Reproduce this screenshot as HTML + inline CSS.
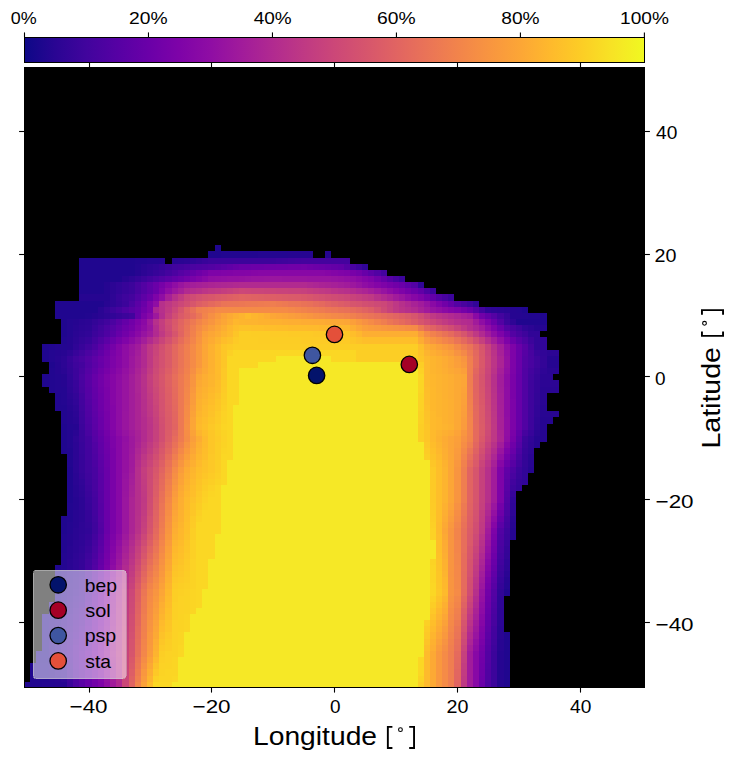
<!DOCTYPE html><html><head><meta charset="utf-8"><style>html,body{margin:0;padding:0;background:#fff;width:737px;height:761px;overflow:hidden}svg{display:block}text{fill:#000}circle,line,text{shape-rendering:geometricPrecision}</style></head><body><svg width="737" height="761" viewBox="0 0 737 761" font-family='"Liberation Sans", sans-serif' shape-rendering="crispEdges"><defs><linearGradient id="pl" x1="0" x2="1" y1="0" y2="0"><stop offset="0" stop-color="#0d0887"/><stop offset="0.05" stop-color="#2a0593"/><stop offset="0.1" stop-color="#41049d"/><stop offset="0.15" stop-color="#5601a4"/><stop offset="0.2" stop-color="#6a00a8"/><stop offset="0.25" stop-color="#7e03a8"/><stop offset="0.3" stop-color="#8f0da4"/><stop offset="0.35" stop-color="#a11b9b"/><stop offset="0.4" stop-color="#b12a90"/><stop offset="0.45" stop-color="#bf3984"/><stop offset="0.5" stop-color="#cc4778"/><stop offset="0.55" stop-color="#d6556d"/><stop offset="0.6" stop-color="#e16462"/><stop offset="0.65" stop-color="#ea7457"/><stop offset="0.7" stop-color="#f2844b"/><stop offset="0.75" stop-color="#f89540"/><stop offset="0.8" stop-color="#fca636"/><stop offset="0.85" stop-color="#feba2c"/><stop offset="0.9" stop-color="#fcce25"/><stop offset="0.95" stop-color="#f7e425"/><stop offset="1" stop-color="#f0f921"/></linearGradient></defs><rect x="24.50" y="37.40" width="619.90" height="24.90" fill="url(#pl)" stroke="#000" stroke-width="1.1"/><line x1="24.50" x2="24.50" y1="32.40" y2="37.40" stroke="#000" stroke-width="1.1"/><text transform="translate(10.86,23.55) scale(1.0388,1)" font-size="17.29">0%</text><line x1="148.48" x2="148.48" y1="32.40" y2="37.40" stroke="#000" stroke-width="1.1"/><text transform="translate(129.12,23.55) scale(1.1146,1)" font-size="17.29">20%</text><line x1="272.46" x2="272.46" y1="32.40" y2="37.40" stroke="#000" stroke-width="1.1"/><text transform="translate(253.68,23.55) scale(1.0974,1)" font-size="17.29">40%</text><line x1="396.44" x2="396.44" y1="32.40" y2="37.40" stroke="#000" stroke-width="1.1"/><text transform="translate(377.08,23.55) scale(1.1146,1)" font-size="17.29">60%</text><line x1="520.42" x2="520.42" y1="32.40" y2="37.40" stroke="#000" stroke-width="1.1"/><text transform="translate(501.25,23.55) scale(1.1088,1)" font-size="17.29">80%</text><line x1="644.40" x2="644.40" y1="32.40" y2="37.40" stroke="#000" stroke-width="1.1"/><text transform="translate(620.01,23.55) scale(1.1051,1)" font-size="17.29">100%</text><rect x="24.00" y="67.00" width="621.00" height="620.80" fill="#000"/><rect x="214.60" y="245.25" width="6.15" height="6.15" fill="#20068f"/><rect x="208.46" y="251.39" width="12.30" height="6.15" fill="#20068f"/><rect x="220.75" y="251.39" width="36.89" height="6.15" fill="#220690"/><rect x="257.64" y="251.39" width="30.74" height="6.15" fill="#240691"/><rect x="288.39" y="251.39" width="24.59" height="6.15" fill="#260591"/><rect x="325.28" y="251.39" width="6.15" height="6.15" fill="#260591"/><rect x="79.34" y="257.54" width="55.34" height="6.15" fill="#20068f"/><rect x="134.67" y="257.54" width="12.30" height="6.15" fill="#220690"/><rect x="146.97" y="257.54" width="12.30" height="6.15" fill="#240691"/><rect x="159.27" y="257.54" width="6.15" height="6.15" fill="#260591"/><rect x="171.56" y="257.54" width="6.15" height="6.15" fill="#280592"/><rect x="177.71" y="257.54" width="6.15" height="6.15" fill="#2a0593"/><rect x="183.86" y="257.54" width="6.15" height="6.15" fill="#2c0594"/><rect x="190.01" y="257.54" width="6.15" height="6.15" fill="#2f0596"/><rect x="196.16" y="257.54" width="6.15" height="6.15" fill="#330597"/><rect x="202.31" y="257.54" width="6.15" height="6.15" fill="#38049a"/><rect x="208.46" y="257.54" width="67.63" height="6.15" fill="#3c049b"/><rect x="276.09" y="257.54" width="6.15" height="6.15" fill="#3e049c"/><rect x="282.24" y="257.54" width="6.15" height="6.15" fill="#3f049c"/><rect x="288.39" y="257.54" width="6.15" height="6.15" fill="#41049d"/><rect x="294.53" y="257.54" width="6.15" height="6.15" fill="#43039e"/><rect x="300.68" y="257.54" width="49.19" height="6.15" fill="#44039e"/><rect x="79.34" y="263.69" width="55.34" height="6.15" fill="#20068f"/><rect x="134.67" y="263.69" width="6.15" height="6.15" fill="#240691"/><rect x="140.82" y="263.69" width="6.15" height="6.15" fill="#2a0593"/><rect x="146.97" y="263.69" width="6.15" height="6.15" fill="#2e0595"/><rect x="153.12" y="263.69" width="6.15" height="6.15" fill="#310597"/><rect x="159.27" y="263.69" width="6.15" height="6.15" fill="#370499"/><rect x="165.42" y="263.69" width="6.15" height="6.15" fill="#3c049b"/><rect x="171.56" y="263.69" width="6.15" height="6.15" fill="#41049d"/><rect x="177.71" y="263.69" width="6.15" height="6.15" fill="#44039e"/><rect x="183.86" y="263.69" width="6.15" height="6.15" fill="#48039f"/><rect x="190.01" y="263.69" width="6.15" height="6.15" fill="#4b03a1"/><rect x="196.16" y="263.69" width="6.15" height="6.15" fill="#4e02a2"/><rect x="202.31" y="263.69" width="6.15" height="6.15" fill="#5002a2"/><rect x="208.46" y="263.69" width="6.15" height="6.15" fill="#5302a3"/><rect x="214.60" y="263.69" width="6.15" height="6.15" fill="#5801a4"/><rect x="220.75" y="263.69" width="6.15" height="6.15" fill="#5c01a6"/><rect x="226.90" y="263.69" width="6.15" height="6.15" fill="#6100a7"/><rect x="233.05" y="263.69" width="6.15" height="6.15" fill="#6600a7"/><rect x="239.20" y="263.69" width="12.30" height="6.15" fill="#6a00a8"/><rect x="251.49" y="263.69" width="12.30" height="6.15" fill="#6c00a8"/><rect x="263.79" y="263.69" width="12.30" height="6.15" fill="#6e00a8"/><rect x="276.09" y="263.69" width="12.30" height="6.15" fill="#6f00a8"/><rect x="288.39" y="263.69" width="12.30" height="6.15" fill="#7100a8"/><rect x="300.68" y="263.69" width="6.15" height="6.15" fill="#7201a8"/><rect x="306.83" y="263.69" width="6.15" height="6.15" fill="#6f00a8"/><rect x="312.98" y="263.69" width="6.15" height="6.15" fill="#6c00a8"/><rect x="319.13" y="263.69" width="6.15" height="6.15" fill="#6a00a8"/><rect x="325.28" y="263.69" width="6.15" height="6.15" fill="#6700a8"/><rect x="331.43" y="263.69" width="6.15" height="6.15" fill="#6400a7"/><rect x="337.57" y="263.69" width="6.15" height="6.15" fill="#6100a7"/><rect x="343.72" y="263.69" width="6.15" height="6.15" fill="#5601a4"/><rect x="349.87" y="263.69" width="6.15" height="6.15" fill="#4903a0"/><rect x="356.02" y="263.69" width="6.15" height="6.15" fill="#3e049c"/><rect x="362.17" y="263.69" width="6.15" height="6.15" fill="#310597"/><rect x="79.34" y="269.83" width="55.34" height="6.15" fill="#20068f"/><rect x="134.67" y="269.83" width="6.15" height="6.15" fill="#260591"/><rect x="140.82" y="269.83" width="6.15" height="6.15" fill="#2c0594"/><rect x="146.97" y="269.83" width="6.15" height="6.15" fill="#310597"/><rect x="153.12" y="269.83" width="6.15" height="6.15" fill="#370499"/><rect x="159.27" y="269.83" width="6.15" height="6.15" fill="#3c049b"/><rect x="165.42" y="269.83" width="6.15" height="6.15" fill="#44039e"/><rect x="171.56" y="269.83" width="6.15" height="6.15" fill="#4c02a1"/><rect x="177.71" y="269.83" width="6.15" height="6.15" fill="#5502a4"/><rect x="183.86" y="269.83" width="6.15" height="6.15" fill="#5c01a6"/><rect x="190.01" y="269.83" width="6.15" height="6.15" fill="#6600a7"/><rect x="196.16" y="269.83" width="6.15" height="6.15" fill="#6e00a8"/><rect x="202.31" y="269.83" width="6.15" height="6.15" fill="#7501a8"/><rect x="208.46" y="269.83" width="12.30" height="6.15" fill="#7e03a8"/><rect x="220.75" y="269.83" width="6.15" height="6.15" fill="#8004a8"/><rect x="226.90" y="269.83" width="6.15" height="6.15" fill="#8104a7"/><rect x="233.05" y="269.83" width="12.30" height="6.15" fill="#8305a7"/><rect x="245.35" y="269.83" width="6.15" height="6.15" fill="#8405a7"/><rect x="251.49" y="269.83" width="6.15" height="6.15" fill="#8606a6"/><rect x="257.64" y="269.83" width="12.30" height="6.15" fill="#8707a6"/><rect x="269.94" y="269.83" width="55.34" height="6.15" fill="#8808a6"/><rect x="325.28" y="269.83" width="6.15" height="6.15" fill="#8606a6"/><rect x="331.43" y="269.83" width="6.15" height="6.15" fill="#8305a7"/><rect x="337.57" y="269.83" width="6.15" height="6.15" fill="#8004a8"/><rect x="343.72" y="269.83" width="6.15" height="6.15" fill="#7e03a8"/><rect x="349.87" y="269.83" width="6.15" height="6.15" fill="#7801a8"/><rect x="356.02" y="269.83" width="6.15" height="6.15" fill="#7201a8"/><rect x="362.17" y="269.83" width="6.15" height="6.15" fill="#6700a8"/><rect x="368.32" y="269.83" width="6.15" height="6.15" fill="#5c01a6"/><rect x="374.46" y="269.83" width="6.15" height="6.15" fill="#5102a3"/><rect x="380.61" y="269.83" width="6.15" height="6.15" fill="#44039e"/><rect x="79.34" y="275.98" width="43.04" height="6.15" fill="#20068f"/><rect x="122.38" y="275.98" width="6.15" height="6.15" fill="#280592"/><rect x="128.52" y="275.98" width="6.15" height="6.15" fill="#2e0595"/><rect x="134.67" y="275.98" width="6.15" height="6.15" fill="#350498"/><rect x="140.82" y="275.98" width="6.15" height="6.15" fill="#3c049b"/><rect x="146.97" y="275.98" width="6.15" height="6.15" fill="#44039e"/><rect x="153.12" y="275.98" width="6.15" height="6.15" fill="#4b03a1"/><rect x="159.27" y="275.98" width="6.15" height="6.15" fill="#5302a3"/><rect x="165.42" y="275.98" width="6.15" height="6.15" fill="#5b01a5"/><rect x="171.56" y="275.98" width="6.15" height="6.15" fill="#6300a7"/><rect x="177.71" y="275.98" width="6.15" height="6.15" fill="#6a00a8"/><rect x="183.86" y="275.98" width="6.15" height="6.15" fill="#7201a8"/><rect x="190.01" y="275.98" width="6.15" height="6.15" fill="#7a02a8"/><rect x="196.16" y="275.98" width="6.15" height="6.15" fill="#8104a7"/><rect x="202.31" y="275.98" width="6.15" height="6.15" fill="#8808a6"/><rect x="208.46" y="275.98" width="6.15" height="6.15" fill="#8f0da4"/><rect x="214.60" y="275.98" width="6.15" height="6.15" fill="#910ea3"/><rect x="220.75" y="275.98" width="6.15" height="6.15" fill="#920fa3"/><rect x="226.90" y="275.98" width="12.30" height="6.15" fill="#9410a2"/><rect x="239.20" y="275.98" width="6.15" height="6.15" fill="#9511a1"/><rect x="245.35" y="275.98" width="6.15" height="6.15" fill="#9613a1"/><rect x="251.49" y="275.98" width="12.30" height="6.15" fill="#9814a0"/><rect x="263.79" y="275.98" width="6.15" height="6.15" fill="#99159f"/><rect x="269.94" y="275.98" width="12.30" height="6.15" fill="#9a169f"/><rect x="282.24" y="275.98" width="24.59" height="6.15" fill="#99159f"/><rect x="306.83" y="275.98" width="24.59" height="6.15" fill="#9814a0"/><rect x="331.43" y="275.98" width="6.15" height="6.15" fill="#9613a1"/><rect x="337.57" y="275.98" width="6.15" height="6.15" fill="#9511a1"/><rect x="343.72" y="275.98" width="6.15" height="6.15" fill="#920fa3"/><rect x="349.87" y="275.98" width="6.15" height="6.15" fill="#8f0da4"/><rect x="356.02" y="275.98" width="6.15" height="6.15" fill="#8a09a5"/><rect x="362.17" y="275.98" width="6.15" height="6.15" fill="#8405a7"/><rect x="368.32" y="275.98" width="6.15" height="6.15" fill="#7e03a8"/><rect x="374.46" y="275.98" width="6.15" height="6.15" fill="#7201a8"/><rect x="380.61" y="275.98" width="6.15" height="6.15" fill="#6600a7"/><rect x="386.76" y="275.98" width="6.15" height="6.15" fill="#5801a4"/><rect x="392.91" y="275.98" width="6.15" height="6.15" fill="#4903a0"/><rect x="399.06" y="275.98" width="6.15" height="6.15" fill="#3c049b"/><rect x="79.34" y="282.13" width="24.59" height="6.15" fill="#20068f"/><rect x="103.93" y="282.13" width="6.15" height="6.15" fill="#260591"/><rect x="110.08" y="282.13" width="6.15" height="6.15" fill="#2c0594"/><rect x="116.23" y="282.13" width="6.15" height="6.15" fill="#310597"/><rect x="122.38" y="282.13" width="6.15" height="6.15" fill="#370499"/><rect x="128.52" y="282.13" width="6.15" height="6.15" fill="#3c049b"/><rect x="134.67" y="282.13" width="6.15" height="6.15" fill="#48039f"/><rect x="140.82" y="282.13" width="6.15" height="6.15" fill="#5302a3"/><rect x="146.97" y="282.13" width="6.15" height="6.15" fill="#5e01a6"/><rect x="153.12" y="282.13" width="6.15" height="6.15" fill="#6a00a8"/><rect x="159.27" y="282.13" width="6.15" height="6.15" fill="#7701a8"/><rect x="165.42" y="282.13" width="6.15" height="6.15" fill="#8405a7"/><rect x="171.56" y="282.13" width="6.15" height="6.15" fill="#8f0da4"/><rect x="177.71" y="282.13" width="6.15" height="6.15" fill="#99159f"/><rect x="183.86" y="282.13" width="6.15" height="6.15" fill="#a11b9b"/><rect x="190.01" y="282.13" width="6.15" height="6.15" fill="#a31e9a"/><rect x="196.16" y="282.13" width="6.15" height="6.15" fill="#a62098"/><rect x="202.31" y="282.13" width="6.15" height="6.15" fill="#a82296"/><rect x="208.46" y="282.13" width="6.15" height="6.15" fill="#ab2494"/><rect x="214.60" y="282.13" width="6.15" height="6.15" fill="#ac2694"/><rect x="220.75" y="282.13" width="6.15" height="6.15" fill="#ad2793"/><rect x="226.90" y="282.13" width="6.15" height="6.15" fill="#ae2892"/><rect x="233.05" y="282.13" width="6.15" height="6.15" fill="#b02991"/><rect x="239.20" y="282.13" width="67.63" height="6.15" fill="#b12a90"/><rect x="306.83" y="282.13" width="6.15" height="6.15" fill="#ae2892"/><rect x="312.98" y="282.13" width="6.15" height="6.15" fill="#ac2694"/><rect x="319.13" y="282.13" width="6.15" height="6.15" fill="#aa2395"/><rect x="325.28" y="282.13" width="6.15" height="6.15" fill="#a82296"/><rect x="331.43" y="282.13" width="6.15" height="6.15" fill="#a62098"/><rect x="337.57" y="282.13" width="6.15" height="6.15" fill="#a31e9a"/><rect x="343.72" y="282.13" width="6.15" height="6.15" fill="#a11b9b"/><rect x="349.87" y="282.13" width="6.15" height="6.15" fill="#9c179e"/><rect x="356.02" y="282.13" width="6.15" height="6.15" fill="#9613a1"/><rect x="362.17" y="282.13" width="6.15" height="6.15" fill="#8f0da4"/><rect x="368.32" y="282.13" width="6.15" height="6.15" fill="#8a09a5"/><rect x="374.46" y="282.13" width="6.15" height="6.15" fill="#8405a7"/><rect x="380.61" y="282.13" width="6.15" height="6.15" fill="#7e03a8"/><rect x="386.76" y="282.13" width="6.15" height="6.15" fill="#7701a8"/><rect x="392.91" y="282.13" width="6.15" height="6.15" fill="#7100a8"/><rect x="399.06" y="282.13" width="6.15" height="6.15" fill="#6a00a8"/><rect x="405.21" y="282.13" width="6.15" height="6.15" fill="#5e01a6"/><rect x="411.36" y="282.13" width="6.15" height="6.15" fill="#5302a3"/><rect x="417.50" y="282.13" width="6.15" height="6.15" fill="#310597"/><rect x="79.34" y="288.27" width="24.59" height="6.15" fill="#20068f"/><rect x="103.93" y="288.27" width="6.15" height="6.15" fill="#260591"/><rect x="110.08" y="288.27" width="6.15" height="6.15" fill="#2c0594"/><rect x="116.23" y="288.27" width="6.15" height="6.15" fill="#310597"/><rect x="122.38" y="288.27" width="6.15" height="6.15" fill="#370499"/><rect x="128.52" y="288.27" width="6.15" height="6.15" fill="#3c049b"/><rect x="134.67" y="288.27" width="6.15" height="6.15" fill="#48039f"/><rect x="140.82" y="288.27" width="6.15" height="6.15" fill="#5302a3"/><rect x="146.97" y="288.27" width="6.15" height="6.15" fill="#5e01a6"/><rect x="153.12" y="288.27" width="6.15" height="6.15" fill="#6a00a8"/><rect x="159.27" y="288.27" width="6.15" height="6.15" fill="#7e03a8"/><rect x="165.42" y="288.27" width="6.15" height="6.15" fill="#8f0da4"/><rect x="171.56" y="288.27" width="6.15" height="6.15" fill="#9c179e"/><rect x="177.71" y="288.27" width="6.15" height="6.15" fill="#a62098"/><rect x="183.86" y="288.27" width="6.15" height="6.15" fill="#b12a90"/><rect x="190.01" y="288.27" width="6.15" height="6.15" fill="#b42e8d"/><rect x="196.16" y="288.27" width="6.15" height="6.15" fill="#b7318a"/><rect x="202.31" y="288.27" width="6.15" height="6.15" fill="#bc3587"/><rect x="208.46" y="288.27" width="6.15" height="6.15" fill="#bf3984"/><rect x="214.60" y="288.27" width="6.15" height="6.15" fill="#c13b82"/><rect x="220.75" y="288.27" width="6.15" height="6.15" fill="#c43e7f"/><rect x="226.90" y="288.27" width="6.15" height="6.15" fill="#c6417d"/><rect x="233.05" y="288.27" width="6.15" height="6.15" fill="#c9447a"/><rect x="239.20" y="288.27" width="6.15" height="6.15" fill="#cc4778"/><rect x="245.35" y="288.27" width="6.15" height="6.15" fill="#cb4679"/><rect x="251.49" y="288.27" width="12.30" height="6.15" fill="#ca457a"/><rect x="263.79" y="288.27" width="12.30" height="6.15" fill="#c9447a"/><rect x="276.09" y="288.27" width="12.30" height="6.15" fill="#c8437b"/><rect x="288.39" y="288.27" width="12.30" height="6.15" fill="#c7427c"/><rect x="300.68" y="288.27" width="6.15" height="6.15" fill="#c6417d"/><rect x="306.83" y="288.27" width="6.15" height="6.15" fill="#c43e7f"/><rect x="312.98" y="288.27" width="6.15" height="6.15" fill="#c23c81"/><rect x="319.13" y="288.27" width="6.15" height="6.15" fill="#c03a83"/><rect x="325.28" y="288.27" width="6.15" height="6.15" fill="#be3885"/><rect x="331.43" y="288.27" width="6.15" height="6.15" fill="#bb3488"/><rect x="337.57" y="288.27" width="6.15" height="6.15" fill="#b83289"/><rect x="343.72" y="288.27" width="6.15" height="6.15" fill="#b6308b"/><rect x="349.87" y="288.27" width="6.15" height="6.15" fill="#b32c8e"/><rect x="356.02" y="288.27" width="6.15" height="6.15" fill="#ae2892"/><rect x="362.17" y="288.27" width="6.15" height="6.15" fill="#ab2494"/><rect x="368.32" y="288.27" width="6.15" height="6.15" fill="#a51f99"/><rect x="374.46" y="288.27" width="6.15" height="6.15" fill="#9e199d"/><rect x="380.61" y="288.27" width="6.15" height="6.15" fill="#9613a1"/><rect x="386.76" y="288.27" width="6.15" height="6.15" fill="#8e0ca4"/><rect x="392.91" y="288.27" width="6.15" height="6.15" fill="#8606a6"/><rect x="399.06" y="288.27" width="6.15" height="6.15" fill="#7e03a8"/><rect x="405.21" y="288.27" width="6.15" height="6.15" fill="#7501a8"/><rect x="411.36" y="288.27" width="6.15" height="6.15" fill="#6c00a8"/><rect x="417.50" y="288.27" width="6.15" height="6.15" fill="#6100a7"/><rect x="423.65" y="288.27" width="6.15" height="6.15" fill="#4e02a2"/><rect x="429.80" y="288.27" width="6.15" height="6.15" fill="#3c049b"/><rect x="79.34" y="294.42" width="30.74" height="6.15" fill="#260591"/><rect x="110.08" y="294.42" width="6.15" height="6.15" fill="#2e0595"/><rect x="116.23" y="294.42" width="6.15" height="6.15" fill="#370499"/><rect x="122.38" y="294.42" width="6.15" height="6.15" fill="#3e049c"/><rect x="128.52" y="294.42" width="6.15" height="6.15" fill="#44039e"/><rect x="134.67" y="294.42" width="6.15" height="6.15" fill="#5102a3"/><rect x="140.82" y="294.42" width="6.15" height="6.15" fill="#5e01a6"/><rect x="146.97" y="294.42" width="6.15" height="6.15" fill="#6a00a8"/><rect x="153.12" y="294.42" width="6.15" height="6.15" fill="#7e03a8"/><rect x="159.27" y="294.42" width="6.15" height="6.15" fill="#8f0da4"/><rect x="165.42" y="294.42" width="6.15" height="6.15" fill="#a62098"/><rect x="171.56" y="294.42" width="6.15" height="6.15" fill="#b6308b"/><rect x="177.71" y="294.42" width="6.15" height="6.15" fill="#c13b82"/><rect x="183.86" y="294.42" width="6.15" height="6.15" fill="#cc4778"/><rect x="190.01" y="294.42" width="6.15" height="6.15" fill="#cf4c74"/><rect x="196.16" y="294.42" width="6.15" height="6.15" fill="#d35171"/><rect x="202.31" y="294.42" width="6.15" height="6.15" fill="#d6556d"/><rect x="208.46" y="294.42" width="6.15" height="6.15" fill="#d8576b"/><rect x="214.60" y="294.42" width="6.15" height="6.15" fill="#da5b69"/><rect x="220.75" y="294.42" width="6.15" height="6.15" fill="#dc5d67"/><rect x="226.90" y="294.42" width="6.15" height="6.15" fill="#de5f65"/><rect x="233.05" y="294.42" width="6.15" height="6.15" fill="#df6263"/><rect x="239.20" y="294.42" width="6.15" height="6.15" fill="#e16462"/><rect x="245.35" y="294.42" width="6.15" height="6.15" fill="#e06363"/><rect x="251.49" y="294.42" width="6.15" height="6.15" fill="#df6263"/><rect x="257.64" y="294.42" width="6.15" height="6.15" fill="#de6164"/><rect x="263.79" y="294.42" width="6.15" height="6.15" fill="#de5f65"/><rect x="269.94" y="294.42" width="6.15" height="6.15" fill="#dd5e66"/><rect x="276.09" y="294.42" width="6.15" height="6.15" fill="#dc5d67"/><rect x="282.24" y="294.42" width="6.15" height="6.15" fill="#db5c68"/><rect x="288.39" y="294.42" width="6.15" height="6.15" fill="#da5b69"/><rect x="294.53" y="294.42" width="6.15" height="6.15" fill="#da5a6a"/><rect x="300.68" y="294.42" width="6.15" height="6.15" fill="#d9586a"/><rect x="306.83" y="294.42" width="6.15" height="6.15" fill="#d7566c"/><rect x="312.98" y="294.42" width="6.15" height="6.15" fill="#d5536f"/><rect x="319.13" y="294.42" width="6.15" height="6.15" fill="#d35171"/><rect x="325.28" y="294.42" width="6.15" height="6.15" fill="#d14e72"/><rect x="331.43" y="294.42" width="6.15" height="6.15" fill="#cf4c74"/><rect x="337.57" y="294.42" width="6.15" height="6.15" fill="#cd4a76"/><rect x="343.72" y="294.42" width="6.15" height="6.15" fill="#cc4778"/><rect x="349.87" y="294.42" width="6.15" height="6.15" fill="#c8437b"/><rect x="356.02" y="294.42" width="6.15" height="6.15" fill="#c5407e"/><rect x="362.17" y="294.42" width="6.15" height="6.15" fill="#c23c81"/><rect x="368.32" y="294.42" width="6.15" height="6.15" fill="#bf3984"/><rect x="374.46" y="294.42" width="6.15" height="6.15" fill="#b7318a"/><rect x="380.61" y="294.42" width="6.15" height="6.15" fill="#b12a90"/><rect x="386.76" y="294.42" width="6.15" height="6.15" fill="#aa2395"/><rect x="392.91" y="294.42" width="6.15" height="6.15" fill="#a11b9b"/><rect x="399.06" y="294.42" width="6.15" height="6.15" fill="#99159f"/><rect x="405.21" y="294.42" width="6.15" height="6.15" fill="#8f0da4"/><rect x="411.36" y="294.42" width="6.15" height="6.15" fill="#8707a6"/><rect x="417.50" y="294.42" width="6.15" height="6.15" fill="#7e03a8"/><rect x="423.65" y="294.42" width="6.15" height="6.15" fill="#7100a8"/><rect x="429.80" y="294.42" width="6.15" height="6.15" fill="#6300a7"/><rect x="435.95" y="294.42" width="6.15" height="6.15" fill="#5302a3"/><rect x="442.10" y="294.42" width="6.15" height="6.15" fill="#48039f"/><rect x="448.25" y="294.42" width="6.15" height="6.15" fill="#3c049b"/><rect x="54.74" y="300.57" width="49.19" height="6.15" fill="#20068f"/><rect x="103.93" y="300.57" width="6.15" height="6.15" fill="#280592"/><rect x="110.08" y="300.57" width="6.15" height="6.15" fill="#2e0595"/><rect x="116.23" y="300.57" width="6.15" height="6.15" fill="#350498"/><rect x="122.38" y="300.57" width="6.15" height="6.15" fill="#3c049b"/><rect x="128.52" y="300.57" width="6.15" height="6.15" fill="#4b03a1"/><rect x="134.67" y="300.57" width="6.15" height="6.15" fill="#5b01a5"/><rect x="140.82" y="300.57" width="6.15" height="6.15" fill="#6a00a8"/><rect x="146.97" y="300.57" width="6.15" height="6.15" fill="#7e03a8"/><rect x="153.12" y="300.57" width="6.15" height="6.15" fill="#8f0da4"/><rect x="159.27" y="300.57" width="6.15" height="6.15" fill="#b6308b"/><rect x="165.42" y="300.57" width="6.15" height="6.15" fill="#be3885"/><rect x="171.56" y="300.57" width="6.15" height="6.15" fill="#c5407e"/><rect x="177.71" y="300.57" width="6.15" height="6.15" fill="#cc4778"/><rect x="183.86" y="300.57" width="6.15" height="6.15" fill="#d14e72"/><rect x="190.01" y="300.57" width="6.15" height="6.15" fill="#d7566c"/><rect x="196.16" y="300.57" width="6.15" height="6.15" fill="#dd5e66"/><rect x="202.31" y="300.57" width="6.15" height="6.15" fill="#e06363"/><rect x="208.46" y="300.57" width="6.15" height="6.15" fill="#e4695e"/><rect x="214.60" y="300.57" width="6.15" height="6.15" fill="#e76e5b"/><rect x="220.75" y="300.57" width="6.15" height="6.15" fill="#ea7457"/><rect x="226.90" y="300.57" width="6.15" height="6.15" fill="#eb7556"/><rect x="233.05" y="300.57" width="6.15" height="6.15" fill="#eb7655"/><rect x="239.20" y="300.57" width="6.15" height="6.15" fill="#ec7754"/><rect x="245.35" y="300.57" width="6.15" height="6.15" fill="#ed7953"/><rect x="251.49" y="300.57" width="6.15" height="6.15" fill="#ed7a52"/><rect x="257.64" y="300.57" width="6.15" height="6.15" fill="#ee7b51"/><rect x="263.79" y="300.57" width="6.15" height="6.15" fill="#ef7c51"/><rect x="269.94" y="300.57" width="6.15" height="6.15" fill="#ef7e50"/><rect x="276.09" y="300.57" width="6.15" height="6.15" fill="#ee7b51"/><rect x="282.24" y="300.57" width="6.15" height="6.15" fill="#ed7953"/><rect x="288.39" y="300.57" width="6.15" height="6.15" fill="#eb7655"/><rect x="294.53" y="300.57" width="6.15" height="6.15" fill="#eb7556"/><rect x="300.68" y="300.57" width="6.15" height="6.15" fill="#e97257"/><rect x="306.83" y="300.57" width="6.15" height="6.15" fill="#e87059"/><rect x="312.98" y="300.57" width="6.15" height="6.15" fill="#e66c5c"/><rect x="319.13" y="300.57" width="6.15" height="6.15" fill="#e4695e"/><rect x="325.28" y="300.57" width="6.15" height="6.15" fill="#e16462"/><rect x="331.43" y="300.57" width="6.15" height="6.15" fill="#de6164"/><rect x="337.57" y="300.57" width="6.15" height="6.15" fill="#dc5d67"/><rect x="343.72" y="300.57" width="6.15" height="6.15" fill="#da5a6a"/><rect x="349.87" y="300.57" width="6.15" height="6.15" fill="#d6556d"/><rect x="356.02" y="300.57" width="6.15" height="6.15" fill="#d5536f"/><rect x="362.17" y="300.57" width="6.15" height="6.15" fill="#d24f71"/><rect x="368.32" y="300.57" width="6.15" height="6.15" fill="#d04d73"/><rect x="374.46" y="300.57" width="6.15" height="6.15" fill="#cd4a76"/><rect x="380.61" y="300.57" width="6.15" height="6.15" fill="#cc4778"/><rect x="386.76" y="300.57" width="6.15" height="6.15" fill="#c5407e"/><rect x="392.91" y="300.57" width="6.15" height="6.15" fill="#be3885"/><rect x="399.06" y="300.57" width="6.15" height="6.15" fill="#b6308b"/><rect x="405.21" y="300.57" width="6.15" height="6.15" fill="#b02991"/><rect x="411.36" y="300.57" width="6.15" height="6.15" fill="#a82296"/><rect x="417.50" y="300.57" width="6.15" height="6.15" fill="#a11b9b"/><rect x="423.65" y="300.57" width="6.15" height="6.15" fill="#9613a1"/><rect x="429.80" y="300.57" width="6.15" height="6.15" fill="#8a09a5"/><rect x="435.95" y="300.57" width="6.15" height="6.15" fill="#7e03a8"/><rect x="442.10" y="300.57" width="6.15" height="6.15" fill="#7100a8"/><rect x="448.25" y="300.57" width="6.15" height="6.15" fill="#6300a7"/><rect x="454.40" y="300.57" width="6.15" height="6.15" fill="#5302a3"/><rect x="460.54" y="300.57" width="6.15" height="6.15" fill="#48039f"/><rect x="466.69" y="300.57" width="6.15" height="6.15" fill="#3e049c"/><rect x="472.84" y="300.57" width="6.15" height="6.15" fill="#310597"/><rect x="54.74" y="306.71" width="43.04" height="6.15" fill="#20068f"/><rect x="97.78" y="306.71" width="6.15" height="6.15" fill="#2a0593"/><rect x="103.93" y="306.71" width="6.15" height="6.15" fill="#330597"/><rect x="110.08" y="306.71" width="6.15" height="6.15" fill="#3c049b"/><rect x="116.23" y="306.71" width="6.15" height="6.15" fill="#44039e"/><rect x="122.38" y="306.71" width="6.15" height="6.15" fill="#4e02a2"/><rect x="128.52" y="306.71" width="6.15" height="6.15" fill="#5801a4"/><rect x="134.67" y="306.71" width="6.15" height="6.15" fill="#6100a7"/><rect x="140.82" y="306.71" width="6.15" height="6.15" fill="#7100a8"/><rect x="146.97" y="306.71" width="6.15" height="6.15" fill="#7e03a8"/><rect x="153.12" y="306.71" width="6.15" height="6.15" fill="#ab2494"/><rect x="159.27" y="306.71" width="6.15" height="6.15" fill="#b6308b"/><rect x="165.42" y="306.71" width="6.15" height="6.15" fill="#c13b82"/><rect x="171.56" y="306.71" width="6.15" height="6.15" fill="#cc4778"/><rect x="177.71" y="306.71" width="6.15" height="6.15" fill="#d6556d"/><rect x="183.86" y="306.71" width="6.15" height="6.15" fill="#e16462"/><rect x="190.01" y="306.71" width="6.15" height="6.15" fill="#e87059"/><rect x="196.16" y="306.71" width="6.15" height="6.15" fill="#ef7e50"/><rect x="202.31" y="306.71" width="6.15" height="6.15" fill="#f1814d"/><rect x="208.46" y="306.71" width="6.15" height="6.15" fill="#f3854b"/><rect x="214.60" y="306.71" width="73.78" height="6.15" fill="#f58b47"/><rect x="288.39" y="306.71" width="6.15" height="6.15" fill="#f48849"/><rect x="294.53" y="306.71" width="6.15" height="6.15" fill="#f3854b"/><rect x="300.68" y="306.71" width="6.15" height="6.15" fill="#f1834c"/><rect x="306.83" y="306.71" width="6.15" height="6.15" fill="#f0804e"/><rect x="312.98" y="306.71" width="6.15" height="6.15" fill="#ef7e50"/><rect x="319.13" y="306.71" width="6.15" height="6.15" fill="#ee7b51"/><rect x="325.28" y="306.71" width="6.15" height="6.15" fill="#ec7754"/><rect x="331.43" y="306.71" width="6.15" height="6.15" fill="#eb7556"/><rect x="337.57" y="306.71" width="6.15" height="6.15" fill="#e97257"/><rect x="343.72" y="306.71" width="6.15" height="6.15" fill="#e87059"/><rect x="349.87" y="306.71" width="6.15" height="6.15" fill="#e66c5c"/><rect x="356.02" y="306.71" width="6.15" height="6.15" fill="#e3685f"/><rect x="362.17" y="306.71" width="6.15" height="6.15" fill="#e06363"/><rect x="368.32" y="306.71" width="6.15" height="6.15" fill="#dd5e66"/><rect x="374.46" y="306.71" width="6.15" height="6.15" fill="#d6556d"/><rect x="380.61" y="306.71" width="6.15" height="6.15" fill="#ce4b75"/><rect x="386.76" y="306.71" width="6.15" height="6.15" fill="#c7427c"/><rect x="392.91" y="306.71" width="6.15" height="6.15" fill="#bf3984"/><rect x="399.06" y="306.71" width="6.15" height="6.15" fill="#ba3388"/><rect x="405.21" y="306.71" width="6.15" height="6.15" fill="#b52f8c"/><rect x="411.36" y="306.71" width="6.15" height="6.15" fill="#b12a90"/><rect x="417.50" y="306.71" width="6.15" height="6.15" fill="#a82296"/><rect x="423.65" y="306.71" width="6.15" height="6.15" fill="#a01a9c"/><rect x="429.80" y="306.71" width="6.15" height="6.15" fill="#9613a1"/><rect x="435.95" y="306.71" width="6.15" height="6.15" fill="#910ea3"/><rect x="442.10" y="306.71" width="6.15" height="6.15" fill="#8a09a5"/><rect x="448.25" y="306.71" width="6.15" height="6.15" fill="#8405a7"/><rect x="454.40" y="306.71" width="6.15" height="6.15" fill="#7e03a8"/><rect x="460.54" y="306.71" width="6.15" height="6.15" fill="#7401a8"/><rect x="466.69" y="306.71" width="6.15" height="6.15" fill="#6a00a8"/><rect x="472.84" y="306.71" width="6.15" height="6.15" fill="#5801a4"/><rect x="478.99" y="306.71" width="6.15" height="6.15" fill="#44039e"/><rect x="485.14" y="306.71" width="6.15" height="6.15" fill="#310597"/><rect x="491.29" y="306.71" width="6.15" height="6.15" fill="#2e0595"/><rect x="497.43" y="306.71" width="6.15" height="6.15" fill="#2c0594"/><rect x="503.58" y="306.71" width="6.15" height="6.15" fill="#2a0593"/><rect x="509.73" y="306.71" width="6.15" height="6.15" fill="#260591"/><rect x="515.88" y="306.71" width="6.15" height="6.15" fill="#240691"/><rect x="522.03" y="306.71" width="6.15" height="6.15" fill="#20068f"/><rect x="54.74" y="312.86" width="30.74" height="6.15" fill="#20068f"/><rect x="85.48" y="312.86" width="6.15" height="6.15" fill="#220690"/><rect x="91.63" y="312.86" width="6.15" height="6.15" fill="#260591"/><rect x="97.78" y="312.86" width="6.15" height="6.15" fill="#2a0593"/><rect x="103.93" y="312.86" width="6.15" height="6.15" fill="#2e0595"/><rect x="110.08" y="312.86" width="6.15" height="6.15" fill="#310597"/><rect x="116.23" y="312.86" width="6.15" height="6.15" fill="#370499"/><rect x="122.38" y="312.86" width="6.15" height="6.15" fill="#3c049b"/><rect x="128.52" y="312.86" width="6.15" height="6.15" fill="#41049d"/><rect x="134.67" y="312.86" width="6.15" height="6.15" fill="#6300a7"/><rect x="140.82" y="312.86" width="6.15" height="6.15" fill="#7a02a8"/><rect x="146.97" y="312.86" width="6.15" height="6.15" fill="#8808a6"/><rect x="153.12" y="312.86" width="6.15" height="6.15" fill="#9d189d"/><rect x="159.27" y="312.86" width="6.15" height="6.15" fill="#b42e8d"/><rect x="165.42" y="312.86" width="6.15" height="6.15" fill="#c5407e"/><rect x="171.56" y="312.86" width="6.15" height="6.15" fill="#d14e72"/><rect x="177.71" y="312.86" width="6.15" height="6.15" fill="#da5a6a"/><rect x="183.86" y="312.86" width="6.15" height="6.15" fill="#df6263"/><rect x="190.01" y="312.86" width="6.15" height="6.15" fill="#e56a5d"/><rect x="196.16" y="312.86" width="6.15" height="6.15" fill="#eb7655"/><rect x="202.31" y="312.86" width="6.15" height="6.15" fill="#f2844b"/><rect x="208.46" y="312.86" width="6.15" height="6.15" fill="#f68f44"/><rect x="214.60" y="312.86" width="6.15" height="6.15" fill="#f9983e"/><rect x="220.75" y="312.86" width="6.15" height="6.15" fill="#fba238"/><rect x="226.90" y="312.86" width="6.15" height="6.15" fill="#fca934"/><rect x="233.05" y="312.86" width="6.15" height="6.15" fill="#fdaf31"/><rect x="239.20" y="312.86" width="6.15" height="6.15" fill="#fdb42f"/><rect x="245.35" y="312.86" width="6.15" height="6.15" fill="#feba2c"/><rect x="251.49" y="312.86" width="6.15" height="6.15" fill="#fdb52e"/><rect x="257.64" y="312.86" width="6.15" height="6.15" fill="#fdb130"/><rect x="263.79" y="312.86" width="6.15" height="6.15" fill="#fdac33"/><rect x="269.94" y="312.86" width="6.15" height="6.15" fill="#fca636"/><rect x="276.09" y="312.86" width="6.15" height="6.15" fill="#fca338"/><rect x="282.24" y="312.86" width="6.15" height="6.15" fill="#fba139"/><rect x="288.39" y="312.86" width="6.15" height="6.15" fill="#fa9e3b"/><rect x="294.53" y="312.86" width="6.15" height="6.15" fill="#fa9b3d"/><rect x="300.68" y="312.86" width="6.15" height="6.15" fill="#f9983e"/><rect x="306.83" y="312.86" width="6.15" height="6.15" fill="#f89540"/><rect x="312.98" y="312.86" width="6.15" height="6.15" fill="#f79143"/><rect x="319.13" y="312.86" width="6.15" height="6.15" fill="#f68f44"/><rect x="325.28" y="312.86" width="6.15" height="6.15" fill="#f58c46"/><rect x="331.43" y="312.86" width="6.15" height="6.15" fill="#f48948"/><rect x="337.57" y="312.86" width="6.15" height="6.15" fill="#f3874a"/><rect x="343.72" y="312.86" width="6.15" height="6.15" fill="#f2844b"/><rect x="349.87" y="312.86" width="6.15" height="6.15" fill="#f0804e"/><rect x="356.02" y="312.86" width="6.15" height="6.15" fill="#ee7b51"/><rect x="362.17" y="312.86" width="6.15" height="6.15" fill="#ec7754"/><rect x="368.32" y="312.86" width="6.15" height="6.15" fill="#ea7457"/><rect x="374.46" y="312.86" width="6.15" height="6.15" fill="#e87059"/><rect x="380.61" y="312.86" width="6.15" height="6.15" fill="#e66c5c"/><rect x="386.76" y="312.86" width="6.15" height="6.15" fill="#e3685f"/><rect x="392.91" y="312.86" width="6.15" height="6.15" fill="#e16462"/><rect x="399.06" y="312.86" width="6.15" height="6.15" fill="#de5f65"/><rect x="405.21" y="312.86" width="6.15" height="6.15" fill="#da5b69"/><rect x="411.36" y="312.86" width="6.15" height="6.15" fill="#d6556d"/><rect x="417.50" y="312.86" width="6.15" height="6.15" fill="#cf4c74"/><rect x="423.65" y="312.86" width="6.15" height="6.15" fill="#c7427c"/><rect x="429.80" y="312.86" width="6.15" height="6.15" fill="#bf3984"/><rect x="435.95" y="312.86" width="6.15" height="6.15" fill="#ba3388"/><rect x="442.10" y="312.86" width="6.15" height="6.15" fill="#b52f8c"/><rect x="448.25" y="312.86" width="6.15" height="6.15" fill="#b12a90"/><rect x="454.40" y="312.86" width="6.15" height="6.15" fill="#ac2694"/><rect x="460.54" y="312.86" width="6.15" height="6.15" fill="#a62098"/><rect x="466.69" y="312.86" width="6.15" height="6.15" fill="#a11b9b"/><rect x="472.84" y="312.86" width="6.15" height="6.15" fill="#8a09a5"/><rect x="478.99" y="312.86" width="6.15" height="6.15" fill="#7201a8"/><rect x="485.14" y="312.86" width="6.15" height="6.15" fill="#6400a7"/><rect x="491.29" y="312.86" width="6.15" height="6.15" fill="#5502a4"/><rect x="497.43" y="312.86" width="6.15" height="6.15" fill="#44039e"/><rect x="503.58" y="312.86" width="6.15" height="6.15" fill="#370499"/><rect x="509.73" y="312.86" width="12.30" height="6.15" fill="#260591"/><rect x="522.03" y="312.86" width="6.15" height="6.15" fill="#240691"/><rect x="528.18" y="312.86" width="12.30" height="6.15" fill="#220690"/><rect x="540.47" y="312.86" width="6.15" height="6.15" fill="#20068f"/><rect x="60.89" y="319.01" width="6.15" height="6.15" fill="#20068f"/><rect x="67.04" y="319.01" width="6.15" height="6.15" fill="#240691"/><rect x="73.19" y="319.01" width="6.15" height="6.15" fill="#260591"/><rect x="79.34" y="319.01" width="6.15" height="6.15" fill="#2a0593"/><rect x="85.48" y="319.01" width="6.15" height="6.15" fill="#2c0594"/><rect x="91.63" y="319.01" width="6.15" height="6.15" fill="#330597"/><rect x="97.78" y="319.01" width="6.15" height="6.15" fill="#3a049a"/><rect x="103.93" y="319.01" width="6.15" height="6.15" fill="#41049d"/><rect x="110.08" y="319.01" width="6.15" height="6.15" fill="#4b03a1"/><rect x="116.23" y="319.01" width="6.15" height="6.15" fill="#5801a4"/><rect x="122.38" y="319.01" width="6.15" height="6.15" fill="#6400a7"/><rect x="128.52" y="319.01" width="6.15" height="6.15" fill="#7100a8"/><rect x="134.67" y="319.01" width="6.15" height="6.15" fill="#7e03a8"/><rect x="140.82" y="319.01" width="6.15" height="6.15" fill="#8a09a5"/><rect x="146.97" y="319.01" width="6.15" height="6.15" fill="#9e199d"/><rect x="153.12" y="319.01" width="6.15" height="6.15" fill="#b6308b"/><rect x="159.27" y="319.01" width="6.15" height="6.15" fill="#c43e7f"/><rect x="165.42" y="319.01" width="6.15" height="6.15" fill="#d04d73"/><rect x="171.56" y="319.01" width="6.15" height="6.15" fill="#d9586a"/><rect x="177.71" y="319.01" width="6.15" height="6.15" fill="#e16462"/><rect x="183.86" y="319.01" width="6.15" height="6.15" fill="#e76f5a"/><rect x="190.01" y="319.01" width="6.15" height="6.15" fill="#ed7953"/><rect x="196.16" y="319.01" width="6.15" height="6.15" fill="#f2844b"/><rect x="202.31" y="319.01" width="6.15" height="6.15" fill="#f68d45"/><rect x="208.46" y="319.01" width="6.15" height="6.15" fill="#f89540"/><rect x="214.60" y="319.01" width="6.15" height="6.15" fill="#fb9f3a"/><rect x="220.75" y="319.01" width="6.15" height="6.15" fill="#fca636"/><rect x="226.90" y="319.01" width="6.15" height="6.15" fill="#fdae32"/><rect x="233.05" y="319.01" width="6.15" height="6.15" fill="#feb72d"/><rect x="239.20" y="319.01" width="6.15" height="6.15" fill="#fdb52e"/><rect x="245.35" y="319.01" width="12.30" height="6.15" fill="#fdb42f"/><rect x="257.64" y="319.01" width="12.30" height="6.15" fill="#fdb22f"/><rect x="269.94" y="319.01" width="12.30" height="6.15" fill="#fdb130"/><rect x="282.24" y="319.01" width="6.15" height="6.15" fill="#fdaf31"/><rect x="288.39" y="319.01" width="12.30" height="6.15" fill="#fdae32"/><rect x="300.68" y="319.01" width="12.30" height="6.15" fill="#fdac33"/><rect x="312.98" y="319.01" width="12.30" height="6.15" fill="#fdab33"/><rect x="325.28" y="319.01" width="6.15" height="6.15" fill="#fca934"/><rect x="331.43" y="319.01" width="12.30" height="6.15" fill="#fca835"/><rect x="343.72" y="319.01" width="6.15" height="6.15" fill="#fca636"/><rect x="349.87" y="319.01" width="6.15" height="6.15" fill="#fb9f3a"/><rect x="356.02" y="319.01" width="6.15" height="6.15" fill="#f9983e"/><rect x="362.17" y="319.01" width="6.15" height="6.15" fill="#f79143"/><rect x="368.32" y="319.01" width="6.15" height="6.15" fill="#f58b47"/><rect x="374.46" y="319.01" width="6.15" height="6.15" fill="#f2844b"/><rect x="380.61" y="319.01" width="6.15" height="6.15" fill="#ef7e50"/><rect x="386.76" y="319.01" width="6.15" height="6.15" fill="#eb7655"/><rect x="392.91" y="319.01" width="6.15" height="6.15" fill="#e87059"/><rect x="399.06" y="319.01" width="6.15" height="6.15" fill="#e56a5d"/><rect x="405.21" y="319.01" width="6.15" height="6.15" fill="#e16462"/><rect x="411.36" y="319.01" width="6.15" height="6.15" fill="#dc5d67"/><rect x="417.50" y="319.01" width="6.15" height="6.15" fill="#d6556d"/><rect x="423.65" y="319.01" width="6.15" height="6.15" fill="#d14e72"/><rect x="429.80" y="319.01" width="6.15" height="6.15" fill="#cc4778"/><rect x="435.95" y="319.01" width="6.15" height="6.15" fill="#c6417d"/><rect x="442.10" y="319.01" width="6.15" height="6.15" fill="#c13b82"/><rect x="448.25" y="319.01" width="6.15" height="6.15" fill="#bc3587"/><rect x="454.40" y="319.01" width="6.15" height="6.15" fill="#b6308b"/><rect x="460.54" y="319.01" width="6.15" height="6.15" fill="#b32c8e"/><rect x="466.69" y="319.01" width="6.15" height="6.15" fill="#b12a90"/><rect x="472.84" y="319.01" width="6.15" height="6.15" fill="#a11b9b"/><rect x="478.99" y="319.01" width="6.15" height="6.15" fill="#8f0da4"/><rect x="485.14" y="319.01" width="6.15" height="6.15" fill="#7e03a8"/><rect x="491.29" y="319.01" width="6.15" height="6.15" fill="#6a00a8"/><rect x="497.43" y="319.01" width="6.15" height="6.15" fill="#5302a3"/><rect x="503.58" y="319.01" width="6.15" height="6.15" fill="#3c049b"/><rect x="509.73" y="319.01" width="6.15" height="6.15" fill="#2e0595"/><rect x="515.88" y="319.01" width="30.74" height="6.15" fill="#20068f"/><rect x="60.89" y="325.15" width="6.15" height="6.15" fill="#20068f"/><rect x="67.04" y="325.15" width="6.15" height="6.15" fill="#240691"/><rect x="73.19" y="325.15" width="6.15" height="6.15" fill="#280592"/><rect x="79.34" y="325.15" width="6.15" height="6.15" fill="#2c0594"/><rect x="85.48" y="325.15" width="6.15" height="6.15" fill="#2e0595"/><rect x="91.63" y="325.15" width="6.15" height="6.15" fill="#38049a"/><rect x="97.78" y="325.15" width="6.15" height="6.15" fill="#41049d"/><rect x="103.93" y="325.15" width="6.15" height="6.15" fill="#4b03a1"/><rect x="110.08" y="325.15" width="6.15" height="6.15" fill="#5502a4"/><rect x="116.23" y="325.15" width="6.15" height="6.15" fill="#6001a6"/><rect x="122.38" y="325.15" width="6.15" height="6.15" fill="#6c00a8"/><rect x="128.52" y="325.15" width="6.15" height="6.15" fill="#7501a8"/><rect x="134.67" y="325.15" width="6.15" height="6.15" fill="#8305a7"/><rect x="140.82" y="325.15" width="6.15" height="6.15" fill="#8e0ca4"/><rect x="146.97" y="325.15" width="6.15" height="6.15" fill="#9a169f"/><rect x="153.12" y="325.15" width="6.15" height="6.15" fill="#b22b8f"/><rect x="159.27" y="325.15" width="6.15" height="6.15" fill="#c33d80"/><rect x="165.42" y="325.15" width="6.15" height="6.15" fill="#ce4b75"/><rect x="171.56" y="325.15" width="6.15" height="6.15" fill="#da5a6a"/><rect x="177.71" y="325.15" width="6.15" height="6.15" fill="#e26660"/><rect x="183.86" y="325.15" width="6.15" height="6.15" fill="#e97257"/><rect x="190.01" y="325.15" width="6.15" height="6.15" fill="#f07f4f"/><rect x="196.16" y="325.15" width="6.15" height="6.15" fill="#f58b47"/><rect x="202.31" y="325.15" width="6.15" height="6.15" fill="#f89540"/><rect x="208.46" y="325.15" width="6.15" height="6.15" fill="#fa9e3b"/><rect x="214.60" y="325.15" width="6.15" height="6.15" fill="#fca636"/><rect x="220.75" y="325.15" width="6.15" height="6.15" fill="#fdae32"/><rect x="226.90" y="325.15" width="6.15" height="6.15" fill="#feb72d"/><rect x="233.05" y="325.15" width="6.15" height="6.15" fill="#febe2a"/><rect x="239.20" y="325.15" width="12.30" height="6.15" fill="#fdc229"/><rect x="251.49" y="325.15" width="12.30" height="6.15" fill="#fec029"/><rect x="263.79" y="325.15" width="12.30" height="6.15" fill="#febe2a"/><rect x="276.09" y="325.15" width="12.30" height="6.15" fill="#febd2a"/><rect x="288.39" y="325.15" width="18.45" height="6.15" fill="#febb2b"/><rect x="306.83" y="325.15" width="12.30" height="6.15" fill="#feba2c"/><rect x="319.13" y="325.15" width="12.30" height="6.15" fill="#feb82c"/><rect x="331.43" y="325.15" width="18.45" height="6.15" fill="#feb72d"/><rect x="349.87" y="325.15" width="6.15" height="6.15" fill="#fdae32"/><rect x="356.02" y="325.15" width="6.15" height="6.15" fill="#fca636"/><rect x="362.17" y="325.15" width="6.15" height="6.15" fill="#fb9f3a"/><rect x="368.32" y="325.15" width="6.15" height="6.15" fill="#fa9c3c"/><rect x="374.46" y="325.15" width="6.15" height="6.15" fill="#f99a3e"/><rect x="380.61" y="325.15" width="6.15" height="6.15" fill="#f9973f"/><rect x="386.76" y="325.15" width="6.15" height="6.15" fill="#f89540"/><rect x="392.91" y="325.15" width="6.15" height="6.15" fill="#f79342"/><rect x="399.06" y="325.15" width="6.15" height="6.15" fill="#f79044"/><rect x="405.21" y="325.15" width="6.15" height="6.15" fill="#f68d45"/><rect x="411.36" y="325.15" width="6.15" height="6.15" fill="#f58b47"/><rect x="417.50" y="325.15" width="6.15" height="6.15" fill="#ed7a52"/><rect x="423.65" y="325.15" width="6.15" height="6.15" fill="#e56a5d"/><rect x="429.80" y="325.15" width="6.15" height="6.15" fill="#e06363"/><rect x="435.95" y="325.15" width="6.15" height="6.15" fill="#da5b69"/><rect x="442.10" y="325.15" width="6.15" height="6.15" fill="#d5546e"/><rect x="448.25" y="325.15" width="6.15" height="6.15" fill="#d04d73"/><rect x="454.40" y="325.15" width="6.15" height="6.15" fill="#c8437b"/><rect x="460.54" y="325.15" width="6.15" height="6.15" fill="#bf3984"/><rect x="466.69" y="325.15" width="6.15" height="6.15" fill="#b52f8c"/><rect x="472.84" y="325.15" width="6.15" height="6.15" fill="#ac2694"/><rect x="478.99" y="325.15" width="6.15" height="6.15" fill="#a11b9b"/><rect x="485.14" y="325.15" width="6.15" height="6.15" fill="#8f0da4"/><rect x="491.29" y="325.15" width="6.15" height="6.15" fill="#7e03a8"/><rect x="497.43" y="325.15" width="6.15" height="6.15" fill="#6a00a8"/><rect x="503.58" y="325.15" width="6.15" height="6.15" fill="#5302a3"/><rect x="509.73" y="325.15" width="6.15" height="6.15" fill="#48039f"/><rect x="515.88" y="325.15" width="6.15" height="6.15" fill="#3e049c"/><rect x="522.03" y="325.15" width="6.15" height="6.15" fill="#310597"/><rect x="528.18" y="325.15" width="6.15" height="6.15" fill="#2c0594"/><rect x="534.33" y="325.15" width="12.30" height="6.15" fill="#260591"/><rect x="60.89" y="331.30" width="6.15" height="6.15" fill="#20068f"/><rect x="67.04" y="331.30" width="6.15" height="6.15" fill="#240691"/><rect x="73.19" y="331.30" width="6.15" height="6.15" fill="#2a0593"/><rect x="79.34" y="331.30" width="6.15" height="6.15" fill="#2e0595"/><rect x="85.48" y="331.30" width="6.15" height="6.15" fill="#310597"/><rect x="91.63" y="331.30" width="6.15" height="6.15" fill="#3c049b"/><rect x="97.78" y="331.30" width="6.15" height="6.15" fill="#44039e"/><rect x="103.93" y="331.30" width="6.15" height="6.15" fill="#4e02a2"/><rect x="110.08" y="331.30" width="6.15" height="6.15" fill="#5901a5"/><rect x="116.23" y="331.30" width="6.15" height="6.15" fill="#6700a8"/><rect x="122.38" y="331.30" width="6.15" height="6.15" fill="#7201a8"/><rect x="128.52" y="331.30" width="6.15" height="6.15" fill="#7e03a8"/><rect x="134.67" y="331.30" width="6.15" height="6.15" fill="#8a09a5"/><rect x="140.82" y="331.30" width="6.15" height="6.15" fill="#9613a1"/><rect x="146.97" y="331.30" width="6.15" height="6.15" fill="#a11b9b"/><rect x="153.12" y="331.30" width="6.15" height="6.15" fill="#b12a90"/><rect x="159.27" y="331.30" width="6.15" height="6.15" fill="#bf3984"/><rect x="165.42" y="331.30" width="6.15" height="6.15" fill="#cc4778"/><rect x="171.56" y="331.30" width="6.15" height="6.15" fill="#d6556d"/><rect x="177.71" y="331.30" width="6.15" height="6.15" fill="#e16462"/><rect x="183.86" y="331.30" width="6.15" height="6.15" fill="#ea7457"/><rect x="190.01" y="331.30" width="6.15" height="6.15" fill="#f1814d"/><rect x="196.16" y="331.30" width="6.15" height="6.15" fill="#f79044"/><rect x="202.31" y="331.30" width="6.15" height="6.15" fill="#fb9f3a"/><rect x="208.46" y="331.30" width="6.15" height="6.15" fill="#fca636"/><rect x="214.60" y="331.30" width="6.15" height="6.15" fill="#fdac33"/><rect x="220.75" y="331.30" width="6.15" height="6.15" fill="#fdb42f"/><rect x="226.90" y="331.30" width="6.15" height="6.15" fill="#feba2c"/><rect x="233.05" y="331.30" width="6.15" height="6.15" fill="#fdc527"/><rect x="239.20" y="331.30" width="12.30" height="6.15" fill="#fcce25"/><rect x="251.49" y="331.30" width="18.45" height="6.15" fill="#fccd25"/><rect x="269.94" y="331.30" width="18.45" height="6.15" fill="#fdcb26"/><rect x="288.39" y="331.30" width="24.59" height="6.15" fill="#fdca26"/><rect x="312.98" y="331.30" width="18.45" height="6.15" fill="#fdc827"/><rect x="331.43" y="331.30" width="18.45" height="6.15" fill="#fdc627"/><rect x="349.87" y="331.30" width="6.15" height="6.15" fill="#febe2a"/><rect x="356.02" y="331.30" width="6.15" height="6.15" fill="#feb72d"/><rect x="362.17" y="331.30" width="55.34" height="6.15" fill="#fdae32"/><rect x="417.50" y="331.30" width="6.15" height="6.15" fill="#fa9c3c"/><rect x="423.65" y="331.30" width="6.15" height="6.15" fill="#f58b47"/><rect x="429.80" y="331.30" width="6.15" height="6.15" fill="#f1814d"/><rect x="435.95" y="331.30" width="6.15" height="6.15" fill="#ed7a52"/><rect x="442.10" y="331.30" width="6.15" height="6.15" fill="#e97257"/><rect x="448.25" y="331.30" width="6.15" height="6.15" fill="#e56a5d"/><rect x="454.40" y="331.30" width="6.15" height="6.15" fill="#de5f65"/><rect x="460.54" y="331.30" width="6.15" height="6.15" fill="#d6556d"/><rect x="466.69" y="331.30" width="6.15" height="6.15" fill="#cc4778"/><rect x="472.84" y="331.30" width="6.15" height="6.15" fill="#bf3984"/><rect x="478.99" y="331.30" width="6.15" height="6.15" fill="#b12a90"/><rect x="485.14" y="331.30" width="6.15" height="6.15" fill="#a11b9b"/><rect x="491.29" y="331.30" width="6.15" height="6.15" fill="#8f0da4"/><rect x="497.43" y="331.30" width="6.15" height="6.15" fill="#7e03a8"/><rect x="503.58" y="331.30" width="6.15" height="6.15" fill="#6a00a8"/><rect x="509.73" y="331.30" width="6.15" height="6.15" fill="#5302a3"/><rect x="515.88" y="331.30" width="6.15" height="6.15" fill="#48039f"/><rect x="522.03" y="331.30" width="6.15" height="6.15" fill="#3e049c"/><rect x="528.18" y="331.30" width="12.30" height="6.15" fill="#310597"/><rect x="60.89" y="337.45" width="6.15" height="6.15" fill="#220690"/><rect x="67.04" y="337.45" width="6.15" height="6.15" fill="#260591"/><rect x="73.19" y="337.45" width="6.15" height="6.15" fill="#2c0594"/><rect x="79.34" y="337.45" width="6.15" height="6.15" fill="#330597"/><rect x="85.48" y="337.45" width="6.15" height="6.15" fill="#38049a"/><rect x="91.63" y="337.45" width="6.15" height="6.15" fill="#44039e"/><rect x="97.78" y="337.45" width="6.15" height="6.15" fill="#5002a2"/><rect x="103.93" y="337.45" width="6.15" height="6.15" fill="#5c01a6"/><rect x="110.08" y="337.45" width="6.15" height="6.15" fill="#6900a8"/><rect x="116.23" y="337.45" width="6.15" height="6.15" fill="#7501a8"/><rect x="122.38" y="337.45" width="6.15" height="6.15" fill="#8004a8"/><rect x="128.52" y="337.45" width="6.15" height="6.15" fill="#8b0aa5"/><rect x="134.67" y="337.45" width="6.15" height="6.15" fill="#9613a1"/><rect x="140.82" y="337.45" width="6.15" height="6.15" fill="#a31e9a"/><rect x="146.97" y="337.45" width="6.15" height="6.15" fill="#b12a90"/><rect x="153.12" y="337.45" width="6.15" height="6.15" fill="#bd3786"/><rect x="159.27" y="337.45" width="6.15" height="6.15" fill="#c9447a"/><rect x="165.42" y="337.45" width="6.15" height="6.15" fill="#d35171"/><rect x="171.56" y="337.45" width="6.15" height="6.15" fill="#dd5e66"/><rect x="177.71" y="337.45" width="6.15" height="6.15" fill="#e66c5c"/><rect x="183.86" y="337.45" width="6.15" height="6.15" fill="#ed7953"/><rect x="190.01" y="337.45" width="6.15" height="6.15" fill="#f3854b"/><rect x="196.16" y="337.45" width="6.15" height="6.15" fill="#f89441"/><rect x="202.31" y="337.45" width="6.15" height="6.15" fill="#fca338"/><rect x="208.46" y="337.45" width="6.15" height="6.15" fill="#fdab33"/><rect x="214.60" y="337.45" width="6.15" height="6.15" fill="#fdb42f"/><rect x="220.75" y="337.45" width="6.15" height="6.15" fill="#febd2a"/><rect x="226.90" y="337.45" width="6.15" height="6.15" fill="#fdc229"/><rect x="233.05" y="337.45" width="6.15" height="6.15" fill="#fdca26"/><rect x="239.20" y="337.45" width="18.45" height="6.15" fill="#fcce25"/><rect x="257.64" y="337.45" width="43.04" height="6.15" fill="#fccd25"/><rect x="300.68" y="337.45" width="36.89" height="6.15" fill="#fdcb26"/><rect x="337.57" y="337.45" width="12.30" height="6.15" fill="#fdca26"/><rect x="349.87" y="337.45" width="6.15" height="6.15" fill="#fdc627"/><rect x="356.02" y="337.45" width="6.15" height="6.15" fill="#fdc229"/><rect x="362.17" y="337.45" width="55.34" height="6.15" fill="#febe2a"/><rect x="417.50" y="337.45" width="6.15" height="6.15" fill="#fdac33"/><rect x="423.65" y="337.45" width="6.15" height="6.15" fill="#fa9c3c"/><rect x="429.80" y="337.45" width="6.15" height="6.15" fill="#f89441"/><rect x="435.95" y="337.45" width="6.15" height="6.15" fill="#f68d45"/><rect x="442.10" y="337.45" width="6.15" height="6.15" fill="#f3854b"/><rect x="448.25" y="337.45" width="6.15" height="6.15" fill="#f07f4f"/><rect x="454.40" y="337.45" width="6.15" height="6.15" fill="#ea7457"/><rect x="460.54" y="337.45" width="6.15" height="6.15" fill="#e4695e"/><rect x="466.69" y="337.45" width="6.15" height="6.15" fill="#dc5d67"/><rect x="472.84" y="337.45" width="6.15" height="6.15" fill="#d14e72"/><rect x="478.99" y="337.45" width="6.15" height="6.15" fill="#c5407e"/><rect x="485.14" y="337.45" width="6.15" height="6.15" fill="#b52f8c"/><rect x="491.29" y="337.45" width="6.15" height="6.15" fill="#a51f99"/><rect x="497.43" y="337.45" width="6.15" height="6.15" fill="#920fa3"/><rect x="503.58" y="337.45" width="6.15" height="6.15" fill="#7e03a8"/><rect x="509.73" y="337.45" width="6.15" height="6.15" fill="#6a00a8"/><rect x="515.88" y="337.45" width="6.15" height="6.15" fill="#5901a5"/><rect x="522.03" y="337.45" width="6.15" height="6.15" fill="#4b03a1"/><rect x="528.18" y="337.45" width="6.15" height="6.15" fill="#3c049b"/><rect x="534.33" y="337.45" width="12.30" height="6.15" fill="#310597"/><rect x="42.45" y="343.59" width="6.15" height="6.15" fill="#20068f"/><rect x="48.59" y="343.59" width="6.15" height="6.15" fill="#220690"/><rect x="54.74" y="343.59" width="12.30" height="6.15" fill="#240691"/><rect x="67.04" y="343.59" width="6.15" height="6.15" fill="#260591"/><rect x="73.19" y="343.59" width="6.15" height="6.15" fill="#2f0596"/><rect x="79.34" y="343.59" width="6.15" height="6.15" fill="#38049a"/><rect x="85.48" y="343.59" width="6.15" height="6.15" fill="#41049d"/><rect x="91.63" y="343.59" width="6.15" height="6.15" fill="#4c02a1"/><rect x="97.78" y="343.59" width="6.15" height="6.15" fill="#5b01a5"/><rect x="103.93" y="343.59" width="6.15" height="6.15" fill="#6900a8"/><rect x="110.08" y="343.59" width="6.15" height="6.15" fill="#7501a8"/><rect x="116.23" y="343.59" width="6.15" height="6.15" fill="#8305a7"/><rect x="122.38" y="343.59" width="6.15" height="6.15" fill="#8e0ca4"/><rect x="128.52" y="343.59" width="6.15" height="6.15" fill="#9814a0"/><rect x="134.67" y="343.59" width="6.15" height="6.15" fill="#a11b9b"/><rect x="140.82" y="343.59" width="6.15" height="6.15" fill="#b12a90"/><rect x="146.97" y="343.59" width="6.15" height="6.15" fill="#bf3984"/><rect x="153.12" y="343.59" width="6.15" height="6.15" fill="#c9447a"/><rect x="159.27" y="343.59" width="6.15" height="6.15" fill="#d24f71"/><rect x="165.42" y="343.59" width="6.15" height="6.15" fill="#da5b69"/><rect x="171.56" y="343.59" width="6.15" height="6.15" fill="#e3685f"/><rect x="177.71" y="343.59" width="6.15" height="6.15" fill="#ea7457"/><rect x="183.86" y="343.59" width="6.15" height="6.15" fill="#f07f4f"/><rect x="190.01" y="343.59" width="6.15" height="6.15" fill="#f58b47"/><rect x="196.16" y="343.59" width="6.15" height="6.15" fill="#f9983e"/><rect x="202.31" y="343.59" width="6.15" height="6.15" fill="#fca636"/><rect x="208.46" y="343.59" width="6.15" height="6.15" fill="#fdb130"/><rect x="214.60" y="343.59" width="6.15" height="6.15" fill="#febb2b"/><rect x="220.75" y="343.59" width="6.15" height="6.15" fill="#fdc627"/><rect x="226.90" y="343.59" width="6.15" height="6.15" fill="#fdca26"/><rect x="233.05" y="343.59" width="184.46" height="6.15" fill="#fcce25"/><rect x="417.50" y="343.59" width="6.15" height="6.15" fill="#febe2a"/><rect x="423.65" y="343.59" width="6.15" height="6.15" fill="#fdae32"/><rect x="429.80" y="343.59" width="6.15" height="6.15" fill="#fca835"/><rect x="435.95" y="343.59" width="6.15" height="6.15" fill="#fba139"/><rect x="442.10" y="343.59" width="6.15" height="6.15" fill="#fa9b3d"/><rect x="448.25" y="343.59" width="6.15" height="6.15" fill="#f89540"/><rect x="454.40" y="343.59" width="6.15" height="6.15" fill="#f48948"/><rect x="460.54" y="343.59" width="6.15" height="6.15" fill="#ef7e50"/><rect x="466.69" y="343.59" width="6.15" height="6.15" fill="#ea7457"/><rect x="472.84" y="343.59" width="6.15" height="6.15" fill="#e16462"/><rect x="478.99" y="343.59" width="6.15" height="6.15" fill="#d6556d"/><rect x="485.14" y="343.59" width="6.15" height="6.15" fill="#c8437b"/><rect x="491.29" y="343.59" width="6.15" height="6.15" fill="#b6308b"/><rect x="497.43" y="343.59" width="6.15" height="6.15" fill="#a51f99"/><rect x="503.58" y="343.59" width="6.15" height="6.15" fill="#8f0da4"/><rect x="509.73" y="343.59" width="6.15" height="6.15" fill="#7e03a8"/><rect x="515.88" y="343.59" width="6.15" height="6.15" fill="#6a00a8"/><rect x="522.03" y="343.59" width="6.15" height="6.15" fill="#5801a4"/><rect x="528.18" y="343.59" width="6.15" height="6.15" fill="#44039e"/><rect x="534.33" y="343.59" width="12.30" height="6.15" fill="#310597"/><rect x="42.45" y="349.74" width="6.15" height="6.15" fill="#20068f"/><rect x="48.59" y="349.74" width="6.15" height="6.15" fill="#240691"/><rect x="54.74" y="349.74" width="6.15" height="6.15" fill="#260591"/><rect x="60.89" y="349.74" width="6.15" height="6.15" fill="#280592"/><rect x="67.04" y="349.74" width="6.15" height="6.15" fill="#2e0595"/><rect x="73.19" y="349.74" width="6.15" height="6.15" fill="#38049a"/><rect x="79.34" y="349.74" width="6.15" height="6.15" fill="#41049d"/><rect x="85.48" y="349.74" width="6.15" height="6.15" fill="#4b03a1"/><rect x="91.63" y="349.74" width="6.15" height="6.15" fill="#5502a4"/><rect x="97.78" y="349.74" width="6.15" height="6.15" fill="#6100a7"/><rect x="103.93" y="349.74" width="6.15" height="6.15" fill="#6e00a8"/><rect x="110.08" y="349.74" width="6.15" height="6.15" fill="#7a02a8"/><rect x="116.23" y="349.74" width="6.15" height="6.15" fill="#8405a7"/><rect x="122.38" y="349.74" width="6.15" height="6.15" fill="#8f0da4"/><rect x="128.52" y="349.74" width="6.15" height="6.15" fill="#99159f"/><rect x="134.67" y="349.74" width="6.15" height="6.15" fill="#a31e9a"/><rect x="140.82" y="349.74" width="6.15" height="6.15" fill="#b12a90"/><rect x="146.97" y="349.74" width="6.15" height="6.15" fill="#bf3984"/><rect x="153.12" y="349.74" width="6.15" height="6.15" fill="#ca457a"/><rect x="159.27" y="349.74" width="6.15" height="6.15" fill="#d35171"/><rect x="165.42" y="349.74" width="6.15" height="6.15" fill="#da5b69"/><rect x="171.56" y="349.74" width="6.15" height="6.15" fill="#e3685f"/><rect x="177.71" y="349.74" width="6.15" height="6.15" fill="#ea7457"/><rect x="183.86" y="349.74" width="6.15" height="6.15" fill="#f07f4f"/><rect x="190.01" y="349.74" width="6.15" height="6.15" fill="#f58b47"/><rect x="196.16" y="349.74" width="6.15" height="6.15" fill="#f9983e"/><rect x="202.31" y="349.74" width="6.15" height="6.15" fill="#fca636"/><rect x="208.46" y="349.74" width="6.15" height="6.15" fill="#fdb130"/><rect x="214.60" y="349.74" width="6.15" height="6.15" fill="#febb2b"/><rect x="220.75" y="349.74" width="6.15" height="6.15" fill="#fdc627"/><rect x="226.90" y="349.74" width="6.15" height="6.15" fill="#fcd025"/><rect x="233.05" y="349.74" width="122.97" height="6.15" fill="#fbd724"/><rect x="356.02" y="349.74" width="61.49" height="6.15" fill="#fcce25"/><rect x="417.50" y="349.74" width="6.15" height="6.15" fill="#fdc229"/><rect x="423.65" y="349.74" width="6.15" height="6.15" fill="#fdb42f"/><rect x="429.80" y="349.74" width="6.15" height="6.15" fill="#fdae32"/><rect x="435.95" y="349.74" width="6.15" height="6.15" fill="#fca934"/><rect x="442.10" y="349.74" width="6.15" height="6.15" fill="#fca338"/><rect x="448.25" y="349.74" width="6.15" height="6.15" fill="#fa9e3b"/><rect x="454.40" y="349.74" width="6.15" height="6.15" fill="#f79342"/><rect x="460.54" y="349.74" width="6.15" height="6.15" fill="#f48948"/><rect x="466.69" y="349.74" width="6.15" height="6.15" fill="#ed7953"/><rect x="472.84" y="349.74" width="6.15" height="6.15" fill="#e3685f"/><rect x="478.99" y="349.74" width="6.15" height="6.15" fill="#d8576b"/><rect x="485.14" y="349.74" width="6.15" height="6.15" fill="#ca457a"/><rect x="491.29" y="349.74" width="6.15" height="6.15" fill="#ba3388"/><rect x="497.43" y="349.74" width="6.15" height="6.15" fill="#a72197"/><rect x="503.58" y="349.74" width="6.15" height="6.15" fill="#920fa3"/><rect x="509.73" y="349.74" width="6.15" height="6.15" fill="#7e03a8"/><rect x="515.88" y="349.74" width="6.15" height="6.15" fill="#6a00a8"/><rect x="522.03" y="349.74" width="6.15" height="6.15" fill="#5601a4"/><rect x="528.18" y="349.74" width="6.15" height="6.15" fill="#48039f"/><rect x="534.33" y="349.74" width="6.15" height="6.15" fill="#38049a"/><rect x="540.47" y="349.74" width="6.15" height="6.15" fill="#310597"/><rect x="546.62" y="349.74" width="12.30" height="6.15" fill="#2c0594"/><rect x="42.45" y="355.89" width="6.15" height="6.15" fill="#20068f"/><rect x="48.59" y="355.89" width="6.15" height="6.15" fill="#240691"/><rect x="54.74" y="355.89" width="6.15" height="6.15" fill="#280592"/><rect x="60.89" y="355.89" width="6.15" height="6.15" fill="#2c0594"/><rect x="67.04" y="355.89" width="6.15" height="6.15" fill="#370499"/><rect x="73.19" y="355.89" width="6.15" height="6.15" fill="#41049d"/><rect x="79.34" y="355.89" width="6.15" height="6.15" fill="#4903a0"/><rect x="85.48" y="355.89" width="6.15" height="6.15" fill="#5302a3"/><rect x="91.63" y="355.89" width="6.15" height="6.15" fill="#5e01a6"/><rect x="97.78" y="355.89" width="6.15" height="6.15" fill="#6900a8"/><rect x="103.93" y="355.89" width="6.15" height="6.15" fill="#7201a8"/><rect x="110.08" y="355.89" width="6.15" height="6.15" fill="#7d03a8"/><rect x="116.23" y="355.89" width="6.15" height="6.15" fill="#8606a6"/><rect x="122.38" y="355.89" width="6.15" height="6.15" fill="#8f0da4"/><rect x="128.52" y="355.89" width="6.15" height="6.15" fill="#9c179e"/><rect x="134.67" y="355.89" width="6.15" height="6.15" fill="#a62098"/><rect x="140.82" y="355.89" width="6.15" height="6.15" fill="#b12a90"/><rect x="146.97" y="355.89" width="6.15" height="6.15" fill="#bf3984"/><rect x="153.12" y="355.89" width="6.15" height="6.15" fill="#cc4778"/><rect x="159.27" y="355.89" width="6.15" height="6.15" fill="#d35171"/><rect x="165.42" y="355.89" width="6.15" height="6.15" fill="#da5b69"/><rect x="171.56" y="355.89" width="6.15" height="6.15" fill="#e3685f"/><rect x="177.71" y="355.89" width="6.15" height="6.15" fill="#ea7457"/><rect x="183.86" y="355.89" width="6.15" height="6.15" fill="#f07f4f"/><rect x="190.01" y="355.89" width="6.15" height="6.15" fill="#f58b47"/><rect x="196.16" y="355.89" width="6.15" height="6.15" fill="#f9983e"/><rect x="202.31" y="355.89" width="6.15" height="6.15" fill="#fca636"/><rect x="208.46" y="355.89" width="6.15" height="6.15" fill="#fdb130"/><rect x="214.60" y="355.89" width="6.15" height="6.15" fill="#febb2b"/><rect x="220.75" y="355.89" width="6.15" height="6.15" fill="#fdc627"/><rect x="226.90" y="355.89" width="49.19" height="6.15" fill="#fbd724"/><rect x="276.09" y="355.89" width="55.34" height="6.15" fill="#f6e826"/><rect x="331.43" y="355.89" width="24.59" height="6.15" fill="#fbd724"/><rect x="356.02" y="355.89" width="61.49" height="6.15" fill="#fcce25"/><rect x="417.50" y="355.89" width="6.15" height="6.15" fill="#fdc527"/><rect x="423.65" y="355.89" width="6.15" height="6.15" fill="#feba2c"/><rect x="429.80" y="355.89" width="6.15" height="6.15" fill="#fdb52e"/><rect x="435.95" y="355.89" width="6.15" height="6.15" fill="#fdb130"/><rect x="442.10" y="355.89" width="6.15" height="6.15" fill="#fdac33"/><rect x="448.25" y="355.89" width="6.15" height="6.15" fill="#fca636"/><rect x="454.40" y="355.89" width="6.15" height="6.15" fill="#fa9e3b"/><rect x="460.54" y="355.89" width="6.15" height="6.15" fill="#f89540"/><rect x="466.69" y="355.89" width="6.15" height="6.15" fill="#f07f4f"/><rect x="472.84" y="355.89" width="6.15" height="6.15" fill="#e56a5d"/><rect x="478.99" y="355.89" width="6.15" height="6.15" fill="#d9586a"/><rect x="485.14" y="355.89" width="6.15" height="6.15" fill="#cc4778"/><rect x="491.29" y="355.89" width="6.15" height="6.15" fill="#bc3587"/><rect x="497.43" y="355.89" width="6.15" height="6.15" fill="#ab2494"/><rect x="503.58" y="355.89" width="6.15" height="6.15" fill="#9511a1"/><rect x="509.73" y="355.89" width="6.15" height="6.15" fill="#7e03a8"/><rect x="515.88" y="355.89" width="6.15" height="6.15" fill="#6a00a8"/><rect x="522.03" y="355.89" width="6.15" height="6.15" fill="#5302a3"/><rect x="528.18" y="355.89" width="6.15" height="6.15" fill="#4903a0"/><rect x="534.33" y="355.89" width="6.15" height="6.15" fill="#3e049c"/><rect x="540.47" y="355.89" width="6.15" height="6.15" fill="#330597"/><rect x="546.62" y="355.89" width="12.30" height="6.15" fill="#260591"/><rect x="48.59" y="362.03" width="6.15" height="6.15" fill="#20068f"/><rect x="54.74" y="362.03" width="6.15" height="6.15" fill="#260591"/><rect x="60.89" y="362.03" width="6.15" height="6.15" fill="#2c0594"/><rect x="67.04" y="362.03" width="6.15" height="6.15" fill="#350498"/><rect x="73.19" y="362.03" width="6.15" height="6.15" fill="#3e049c"/><rect x="79.34" y="362.03" width="6.15" height="6.15" fill="#44039e"/><rect x="85.48" y="362.03" width="6.15" height="6.15" fill="#5102a3"/><rect x="91.63" y="362.03" width="6.15" height="6.15" fill="#5c01a6"/><rect x="97.78" y="362.03" width="6.15" height="6.15" fill="#6700a8"/><rect x="103.93" y="362.03" width="6.15" height="6.15" fill="#7201a8"/><rect x="110.08" y="362.03" width="6.15" height="6.15" fill="#7d03a8"/><rect x="116.23" y="362.03" width="6.15" height="6.15" fill="#8606a6"/><rect x="122.38" y="362.03" width="6.15" height="6.15" fill="#8f0da4"/><rect x="128.52" y="362.03" width="6.15" height="6.15" fill="#9c179e"/><rect x="134.67" y="362.03" width="6.15" height="6.15" fill="#a62098"/><rect x="140.82" y="362.03" width="6.15" height="6.15" fill="#b12a90"/><rect x="146.97" y="362.03" width="6.15" height="6.15" fill="#bf3984"/><rect x="153.12" y="362.03" width="6.15" height="6.15" fill="#cc4778"/><rect x="159.27" y="362.03" width="6.15" height="6.15" fill="#d35171"/><rect x="165.42" y="362.03" width="6.15" height="6.15" fill="#da5b69"/><rect x="171.56" y="362.03" width="6.15" height="6.15" fill="#e3685f"/><rect x="177.71" y="362.03" width="6.15" height="6.15" fill="#ea7457"/><rect x="183.86" y="362.03" width="6.15" height="6.15" fill="#f07f4f"/><rect x="190.01" y="362.03" width="6.15" height="6.15" fill="#f58b47"/><rect x="196.16" y="362.03" width="6.15" height="6.15" fill="#f9983e"/><rect x="202.31" y="362.03" width="6.15" height="6.15" fill="#fca636"/><rect x="208.46" y="362.03" width="6.15" height="6.15" fill="#fdb130"/><rect x="214.60" y="362.03" width="6.15" height="6.15" fill="#febb2b"/><rect x="220.75" y="362.03" width="6.15" height="6.15" fill="#fdc627"/><rect x="226.90" y="362.03" width="30.74" height="6.15" fill="#fbd724"/><rect x="257.64" y="362.03" width="159.86" height="6.15" fill="#f6e826"/><rect x="417.50" y="362.03" width="6.15" height="6.15" fill="#fcce25"/><rect x="423.65" y="362.03" width="6.15" height="6.15" fill="#feba2c"/><rect x="429.80" y="362.03" width="6.15" height="6.15" fill="#fdb52e"/><rect x="435.95" y="362.03" width="6.15" height="6.15" fill="#fdb130"/><rect x="442.10" y="362.03" width="6.15" height="6.15" fill="#fdac33"/><rect x="448.25" y="362.03" width="6.15" height="6.15" fill="#fca636"/><rect x="454.40" y="362.03" width="6.15" height="6.15" fill="#fb9f3a"/><rect x="460.54" y="362.03" width="6.15" height="6.15" fill="#f9983e"/><rect x="466.69" y="362.03" width="6.15" height="6.15" fill="#f0804e"/><rect x="472.84" y="362.03" width="6.15" height="6.15" fill="#e56a5d"/><rect x="478.99" y="362.03" width="6.15" height="6.15" fill="#d9586a"/><rect x="485.14" y="362.03" width="6.15" height="6.15" fill="#cc4778"/><rect x="491.29" y="362.03" width="6.15" height="6.15" fill="#bc3587"/><rect x="497.43" y="362.03" width="6.15" height="6.15" fill="#ab2494"/><rect x="503.58" y="362.03" width="6.15" height="6.15" fill="#9511a1"/><rect x="509.73" y="362.03" width="6.15" height="6.15" fill="#7e03a8"/><rect x="515.88" y="362.03" width="6.15" height="6.15" fill="#6a00a8"/><rect x="522.03" y="362.03" width="6.15" height="6.15" fill="#5302a3"/><rect x="528.18" y="362.03" width="6.15" height="6.15" fill="#4903a0"/><rect x="534.33" y="362.03" width="6.15" height="6.15" fill="#3e049c"/><rect x="540.47" y="362.03" width="6.15" height="6.15" fill="#330597"/><rect x="546.62" y="362.03" width="12.30" height="6.15" fill="#260591"/><rect x="48.59" y="368.18" width="6.15" height="6.15" fill="#220690"/><rect x="54.74" y="368.18" width="6.15" height="6.15" fill="#260591"/><rect x="60.89" y="368.18" width="6.15" height="6.15" fill="#2a0593"/><rect x="67.04" y="368.18" width="6.15" height="6.15" fill="#330597"/><rect x="73.19" y="368.18" width="6.15" height="6.15" fill="#3c049b"/><rect x="79.34" y="368.18" width="6.15" height="6.15" fill="#48039f"/><rect x="85.48" y="368.18" width="6.15" height="6.15" fill="#5502a4"/><rect x="91.63" y="368.18" width="6.15" height="6.15" fill="#6100a7"/><rect x="97.78" y="368.18" width="6.15" height="6.15" fill="#6e00a8"/><rect x="103.93" y="368.18" width="6.15" height="6.15" fill="#7801a8"/><rect x="110.08" y="368.18" width="6.15" height="6.15" fill="#8104a7"/><rect x="116.23" y="368.18" width="6.15" height="6.15" fill="#8a09a5"/><rect x="122.38" y="368.18" width="6.15" height="6.15" fill="#9410a2"/><rect x="128.52" y="368.18" width="6.15" height="6.15" fill="#9e199d"/><rect x="134.67" y="368.18" width="6.15" height="6.15" fill="#aa2395"/><rect x="140.82" y="368.18" width="6.15" height="6.15" fill="#b42e8d"/><rect x="146.97" y="368.18" width="6.15" height="6.15" fill="#c23c81"/><rect x="153.12" y="368.18" width="6.15" height="6.15" fill="#cd4a76"/><rect x="159.27" y="368.18" width="6.15" height="6.15" fill="#d5546e"/><rect x="165.42" y="368.18" width="6.15" height="6.15" fill="#dd5e66"/><rect x="171.56" y="368.18" width="6.15" height="6.15" fill="#e56a5d"/><rect x="177.71" y="368.18" width="6.15" height="6.15" fill="#eb7655"/><rect x="183.86" y="368.18" width="6.15" height="6.15" fill="#f1814d"/><rect x="190.01" y="368.18" width="6.15" height="6.15" fill="#f68f44"/><rect x="196.16" y="368.18" width="6.15" height="6.15" fill="#fb9f3a"/><rect x="202.31" y="368.18" width="6.15" height="6.15" fill="#fca934"/><rect x="208.46" y="368.18" width="6.15" height="6.15" fill="#fdb22f"/><rect x="214.60" y="368.18" width="6.15" height="6.15" fill="#febb2b"/><rect x="220.75" y="368.18" width="6.15" height="6.15" fill="#fdc827"/><rect x="226.90" y="368.18" width="12.30" height="6.15" fill="#fbd724"/><rect x="239.20" y="368.18" width="178.31" height="6.15" fill="#f6e826"/><rect x="417.50" y="368.18" width="6.15" height="6.15" fill="#fcd225"/><rect x="423.65" y="368.18" width="6.15" height="6.15" fill="#feba2c"/><rect x="429.80" y="368.18" width="6.15" height="6.15" fill="#fdb52e"/><rect x="435.95" y="368.18" width="6.15" height="6.15" fill="#fdb22f"/><rect x="442.10" y="368.18" width="6.15" height="6.15" fill="#fdae32"/><rect x="448.25" y="368.18" width="6.15" height="6.15" fill="#fca934"/><rect x="454.40" y="368.18" width="6.15" height="6.15" fill="#fca537"/><rect x="460.54" y="368.18" width="6.15" height="6.15" fill="#fb9f3a"/><rect x="466.69" y="368.18" width="6.15" height="6.15" fill="#f07f4f"/><rect x="472.84" y="368.18" width="6.15" height="6.15" fill="#e26660"/><rect x="478.99" y="368.18" width="6.15" height="6.15" fill="#d7566c"/><rect x="485.14" y="368.18" width="6.15" height="6.15" fill="#ca457a"/><rect x="491.29" y="368.18" width="6.15" height="6.15" fill="#ba3388"/><rect x="497.43" y="368.18" width="6.15" height="6.15" fill="#a62098"/><rect x="503.58" y="368.18" width="6.15" height="6.15" fill="#920fa3"/><rect x="509.73" y="368.18" width="6.15" height="6.15" fill="#7d03a8"/><rect x="515.88" y="368.18" width="6.15" height="6.15" fill="#6900a8"/><rect x="522.03" y="368.18" width="6.15" height="6.15" fill="#5102a3"/><rect x="528.18" y="368.18" width="6.15" height="6.15" fill="#44039e"/><rect x="534.33" y="368.18" width="6.15" height="6.15" fill="#3a049a"/><rect x="540.47" y="368.18" width="6.15" height="6.15" fill="#2f0596"/><rect x="546.62" y="368.18" width="12.30" height="6.15" fill="#2a0593"/><rect x="42.45" y="374.32" width="6.15" height="6.15" fill="#20068f"/><rect x="48.59" y="374.32" width="6.15" height="6.15" fill="#220690"/><rect x="54.74" y="374.32" width="6.15" height="6.15" fill="#240691"/><rect x="60.89" y="374.32" width="6.15" height="6.15" fill="#260591"/><rect x="67.04" y="374.32" width="6.15" height="6.15" fill="#310597"/><rect x="73.19" y="374.32" width="6.15" height="6.15" fill="#3c049b"/><rect x="79.34" y="374.32" width="6.15" height="6.15" fill="#4b03a1"/><rect x="85.48" y="374.32" width="6.15" height="6.15" fill="#5901a5"/><rect x="91.63" y="374.32" width="6.15" height="6.15" fill="#6700a8"/><rect x="97.78" y="374.32" width="6.15" height="6.15" fill="#7201a8"/><rect x="103.93" y="374.32" width="6.15" height="6.15" fill="#7e03a8"/><rect x="110.08" y="374.32" width="6.15" height="6.15" fill="#8606a6"/><rect x="116.23" y="374.32" width="6.15" height="6.15" fill="#8e0ca4"/><rect x="122.38" y="374.32" width="6.15" height="6.15" fill="#9613a1"/><rect x="128.52" y="374.32" width="6.15" height="6.15" fill="#a21d9a"/><rect x="134.67" y="374.32" width="6.15" height="6.15" fill="#ac2694"/><rect x="140.82" y="374.32" width="6.15" height="6.15" fill="#b7318a"/><rect x="146.97" y="374.32" width="6.15" height="6.15" fill="#c5407e"/><rect x="153.12" y="374.32" width="6.15" height="6.15" fill="#cf4c74"/><rect x="159.27" y="374.32" width="6.15" height="6.15" fill="#d7566c"/><rect x="165.42" y="374.32" width="6.15" height="6.15" fill="#df6263"/><rect x="171.56" y="374.32" width="6.15" height="6.15" fill="#e76e5b"/><rect x="177.71" y="374.32" width="6.15" height="6.15" fill="#ed7953"/><rect x="183.86" y="374.32" width="6.15" height="6.15" fill="#f2844b"/><rect x="190.01" y="374.32" width="6.15" height="6.15" fill="#f89441"/><rect x="196.16" y="374.32" width="6.15" height="6.15" fill="#fca636"/><rect x="202.31" y="374.32" width="6.15" height="6.15" fill="#fdae32"/><rect x="208.46" y="374.32" width="6.15" height="6.15" fill="#fdb42f"/><rect x="214.60" y="374.32" width="6.15" height="6.15" fill="#feba2c"/><rect x="220.75" y="374.32" width="6.15" height="6.15" fill="#fdc827"/><rect x="226.90" y="374.32" width="12.30" height="6.15" fill="#fbd724"/><rect x="239.20" y="374.32" width="178.31" height="6.15" fill="#f6e826"/><rect x="417.50" y="374.32" width="6.15" height="6.15" fill="#fbd724"/><rect x="423.65" y="374.32" width="6.15" height="6.15" fill="#feba2c"/><rect x="429.80" y="374.32" width="6.15" height="6.15" fill="#feb72d"/><rect x="435.95" y="374.32" width="6.15" height="6.15" fill="#fdb42f"/><rect x="442.10" y="374.32" width="6.15" height="6.15" fill="#fdb130"/><rect x="448.25" y="374.32" width="6.15" height="6.15" fill="#fdae32"/><rect x="454.40" y="374.32" width="6.15" height="6.15" fill="#fca934"/><rect x="460.54" y="374.32" width="6.15" height="6.15" fill="#fca636"/><rect x="466.69" y="374.32" width="6.15" height="6.15" fill="#ef7e50"/><rect x="472.84" y="374.32" width="6.15" height="6.15" fill="#e06363"/><rect x="478.99" y="374.32" width="6.15" height="6.15" fill="#d5546e"/><rect x="485.14" y="374.32" width="6.15" height="6.15" fill="#c8437b"/><rect x="491.29" y="374.32" width="6.15" height="6.15" fill="#b6308b"/><rect x="497.43" y="374.32" width="6.15" height="6.15" fill="#a21d9a"/><rect x="503.58" y="374.32" width="6.15" height="6.15" fill="#8e0ca4"/><rect x="509.73" y="374.32" width="6.15" height="6.15" fill="#7b02a8"/><rect x="515.88" y="374.32" width="6.15" height="6.15" fill="#6700a8"/><rect x="522.03" y="374.32" width="6.15" height="6.15" fill="#5102a3"/><rect x="528.18" y="374.32" width="6.15" height="6.15" fill="#41049d"/><rect x="534.33" y="374.32" width="6.15" height="6.15" fill="#370499"/><rect x="540.47" y="374.32" width="12.30" height="6.15" fill="#2c0594"/><rect x="42.45" y="380.47" width="6.15" height="6.15" fill="#20068f"/><rect x="48.59" y="380.47" width="6.15" height="6.15" fill="#220690"/><rect x="54.74" y="380.47" width="6.15" height="6.15" fill="#240691"/><rect x="60.89" y="380.47" width="6.15" height="6.15" fill="#260591"/><rect x="67.04" y="380.47" width="6.15" height="6.15" fill="#2f0596"/><rect x="73.19" y="380.47" width="6.15" height="6.15" fill="#38049a"/><rect x="79.34" y="380.47" width="6.15" height="6.15" fill="#4903a0"/><rect x="85.48" y="380.47" width="6.15" height="6.15" fill="#5801a4"/><rect x="91.63" y="380.47" width="6.15" height="6.15" fill="#6600a7"/><rect x="97.78" y="380.47" width="6.15" height="6.15" fill="#7201a8"/><rect x="103.93" y="380.47" width="6.15" height="6.15" fill="#7d03a8"/><rect x="110.08" y="380.47" width="6.15" height="6.15" fill="#8606a6"/><rect x="116.23" y="380.47" width="6.15" height="6.15" fill="#8f0da4"/><rect x="122.38" y="380.47" width="6.15" height="6.15" fill="#9814a0"/><rect x="128.52" y="380.47" width="6.15" height="6.15" fill="#a21d9a"/><rect x="134.67" y="380.47" width="6.15" height="6.15" fill="#ac2694"/><rect x="140.82" y="380.47" width="6.15" height="6.15" fill="#b7318a"/><rect x="146.97" y="380.47" width="6.15" height="6.15" fill="#c43e7f"/><rect x="153.12" y="380.47" width="6.15" height="6.15" fill="#ce4b75"/><rect x="159.27" y="380.47" width="6.15" height="6.15" fill="#d6556d"/><rect x="165.42" y="380.47" width="6.15" height="6.15" fill="#de6164"/><rect x="171.56" y="380.47" width="6.15" height="6.15" fill="#e66c5c"/><rect x="177.71" y="380.47" width="6.15" height="6.15" fill="#ed7953"/><rect x="183.86" y="380.47" width="6.15" height="6.15" fill="#f3854b"/><rect x="190.01" y="380.47" width="6.15" height="6.15" fill="#f89540"/><rect x="196.16" y="380.47" width="6.15" height="6.15" fill="#fca934"/><rect x="202.31" y="380.47" width="6.15" height="6.15" fill="#fdaf31"/><rect x="208.46" y="380.47" width="6.15" height="6.15" fill="#fdb52e"/><rect x="214.60" y="380.47" width="6.15" height="6.15" fill="#febd2a"/><rect x="220.75" y="380.47" width="6.15" height="6.15" fill="#fdca26"/><rect x="226.90" y="380.47" width="12.30" height="6.15" fill="#fbd724"/><rect x="239.20" y="380.47" width="178.31" height="6.15" fill="#f6e826"/><rect x="417.50" y="380.47" width="6.15" height="6.15" fill="#fbd524"/><rect x="423.65" y="380.47" width="6.15" height="6.15" fill="#febb2b"/><rect x="429.80" y="380.47" width="6.15" height="6.15" fill="#feb72d"/><rect x="435.95" y="380.47" width="6.15" height="6.15" fill="#fdb42f"/><rect x="442.10" y="380.47" width="6.15" height="6.15" fill="#fdb130"/><rect x="448.25" y="380.47" width="6.15" height="6.15" fill="#fdae32"/><rect x="454.40" y="380.47" width="6.15" height="6.15" fill="#fca934"/><rect x="460.54" y="380.47" width="6.15" height="6.15" fill="#fca537"/><rect x="466.69" y="380.47" width="6.15" height="6.15" fill="#ef7e50"/><rect x="472.84" y="380.47" width="6.15" height="6.15" fill="#e16462"/><rect x="478.99" y="380.47" width="6.15" height="6.15" fill="#d6556d"/><rect x="485.14" y="380.47" width="6.15" height="6.15" fill="#c9447a"/><rect x="491.29" y="380.47" width="6.15" height="6.15" fill="#b7318a"/><rect x="497.43" y="380.47" width="6.15" height="6.15" fill="#a21d9a"/><rect x="503.58" y="380.47" width="6.15" height="6.15" fill="#8e0ca4"/><rect x="509.73" y="380.47" width="6.15" height="6.15" fill="#7b02a8"/><rect x="515.88" y="380.47" width="6.15" height="6.15" fill="#6700a8"/><rect x="522.03" y="380.47" width="6.15" height="6.15" fill="#5102a3"/><rect x="528.18" y="380.47" width="6.15" height="6.15" fill="#3f049c"/><rect x="534.33" y="380.47" width="6.15" height="6.15" fill="#350498"/><rect x="540.47" y="380.47" width="18.45" height="6.15" fill="#2c0594"/><rect x="48.59" y="386.62" width="6.15" height="6.15" fill="#220690"/><rect x="54.74" y="386.62" width="12.30" height="6.15" fill="#240691"/><rect x="67.04" y="386.62" width="6.15" height="6.15" fill="#2e0595"/><rect x="73.19" y="386.62" width="6.15" height="6.15" fill="#370499"/><rect x="79.34" y="386.62" width="6.15" height="6.15" fill="#48039f"/><rect x="85.48" y="386.62" width="6.15" height="6.15" fill="#5601a4"/><rect x="91.63" y="386.62" width="6.15" height="6.15" fill="#6400a7"/><rect x="97.78" y="386.62" width="6.15" height="6.15" fill="#7100a8"/><rect x="103.93" y="386.62" width="6.15" height="6.15" fill="#7b02a8"/><rect x="110.08" y="386.62" width="6.15" height="6.15" fill="#8606a6"/><rect x="116.23" y="386.62" width="6.15" height="6.15" fill="#8f0da4"/><rect x="122.38" y="386.62" width="6.15" height="6.15" fill="#9814a0"/><rect x="128.52" y="386.62" width="6.15" height="6.15" fill="#a21d9a"/><rect x="134.67" y="386.62" width="6.15" height="6.15" fill="#ac2694"/><rect x="140.82" y="386.62" width="6.15" height="6.15" fill="#b6308b"/><rect x="146.97" y="386.62" width="6.15" height="6.15" fill="#c33d80"/><rect x="153.12" y="386.62" width="6.15" height="6.15" fill="#cc4977"/><rect x="159.27" y="386.62" width="6.15" height="6.15" fill="#d5546e"/><rect x="165.42" y="386.62" width="6.15" height="6.15" fill="#de5f65"/><rect x="171.56" y="386.62" width="6.15" height="6.15" fill="#e56b5d"/><rect x="177.71" y="386.62" width="6.15" height="6.15" fill="#ed7953"/><rect x="183.86" y="386.62" width="6.15" height="6.15" fill="#f3874a"/><rect x="190.01" y="386.62" width="6.15" height="6.15" fill="#f9983e"/><rect x="196.16" y="386.62" width="6.15" height="6.15" fill="#fdac33"/><rect x="202.31" y="386.62" width="6.15" height="6.15" fill="#fdb22f"/><rect x="208.46" y="386.62" width="6.15" height="6.15" fill="#feb82c"/><rect x="214.60" y="386.62" width="6.15" height="6.15" fill="#febe2a"/><rect x="220.75" y="386.62" width="6.15" height="6.15" fill="#fdcb26"/><rect x="226.90" y="386.62" width="12.30" height="6.15" fill="#fbd724"/><rect x="239.20" y="386.62" width="178.31" height="6.15" fill="#f6e826"/><rect x="417.50" y="386.62" width="6.15" height="6.15" fill="#fbd524"/><rect x="423.65" y="386.62" width="6.15" height="6.15" fill="#febd2a"/><rect x="429.80" y="386.62" width="6.15" height="6.15" fill="#feb82c"/><rect x="435.95" y="386.62" width="6.15" height="6.15" fill="#fdb42f"/><rect x="442.10" y="386.62" width="6.15" height="6.15" fill="#fdb130"/><rect x="448.25" y="386.62" width="6.15" height="6.15" fill="#fdae32"/><rect x="454.40" y="386.62" width="6.15" height="6.15" fill="#fca934"/><rect x="460.54" y="386.62" width="6.15" height="6.15" fill="#fca338"/><rect x="466.69" y="386.62" width="6.15" height="6.15" fill="#f07f4f"/><rect x="472.84" y="386.62" width="6.15" height="6.15" fill="#e16462"/><rect x="478.99" y="386.62" width="6.15" height="6.15" fill="#d7566c"/><rect x="485.14" y="386.62" width="6.15" height="6.15" fill="#ca457a"/><rect x="491.29" y="386.62" width="6.15" height="6.15" fill="#b83289"/><rect x="497.43" y="386.62" width="6.15" height="6.15" fill="#a31e9a"/><rect x="503.58" y="386.62" width="6.15" height="6.15" fill="#8f0da4"/><rect x="509.73" y="386.62" width="6.15" height="6.15" fill="#7b02a8"/><rect x="515.88" y="386.62" width="6.15" height="6.15" fill="#6700a8"/><rect x="522.03" y="386.62" width="6.15" height="6.15" fill="#5102a3"/><rect x="528.18" y="386.62" width="6.15" height="6.15" fill="#3f049c"/><rect x="534.33" y="386.62" width="6.15" height="6.15" fill="#350498"/><rect x="540.47" y="386.62" width="18.45" height="6.15" fill="#2a0593"/><rect x="54.74" y="392.76" width="6.15" height="6.15" fill="#220690"/><rect x="60.89" y="392.76" width="6.15" height="6.15" fill="#240691"/><rect x="67.04" y="392.76" width="6.15" height="6.15" fill="#2c0594"/><rect x="73.19" y="392.76" width="6.15" height="6.15" fill="#330597"/><rect x="79.34" y="392.76" width="6.15" height="6.15" fill="#44039e"/><rect x="85.48" y="392.76" width="6.15" height="6.15" fill="#5502a4"/><rect x="91.63" y="392.76" width="6.15" height="6.15" fill="#6300a7"/><rect x="97.78" y="392.76" width="6.15" height="6.15" fill="#6f00a8"/><rect x="103.93" y="392.76" width="6.15" height="6.15" fill="#7b02a8"/><rect x="110.08" y="392.76" width="6.15" height="6.15" fill="#8606a6"/><rect x="116.23" y="392.76" width="6.15" height="6.15" fill="#8f0da4"/><rect x="122.38" y="392.76" width="6.15" height="6.15" fill="#9814a0"/><rect x="128.52" y="392.76" width="6.15" height="6.15" fill="#a21d9a"/><rect x="134.67" y="392.76" width="6.15" height="6.15" fill="#ab2494"/><rect x="140.82" y="392.76" width="6.15" height="6.15" fill="#b6308b"/><rect x="146.97" y="392.76" width="6.15" height="6.15" fill="#c13b82"/><rect x="153.12" y="392.76" width="6.15" height="6.15" fill="#cc4778"/><rect x="159.27" y="392.76" width="6.15" height="6.15" fill="#d5536f"/><rect x="165.42" y="392.76" width="6.15" height="6.15" fill="#dd5e66"/><rect x="171.56" y="392.76" width="6.15" height="6.15" fill="#e56a5d"/><rect x="177.71" y="392.76" width="6.15" height="6.15" fill="#ed7953"/><rect x="183.86" y="392.76" width="6.15" height="6.15" fill="#f48849"/><rect x="190.01" y="392.76" width="6.15" height="6.15" fill="#fa9b3d"/><rect x="196.16" y="392.76" width="6.15" height="6.15" fill="#fdae32"/><rect x="202.31" y="392.76" width="6.15" height="6.15" fill="#fdb42f"/><rect x="208.46" y="392.76" width="6.15" height="6.15" fill="#febb2b"/><rect x="214.60" y="392.76" width="6.15" height="6.15" fill="#fdc229"/><rect x="220.75" y="392.76" width="6.15" height="6.15" fill="#fccd25"/><rect x="226.90" y="392.76" width="12.30" height="6.15" fill="#fbd724"/><rect x="239.20" y="392.76" width="178.31" height="6.15" fill="#f6e826"/><rect x="417.50" y="392.76" width="6.15" height="6.15" fill="#fbd324"/><rect x="423.65" y="392.76" width="6.15" height="6.15" fill="#febe2a"/><rect x="429.80" y="392.76" width="6.15" height="6.15" fill="#feb82c"/><rect x="435.95" y="392.76" width="6.15" height="6.15" fill="#fdb52e"/><rect x="442.10" y="392.76" width="6.15" height="6.15" fill="#fdb130"/><rect x="448.25" y="392.76" width="6.15" height="6.15" fill="#fdae32"/><rect x="454.40" y="392.76" width="6.15" height="6.15" fill="#fca934"/><rect x="460.54" y="392.76" width="6.15" height="6.15" fill="#fba238"/><rect x="466.69" y="392.76" width="6.15" height="6.15" fill="#f0804e"/><rect x="472.84" y="392.76" width="6.15" height="6.15" fill="#e26561"/><rect x="478.99" y="392.76" width="6.15" height="6.15" fill="#d8576b"/><rect x="485.14" y="392.76" width="6.15" height="6.15" fill="#cb4679"/><rect x="491.29" y="392.76" width="6.15" height="6.15" fill="#ba3388"/><rect x="497.43" y="392.76" width="6.15" height="6.15" fill="#a51f99"/><rect x="503.58" y="392.76" width="6.15" height="6.15" fill="#8f0da4"/><rect x="509.73" y="392.76" width="6.15" height="6.15" fill="#7b02a8"/><rect x="515.88" y="392.76" width="6.15" height="6.15" fill="#6700a8"/><rect x="522.03" y="392.76" width="6.15" height="6.15" fill="#5102a3"/><rect x="528.18" y="392.76" width="6.15" height="6.15" fill="#3f049c"/><rect x="534.33" y="392.76" width="6.15" height="6.15" fill="#330597"/><rect x="540.47" y="392.76" width="6.15" height="6.15" fill="#2a0593"/><rect x="54.74" y="398.91" width="6.15" height="6.15" fill="#220690"/><rect x="60.89" y="398.91" width="6.15" height="6.15" fill="#240691"/><rect x="67.04" y="398.91" width="6.15" height="6.15" fill="#2a0593"/><rect x="73.19" y="398.91" width="6.15" height="6.15" fill="#310597"/><rect x="79.34" y="398.91" width="6.15" height="6.15" fill="#43039e"/><rect x="85.48" y="398.91" width="6.15" height="6.15" fill="#5302a3"/><rect x="91.63" y="398.91" width="6.15" height="6.15" fill="#6100a7"/><rect x="97.78" y="398.91" width="6.15" height="6.15" fill="#6f00a8"/><rect x="103.93" y="398.91" width="6.15" height="6.15" fill="#7a02a8"/><rect x="110.08" y="398.91" width="6.15" height="6.15" fill="#8606a6"/><rect x="116.23" y="398.91" width="6.15" height="6.15" fill="#8f0da4"/><rect x="122.38" y="398.91" width="6.15" height="6.15" fill="#9814a0"/><rect x="128.52" y="398.91" width="6.15" height="6.15" fill="#a21d9a"/><rect x="134.67" y="398.91" width="6.15" height="6.15" fill="#ab2494"/><rect x="140.82" y="398.91" width="6.15" height="6.15" fill="#b52f8c"/><rect x="146.97" y="398.91" width="6.15" height="6.15" fill="#c03a83"/><rect x="153.12" y="398.91" width="6.15" height="6.15" fill="#cb4679"/><rect x="159.27" y="398.91" width="6.15" height="6.15" fill="#d45270"/><rect x="165.42" y="398.91" width="6.15" height="6.15" fill="#dd5e66"/><rect x="171.56" y="398.91" width="6.15" height="6.15" fill="#e4695e"/><rect x="177.71" y="398.91" width="6.15" height="6.15" fill="#ed7953"/><rect x="183.86" y="398.91" width="6.15" height="6.15" fill="#f48948"/><rect x="190.01" y="398.91" width="6.15" height="6.15" fill="#fa9c3c"/><rect x="196.16" y="398.91" width="6.15" height="6.15" fill="#fdb130"/><rect x="202.31" y="398.91" width="6.15" height="6.15" fill="#feb72d"/><rect x="208.46" y="398.91" width="6.15" height="6.15" fill="#febd2a"/><rect x="214.60" y="398.91" width="6.15" height="6.15" fill="#fdc527"/><rect x="220.75" y="398.91" width="6.15" height="6.15" fill="#fcce25"/><rect x="226.90" y="398.91" width="12.30" height="6.15" fill="#fbd724"/><rect x="239.20" y="398.91" width="178.31" height="6.15" fill="#f6e826"/><rect x="417.50" y="398.91" width="6.15" height="6.15" fill="#fcd225"/><rect x="423.65" y="398.91" width="6.15" height="6.15" fill="#febe2a"/><rect x="429.80" y="398.91" width="6.15" height="6.15" fill="#feb82c"/><rect x="435.95" y="398.91" width="6.15" height="6.15" fill="#fdb52e"/><rect x="442.10" y="398.91" width="6.15" height="6.15" fill="#fdb22f"/><rect x="448.25" y="398.91" width="6.15" height="6.15" fill="#fdaf31"/><rect x="454.40" y="398.91" width="6.15" height="6.15" fill="#fca934"/><rect x="460.54" y="398.91" width="6.15" height="6.15" fill="#fba139"/><rect x="466.69" y="398.91" width="6.15" height="6.15" fill="#f1814d"/><rect x="472.84" y="398.91" width="6.15" height="6.15" fill="#e26660"/><rect x="478.99" y="398.91" width="6.15" height="6.15" fill="#d9586a"/><rect x="485.14" y="398.91" width="6.15" height="6.15" fill="#cc4778"/><rect x="491.29" y="398.91" width="6.15" height="6.15" fill="#bb3488"/><rect x="497.43" y="398.91" width="6.15" height="6.15" fill="#a51f99"/><rect x="503.58" y="398.91" width="6.15" height="6.15" fill="#8f0da4"/><rect x="509.73" y="398.91" width="6.15" height="6.15" fill="#7d03a8"/><rect x="515.88" y="398.91" width="6.15" height="6.15" fill="#6700a8"/><rect x="522.03" y="398.91" width="6.15" height="6.15" fill="#5102a3"/><rect x="528.18" y="398.91" width="6.15" height="6.15" fill="#3f049c"/><rect x="534.33" y="398.91" width="6.15" height="6.15" fill="#330597"/><rect x="540.47" y="398.91" width="6.15" height="6.15" fill="#2a0593"/><rect x="54.74" y="405.06" width="12.30" height="6.15" fill="#220690"/><rect x="67.04" y="405.06" width="6.15" height="6.15" fill="#280592"/><rect x="73.19" y="405.06" width="6.15" height="6.15" fill="#2e0595"/><rect x="79.34" y="405.06" width="6.15" height="6.15" fill="#41049d"/><rect x="85.48" y="405.06" width="6.15" height="6.15" fill="#5102a3"/><rect x="91.63" y="405.06" width="6.15" height="6.15" fill="#6001a6"/><rect x="97.78" y="405.06" width="6.15" height="6.15" fill="#6e00a8"/><rect x="103.93" y="405.06" width="6.15" height="6.15" fill="#7a02a8"/><rect x="110.08" y="405.06" width="6.15" height="6.15" fill="#8405a7"/><rect x="116.23" y="405.06" width="6.15" height="6.15" fill="#8f0da4"/><rect x="122.38" y="405.06" width="6.15" height="6.15" fill="#9814a0"/><rect x="128.52" y="405.06" width="6.15" height="6.15" fill="#a21d9a"/><rect x="134.67" y="405.06" width="6.15" height="6.15" fill="#ab2494"/><rect x="140.82" y="405.06" width="6.15" height="6.15" fill="#b52f8c"/><rect x="146.97" y="405.06" width="6.15" height="6.15" fill="#bf3984"/><rect x="153.12" y="405.06" width="6.15" height="6.15" fill="#c9447a"/><rect x="159.27" y="405.06" width="6.15" height="6.15" fill="#d45270"/><rect x="165.42" y="405.06" width="6.15" height="6.15" fill="#dc5d67"/><rect x="171.56" y="405.06" width="6.15" height="6.15" fill="#e3685f"/><rect x="177.71" y="405.06" width="6.15" height="6.15" fill="#ed7953"/><rect x="183.86" y="405.06" width="6.15" height="6.15" fill="#f58b47"/><rect x="190.01" y="405.06" width="6.15" height="6.15" fill="#fb9f3a"/><rect x="196.16" y="405.06" width="6.15" height="6.15" fill="#fdb22f"/><rect x="202.31" y="405.06" width="6.15" height="6.15" fill="#feba2c"/><rect x="208.46" y="405.06" width="6.15" height="6.15" fill="#fec029"/><rect x="214.60" y="405.06" width="6.15" height="6.15" fill="#fdc627"/><rect x="220.75" y="405.06" width="6.15" height="6.15" fill="#fcd025"/><rect x="226.90" y="405.06" width="6.15" height="6.15" fill="#fbd724"/><rect x="233.05" y="405.06" width="184.46" height="6.15" fill="#f6e826"/><rect x="417.50" y="405.06" width="6.15" height="6.15" fill="#fcd225"/><rect x="423.65" y="405.06" width="6.15" height="6.15" fill="#fec029"/><rect x="429.80" y="405.06" width="6.15" height="6.15" fill="#feb82c"/><rect x="435.95" y="405.06" width="6.15" height="6.15" fill="#fdb52e"/><rect x="442.10" y="405.06" width="6.15" height="6.15" fill="#fdb22f"/><rect x="448.25" y="405.06" width="6.15" height="6.15" fill="#fdaf31"/><rect x="454.40" y="405.06" width="6.15" height="6.15" fill="#fca934"/><rect x="460.54" y="405.06" width="6.15" height="6.15" fill="#fb9f3a"/><rect x="466.69" y="405.06" width="6.15" height="6.15" fill="#f1834c"/><rect x="472.84" y="405.06" width="6.15" height="6.15" fill="#e3685f"/><rect x="478.99" y="405.06" width="6.15" height="6.15" fill="#da5a6a"/><rect x="485.14" y="405.06" width="6.15" height="6.15" fill="#cc4977"/><rect x="491.29" y="405.06" width="6.15" height="6.15" fill="#bc3587"/><rect x="497.43" y="405.06" width="6.15" height="6.15" fill="#a62098"/><rect x="503.58" y="405.06" width="6.15" height="6.15" fill="#8f0da4"/><rect x="509.73" y="405.06" width="6.15" height="6.15" fill="#7d03a8"/><rect x="515.88" y="405.06" width="6.15" height="6.15" fill="#6700a8"/><rect x="522.03" y="405.06" width="6.15" height="6.15" fill="#5102a3"/><rect x="528.18" y="405.06" width="6.15" height="6.15" fill="#3f049c"/><rect x="534.33" y="405.06" width="6.15" height="6.15" fill="#310597"/><rect x="540.47" y="405.06" width="6.15" height="6.15" fill="#280592"/><rect x="60.89" y="411.20" width="6.15" height="6.15" fill="#220690"/><rect x="67.04" y="411.20" width="6.15" height="6.15" fill="#260591"/><rect x="73.19" y="411.20" width="6.15" height="6.15" fill="#2c0594"/><rect x="79.34" y="411.20" width="6.15" height="6.15" fill="#3f049c"/><rect x="85.48" y="411.20" width="6.15" height="6.15" fill="#5002a2"/><rect x="91.63" y="411.20" width="6.15" height="6.15" fill="#5e01a6"/><rect x="97.78" y="411.20" width="6.15" height="6.15" fill="#6c00a8"/><rect x="103.93" y="411.20" width="6.15" height="6.15" fill="#7801a8"/><rect x="110.08" y="411.20" width="6.15" height="6.15" fill="#8405a7"/><rect x="116.23" y="411.20" width="6.15" height="6.15" fill="#8f0da4"/><rect x="122.38" y="411.20" width="6.15" height="6.15" fill="#99159f"/><rect x="128.52" y="411.20" width="6.15" height="6.15" fill="#a21d9a"/><rect x="134.67" y="411.20" width="6.15" height="6.15" fill="#ab2494"/><rect x="140.82" y="411.20" width="6.15" height="6.15" fill="#b42e8d"/><rect x="146.97" y="411.20" width="6.15" height="6.15" fill="#be3885"/><rect x="153.12" y="411.20" width="6.15" height="6.15" fill="#c8437b"/><rect x="159.27" y="411.20" width="6.15" height="6.15" fill="#d35171"/><rect x="165.42" y="411.20" width="6.15" height="6.15" fill="#db5c68"/><rect x="171.56" y="411.20" width="6.15" height="6.15" fill="#e26660"/><rect x="177.71" y="411.20" width="6.15" height="6.15" fill="#ed7953"/><rect x="183.86" y="411.20" width="6.15" height="6.15" fill="#f58c46"/><rect x="190.01" y="411.20" width="6.15" height="6.15" fill="#fba238"/><rect x="196.16" y="411.20" width="6.15" height="6.15" fill="#fdb52e"/><rect x="202.31" y="411.20" width="6.15" height="6.15" fill="#febb2b"/><rect x="208.46" y="411.20" width="6.15" height="6.15" fill="#fdc229"/><rect x="214.60" y="411.20" width="6.15" height="6.15" fill="#fdca26"/><rect x="220.75" y="411.20" width="6.15" height="6.15" fill="#fcd225"/><rect x="226.90" y="411.20" width="6.15" height="6.15" fill="#fbd724"/><rect x="233.05" y="411.20" width="184.46" height="6.15" fill="#f6e826"/><rect x="417.50" y="411.20" width="6.15" height="6.15" fill="#fcd025"/><rect x="423.65" y="411.20" width="6.15" height="6.15" fill="#fdc229"/><rect x="429.80" y="411.20" width="6.15" height="6.15" fill="#feba2c"/><rect x="435.95" y="411.20" width="6.15" height="6.15" fill="#fdb52e"/><rect x="442.10" y="411.20" width="6.15" height="6.15" fill="#fdb22f"/><rect x="448.25" y="411.20" width="6.15" height="6.15" fill="#fdaf31"/><rect x="454.40" y="411.20" width="6.15" height="6.15" fill="#fca835"/><rect x="460.54" y="411.20" width="6.15" height="6.15" fill="#fa9e3b"/><rect x="466.69" y="411.20" width="6.15" height="6.15" fill="#f2844b"/><rect x="472.84" y="411.20" width="6.15" height="6.15" fill="#e4695e"/><rect x="478.99" y="411.20" width="6.15" height="6.15" fill="#da5a6a"/><rect x="485.14" y="411.20" width="6.15" height="6.15" fill="#cd4a76"/><rect x="491.29" y="411.20" width="6.15" height="6.15" fill="#bd3786"/><rect x="497.43" y="411.20" width="6.15" height="6.15" fill="#a62098"/><rect x="503.58" y="411.20" width="6.15" height="6.15" fill="#8f0da4"/><rect x="509.73" y="411.20" width="6.15" height="6.15" fill="#7d03a8"/><rect x="515.88" y="411.20" width="6.15" height="6.15" fill="#6700a8"/><rect x="522.03" y="411.20" width="6.15" height="6.15" fill="#5102a3"/><rect x="528.18" y="411.20" width="6.15" height="6.15" fill="#3f049c"/><rect x="534.33" y="411.20" width="6.15" height="6.15" fill="#310597"/><rect x="540.47" y="411.20" width="18.45" height="6.15" fill="#280592"/><rect x="60.89" y="417.35" width="6.15" height="6.15" fill="#220690"/><rect x="67.04" y="417.35" width="6.15" height="6.15" fill="#260591"/><rect x="73.19" y="417.35" width="6.15" height="6.15" fill="#2a0593"/><rect x="79.34" y="417.35" width="6.15" height="6.15" fill="#3e049c"/><rect x="85.48" y="417.35" width="6.15" height="6.15" fill="#4e02a2"/><rect x="91.63" y="417.35" width="6.15" height="6.15" fill="#5c01a6"/><rect x="97.78" y="417.35" width="6.15" height="6.15" fill="#6a00a8"/><rect x="103.93" y="417.35" width="6.15" height="6.15" fill="#7801a8"/><rect x="110.08" y="417.35" width="6.15" height="6.15" fill="#8405a7"/><rect x="116.23" y="417.35" width="6.15" height="6.15" fill="#8f0da4"/><rect x="122.38" y="417.35" width="6.15" height="6.15" fill="#99159f"/><rect x="128.52" y="417.35" width="6.15" height="6.15" fill="#a21d9a"/><rect x="134.67" y="417.35" width="6.15" height="6.15" fill="#ab2494"/><rect x="140.82" y="417.35" width="6.15" height="6.15" fill="#b32c8e"/><rect x="146.97" y="417.35" width="6.15" height="6.15" fill="#bc3587"/><rect x="153.12" y="417.35" width="6.15" height="6.15" fill="#c6417d"/><rect x="159.27" y="417.35" width="6.15" height="6.15" fill="#d24f71"/><rect x="165.42" y="417.35" width="6.15" height="6.15" fill="#da5b69"/><rect x="171.56" y="417.35" width="6.15" height="6.15" fill="#e26561"/><rect x="177.71" y="417.35" width="6.15" height="6.15" fill="#ed7953"/><rect x="183.86" y="417.35" width="6.15" height="6.15" fill="#f68d45"/><rect x="190.01" y="417.35" width="6.15" height="6.15" fill="#fca537"/><rect x="196.16" y="417.35" width="6.15" height="6.15" fill="#feb82c"/><rect x="202.31" y="417.35" width="6.15" height="6.15" fill="#febe2a"/><rect x="208.46" y="417.35" width="6.15" height="6.15" fill="#fdc527"/><rect x="214.60" y="417.35" width="6.15" height="6.15" fill="#fdcb26"/><rect x="220.75" y="417.35" width="6.15" height="6.15" fill="#fbd324"/><rect x="226.90" y="417.35" width="6.15" height="6.15" fill="#fbd724"/><rect x="233.05" y="417.35" width="184.46" height="6.15" fill="#f6e826"/><rect x="417.50" y="417.35" width="6.15" height="6.15" fill="#fcd025"/><rect x="423.65" y="417.35" width="6.15" height="6.15" fill="#fdc328"/><rect x="429.80" y="417.35" width="6.15" height="6.15" fill="#feba2c"/><rect x="435.95" y="417.35" width="6.15" height="6.15" fill="#feb72d"/><rect x="442.10" y="417.35" width="6.15" height="6.15" fill="#fdb22f"/><rect x="448.25" y="417.35" width="6.15" height="6.15" fill="#fdaf31"/><rect x="454.40" y="417.35" width="6.15" height="6.15" fill="#fca835"/><rect x="460.54" y="417.35" width="6.15" height="6.15" fill="#fa9c3c"/><rect x="466.69" y="417.35" width="6.15" height="6.15" fill="#f3854b"/><rect x="472.84" y="417.35" width="6.15" height="6.15" fill="#e4695e"/><rect x="478.99" y="417.35" width="6.15" height="6.15" fill="#da5b69"/><rect x="485.14" y="417.35" width="6.15" height="6.15" fill="#ce4b75"/><rect x="491.29" y="417.35" width="6.15" height="6.15" fill="#be3885"/><rect x="497.43" y="417.35" width="6.15" height="6.15" fill="#a72197"/><rect x="503.58" y="417.35" width="6.15" height="6.15" fill="#910ea3"/><rect x="509.73" y="417.35" width="6.15" height="6.15" fill="#7d03a8"/><rect x="515.88" y="417.35" width="6.15" height="6.15" fill="#6700a8"/><rect x="522.03" y="417.35" width="6.15" height="6.15" fill="#5102a3"/><rect x="528.18" y="417.35" width="6.15" height="6.15" fill="#3e049c"/><rect x="534.33" y="417.35" width="6.15" height="6.15" fill="#2f0596"/><rect x="540.47" y="417.35" width="12.30" height="6.15" fill="#260591"/><rect x="60.89" y="423.50" width="6.15" height="6.15" fill="#20068f"/><rect x="67.04" y="423.50" width="6.15" height="6.15" fill="#240691"/><rect x="73.19" y="423.50" width="6.15" height="6.15" fill="#260591"/><rect x="79.34" y="423.50" width="6.15" height="6.15" fill="#3c049b"/><rect x="85.48" y="423.50" width="6.15" height="6.15" fill="#4c02a1"/><rect x="91.63" y="423.50" width="6.15" height="6.15" fill="#5b01a5"/><rect x="97.78" y="423.50" width="6.15" height="6.15" fill="#6a00a8"/><rect x="103.93" y="423.50" width="6.15" height="6.15" fill="#7701a8"/><rect x="110.08" y="423.50" width="6.15" height="6.15" fill="#8405a7"/><rect x="116.23" y="423.50" width="6.15" height="6.15" fill="#8f0da4"/><rect x="122.38" y="423.50" width="6.15" height="6.15" fill="#99159f"/><rect x="128.52" y="423.50" width="6.15" height="6.15" fill="#a21d9a"/><rect x="134.67" y="423.50" width="6.15" height="6.15" fill="#ab2494"/><rect x="140.82" y="423.50" width="6.15" height="6.15" fill="#b32c8e"/><rect x="146.97" y="423.50" width="6.15" height="6.15" fill="#bb3488"/><rect x="153.12" y="423.50" width="6.15" height="6.15" fill="#c5407e"/><rect x="159.27" y="423.50" width="6.15" height="6.15" fill="#d14e72"/><rect x="165.42" y="423.50" width="6.15" height="6.15" fill="#da5b69"/><rect x="171.56" y="423.50" width="6.15" height="6.15" fill="#e16462"/><rect x="177.71" y="423.50" width="6.15" height="6.15" fill="#ed7953"/><rect x="183.86" y="423.50" width="6.15" height="6.15" fill="#f68f44"/><rect x="190.01" y="423.50" width="6.15" height="6.15" fill="#fca636"/><rect x="196.16" y="423.50" width="6.15" height="6.15" fill="#feba2c"/><rect x="202.31" y="423.50" width="6.15" height="6.15" fill="#fec029"/><rect x="208.46" y="423.50" width="6.15" height="6.15" fill="#fdc827"/><rect x="214.60" y="423.50" width="6.15" height="6.15" fill="#fcce25"/><rect x="220.75" y="423.50" width="6.15" height="6.15" fill="#fbd524"/><rect x="226.90" y="423.50" width="6.15" height="6.15" fill="#fbd724"/><rect x="233.05" y="423.50" width="184.46" height="6.15" fill="#f6e826"/><rect x="417.50" y="423.50" width="6.15" height="6.15" fill="#fcce25"/><rect x="423.65" y="423.50" width="6.15" height="6.15" fill="#fdc527"/><rect x="429.80" y="423.50" width="6.15" height="6.15" fill="#feba2c"/><rect x="435.95" y="423.50" width="6.15" height="6.15" fill="#feb72d"/><rect x="442.10" y="423.50" width="6.15" height="6.15" fill="#fdb42f"/><rect x="448.25" y="423.50" width="6.15" height="6.15" fill="#fdb130"/><rect x="454.40" y="423.50" width="6.15" height="6.15" fill="#fca835"/><rect x="460.54" y="423.50" width="6.15" height="6.15" fill="#fa9b3d"/><rect x="466.69" y="423.50" width="6.15" height="6.15" fill="#f3854b"/><rect x="472.84" y="423.50" width="6.15" height="6.15" fill="#e56a5d"/><rect x="478.99" y="423.50" width="6.15" height="6.15" fill="#db5c68"/><rect x="485.14" y="423.50" width="6.15" height="6.15" fill="#cf4c74"/><rect x="491.29" y="423.50" width="6.15" height="6.15" fill="#bf3984"/><rect x="497.43" y="423.50" width="6.15" height="6.15" fill="#a72197"/><rect x="503.58" y="423.50" width="6.15" height="6.15" fill="#910ea3"/><rect x="509.73" y="423.50" width="6.15" height="6.15" fill="#7d03a8"/><rect x="515.88" y="423.50" width="6.15" height="6.15" fill="#6700a8"/><rect x="522.03" y="423.50" width="6.15" height="6.15" fill="#5102a3"/><rect x="528.18" y="423.50" width="6.15" height="6.15" fill="#3e049c"/><rect x="534.33" y="423.50" width="6.15" height="6.15" fill="#2e0595"/><rect x="540.47" y="423.50" width="6.15" height="6.15" fill="#260591"/><rect x="60.89" y="429.64" width="6.15" height="6.15" fill="#20068f"/><rect x="67.04" y="429.64" width="6.15" height="6.15" fill="#240691"/><rect x="73.19" y="429.64" width="6.15" height="6.15" fill="#2a0593"/><rect x="79.34" y="429.64" width="6.15" height="6.15" fill="#3a049a"/><rect x="85.48" y="429.64" width="6.15" height="6.15" fill="#4903a0"/><rect x="91.63" y="429.64" width="6.15" height="6.15" fill="#5801a4"/><rect x="97.78" y="429.64" width="6.15" height="6.15" fill="#6600a7"/><rect x="103.93" y="429.64" width="6.15" height="6.15" fill="#7401a8"/><rect x="110.08" y="429.64" width="6.15" height="6.15" fill="#8004a8"/><rect x="116.23" y="429.64" width="6.15" height="6.15" fill="#8d0ba5"/><rect x="122.38" y="429.64" width="6.15" height="6.15" fill="#9613a1"/><rect x="128.52" y="429.64" width="6.15" height="6.15" fill="#a01a9c"/><rect x="134.67" y="429.64" width="6.15" height="6.15" fill="#a82296"/><rect x="140.82" y="429.64" width="6.15" height="6.15" fill="#b22b8f"/><rect x="146.97" y="429.64" width="6.15" height="6.15" fill="#bc3587"/><rect x="153.12" y="429.64" width="6.15" height="6.15" fill="#c6417d"/><rect x="159.27" y="429.64" width="6.15" height="6.15" fill="#d14e72"/><rect x="165.42" y="429.64" width="6.15" height="6.15" fill="#db5c68"/><rect x="171.56" y="429.64" width="6.15" height="6.15" fill="#e3685f"/><rect x="177.71" y="429.64" width="6.15" height="6.15" fill="#ed7a52"/><rect x="183.86" y="429.64" width="6.15" height="6.15" fill="#f68d45"/><rect x="190.01" y="429.64" width="6.15" height="6.15" fill="#fba238"/><rect x="196.16" y="429.64" width="6.15" height="6.15" fill="#fdb42f"/><rect x="202.31" y="429.64" width="6.15" height="6.15" fill="#febd2a"/><rect x="208.46" y="429.64" width="6.15" height="6.15" fill="#fdc627"/><rect x="214.60" y="429.64" width="6.15" height="6.15" fill="#fccd25"/><rect x="220.75" y="429.64" width="6.15" height="6.15" fill="#fbd324"/><rect x="226.90" y="429.64" width="6.15" height="6.15" fill="#fbd724"/><rect x="233.05" y="429.64" width="184.46" height="6.15" fill="#f6e826"/><rect x="417.50" y="429.64" width="6.15" height="6.15" fill="#fcce25"/><rect x="423.65" y="429.64" width="6.15" height="6.15" fill="#fdc527"/><rect x="429.80" y="429.64" width="6.15" height="6.15" fill="#feba2c"/><rect x="435.95" y="429.64" width="6.15" height="6.15" fill="#fdb42f"/><rect x="442.10" y="429.64" width="6.15" height="6.15" fill="#fdaf31"/><rect x="448.25" y="429.64" width="6.15" height="6.15" fill="#fdab33"/><rect x="454.40" y="429.64" width="6.15" height="6.15" fill="#fca338"/><rect x="460.54" y="429.64" width="6.15" height="6.15" fill="#f89540"/><rect x="466.69" y="429.64" width="6.15" height="6.15" fill="#f3854b"/><rect x="472.84" y="429.64" width="6.15" height="6.15" fill="#e56a5d"/><rect x="478.99" y="429.64" width="6.15" height="6.15" fill="#da5b69"/><rect x="485.14" y="429.64" width="6.15" height="6.15" fill="#cd4a76"/><rect x="491.29" y="429.64" width="6.15" height="6.15" fill="#be3885"/><rect x="497.43" y="429.64" width="6.15" height="6.15" fill="#aa2395"/><rect x="503.58" y="429.64" width="6.15" height="6.15" fill="#910ea3"/><rect x="509.73" y="429.64" width="6.15" height="6.15" fill="#7a02a8"/><rect x="515.88" y="429.64" width="6.15" height="6.15" fill="#6100a7"/><rect x="522.03" y="429.64" width="6.15" height="6.15" fill="#46039f"/><rect x="528.18" y="429.64" width="6.15" height="6.15" fill="#38049a"/><rect x="534.33" y="429.64" width="6.15" height="6.15" fill="#2a0593"/><rect x="540.47" y="429.64" width="6.15" height="6.15" fill="#260591"/><rect x="60.89" y="435.79" width="6.15" height="6.15" fill="#20068f"/><rect x="67.04" y="435.79" width="6.15" height="6.15" fill="#240691"/><rect x="73.19" y="435.79" width="6.15" height="6.15" fill="#2e0595"/><rect x="79.34" y="435.79" width="6.15" height="6.15" fill="#3a049a"/><rect x="85.48" y="435.79" width="6.15" height="6.15" fill="#44039e"/><rect x="91.63" y="435.79" width="6.15" height="6.15" fill="#5502a4"/><rect x="97.78" y="435.79" width="6.15" height="6.15" fill="#6300a7"/><rect x="103.93" y="435.79" width="6.15" height="6.15" fill="#7100a8"/><rect x="110.08" y="435.79" width="6.15" height="6.15" fill="#7d03a8"/><rect x="116.23" y="435.79" width="6.15" height="6.15" fill="#8808a6"/><rect x="122.38" y="435.79" width="6.15" height="6.15" fill="#920fa3"/><rect x="128.52" y="435.79" width="6.15" height="6.15" fill="#9d189d"/><rect x="134.67" y="435.79" width="6.15" height="6.15" fill="#a72197"/><rect x="140.82" y="435.79" width="6.15" height="6.15" fill="#b22b8f"/><rect x="146.97" y="435.79" width="6.15" height="6.15" fill="#bc3587"/><rect x="153.12" y="435.79" width="6.15" height="6.15" fill="#c6417d"/><rect x="159.27" y="435.79" width="6.15" height="6.15" fill="#d14e72"/><rect x="165.42" y="435.79" width="6.15" height="6.15" fill="#dc5d67"/><rect x="171.56" y="435.79" width="6.15" height="6.15" fill="#e66c5c"/><rect x="177.71" y="435.79" width="6.15" height="6.15" fill="#ee7b51"/><rect x="183.86" y="435.79" width="6.15" height="6.15" fill="#f58c46"/><rect x="190.01" y="435.79" width="6.15" height="6.15" fill="#fa9e3b"/><rect x="196.16" y="435.79" width="6.15" height="6.15" fill="#fdac33"/><rect x="202.31" y="435.79" width="6.15" height="6.15" fill="#feba2c"/><rect x="208.46" y="435.79" width="6.15" height="6.15" fill="#fdc627"/><rect x="214.60" y="435.79" width="6.15" height="6.15" fill="#fdcb26"/><rect x="220.75" y="435.79" width="6.15" height="6.15" fill="#fcd225"/><rect x="226.90" y="435.79" width="6.15" height="6.15" fill="#fbd724"/><rect x="233.05" y="435.79" width="184.46" height="6.15" fill="#f6e826"/><rect x="417.50" y="435.79" width="6.15" height="6.15" fill="#fcce25"/><rect x="423.65" y="435.79" width="6.15" height="6.15" fill="#fdc527"/><rect x="429.80" y="435.79" width="6.15" height="6.15" fill="#feba2c"/><rect x="435.95" y="435.79" width="6.15" height="6.15" fill="#fdb22f"/><rect x="442.10" y="435.79" width="6.15" height="6.15" fill="#fdab33"/><rect x="448.25" y="435.79" width="6.15" height="6.15" fill="#fca537"/><rect x="454.40" y="435.79" width="6.15" height="6.15" fill="#fb9f3a"/><rect x="460.54" y="435.79" width="6.15" height="6.15" fill="#f79143"/><rect x="466.69" y="435.79" width="6.15" height="6.15" fill="#f2844b"/><rect x="472.84" y="435.79" width="6.15" height="6.15" fill="#e56a5d"/><rect x="478.99" y="435.79" width="6.15" height="6.15" fill="#d9586a"/><rect x="485.14" y="435.79" width="6.15" height="6.15" fill="#cc4778"/><rect x="491.29" y="435.79" width="6.15" height="6.15" fill="#be3885"/><rect x="497.43" y="435.79" width="6.15" height="6.15" fill="#ab2494"/><rect x="503.58" y="435.79" width="6.15" height="6.15" fill="#8f0da4"/><rect x="509.73" y="435.79" width="6.15" height="6.15" fill="#7701a8"/><rect x="515.88" y="435.79" width="6.15" height="6.15" fill="#5b01a5"/><rect x="522.03" y="435.79" width="6.15" height="6.15" fill="#3c049b"/><rect x="528.18" y="435.79" width="6.15" height="6.15" fill="#310597"/><rect x="534.33" y="435.79" width="12.30" height="6.15" fill="#260591"/><rect x="60.89" y="441.94" width="6.15" height="6.15" fill="#20068f"/><rect x="67.04" y="441.94" width="6.15" height="6.15" fill="#240691"/><rect x="73.19" y="441.94" width="6.15" height="6.15" fill="#2c0594"/><rect x="79.34" y="441.94" width="6.15" height="6.15" fill="#38049a"/><rect x="85.48" y="441.94" width="6.15" height="6.15" fill="#44039e"/><rect x="91.63" y="441.94" width="6.15" height="6.15" fill="#5102a3"/><rect x="97.78" y="441.94" width="6.15" height="6.15" fill="#6100a7"/><rect x="103.93" y="441.94" width="6.15" height="6.15" fill="#6f00a8"/><rect x="110.08" y="441.94" width="6.15" height="6.15" fill="#7d03a8"/><rect x="116.23" y="441.94" width="6.15" height="6.15" fill="#8808a6"/><rect x="122.38" y="441.94" width="6.15" height="6.15" fill="#9410a2"/><rect x="128.52" y="441.94" width="6.15" height="6.15" fill="#9d189d"/><rect x="134.67" y="441.94" width="6.15" height="6.15" fill="#aa2395"/><rect x="140.82" y="441.94" width="6.15" height="6.15" fill="#b52f8c"/><rect x="146.97" y="441.94" width="6.15" height="6.15" fill="#c03a83"/><rect x="153.12" y="441.94" width="6.15" height="6.15" fill="#ca457a"/><rect x="159.27" y="441.94" width="6.15" height="6.15" fill="#d5536f"/><rect x="165.42" y="441.94" width="6.15" height="6.15" fill="#df6263"/><rect x="171.56" y="441.94" width="6.15" height="6.15" fill="#e97158"/><rect x="177.71" y="441.94" width="6.15" height="6.15" fill="#f1814d"/><rect x="183.86" y="441.94" width="6.15" height="6.15" fill="#f79342"/><rect x="190.01" y="441.94" width="6.15" height="6.15" fill="#fba238"/><rect x="196.16" y="441.94" width="6.15" height="6.15" fill="#fdb130"/><rect x="202.31" y="441.94" width="6.15" height="6.15" fill="#febb2b"/><rect x="208.46" y="441.94" width="6.15" height="6.15" fill="#fdc627"/><rect x="214.60" y="441.94" width="6.15" height="6.15" fill="#fccd25"/><rect x="220.75" y="441.94" width="6.15" height="6.15" fill="#fbd324"/><rect x="226.90" y="441.94" width="6.15" height="6.15" fill="#fbd724"/><rect x="233.05" y="441.94" width="190.60" height="6.15" fill="#f6e826"/><rect x="423.65" y="441.94" width="6.15" height="6.15" fill="#fdc827"/><rect x="429.80" y="441.94" width="6.15" height="6.15" fill="#febd2a"/><rect x="435.95" y="441.94" width="6.15" height="6.15" fill="#fdb52e"/><rect x="442.10" y="441.94" width="6.15" height="6.15" fill="#fdac33"/><rect x="448.25" y="441.94" width="6.15" height="6.15" fill="#fca537"/><rect x="454.40" y="441.94" width="6.15" height="6.15" fill="#fa9e3b"/><rect x="460.54" y="441.94" width="6.15" height="6.15" fill="#f68d45"/><rect x="466.69" y="441.94" width="6.15" height="6.15" fill="#ef7e50"/><rect x="472.84" y="441.94" width="6.15" height="6.15" fill="#e26660"/><rect x="478.99" y="441.94" width="6.15" height="6.15" fill="#d5546e"/><rect x="485.14" y="441.94" width="6.15" height="6.15" fill="#c7427c"/><rect x="491.29" y="441.94" width="6.15" height="6.15" fill="#b83289"/><rect x="497.43" y="441.94" width="6.15" height="6.15" fill="#a21d9a"/><rect x="503.58" y="441.94" width="6.15" height="6.15" fill="#8707a6"/><rect x="509.73" y="441.94" width="6.15" height="6.15" fill="#6f00a8"/><rect x="515.88" y="441.94" width="6.15" height="6.15" fill="#5502a4"/><rect x="522.03" y="441.94" width="6.15" height="6.15" fill="#3a049a"/><rect x="528.18" y="441.94" width="6.15" height="6.15" fill="#2f0596"/><rect x="534.33" y="441.94" width="6.15" height="6.15" fill="#260591"/><rect x="60.89" y="448.08" width="6.15" height="6.15" fill="#20068f"/><rect x="67.04" y="448.08" width="6.15" height="6.15" fill="#220690"/><rect x="73.19" y="448.08" width="6.15" height="6.15" fill="#2c0594"/><rect x="79.34" y="448.08" width="6.15" height="6.15" fill="#38049a"/><rect x="85.48" y="448.08" width="6.15" height="6.15" fill="#43039e"/><rect x="91.63" y="448.08" width="6.15" height="6.15" fill="#5002a2"/><rect x="97.78" y="448.08" width="6.15" height="6.15" fill="#6001a6"/><rect x="103.93" y="448.08" width="6.15" height="6.15" fill="#6e00a8"/><rect x="110.08" y="448.08" width="6.15" height="6.15" fill="#7b02a8"/><rect x="116.23" y="448.08" width="6.15" height="6.15" fill="#8808a6"/><rect x="122.38" y="448.08" width="6.15" height="6.15" fill="#9410a2"/><rect x="128.52" y="448.08" width="6.15" height="6.15" fill="#9e199d"/><rect x="134.67" y="448.08" width="6.15" height="6.15" fill="#ad2793"/><rect x="140.82" y="448.08" width="6.15" height="6.15" fill="#b83289"/><rect x="146.97" y="448.08" width="6.15" height="6.15" fill="#c33d80"/><rect x="153.12" y="448.08" width="6.15" height="6.15" fill="#cd4a76"/><rect x="159.27" y="448.08" width="6.15" height="6.15" fill="#d8576b"/><rect x="165.42" y="448.08" width="6.15" height="6.15" fill="#e26660"/><rect x="171.56" y="448.08" width="6.15" height="6.15" fill="#ec7754"/><rect x="177.71" y="448.08" width="6.15" height="6.15" fill="#f48849"/><rect x="183.86" y="448.08" width="6.15" height="6.15" fill="#f9983e"/><rect x="190.01" y="448.08" width="6.15" height="6.15" fill="#fca636"/><rect x="196.16" y="448.08" width="6.15" height="6.15" fill="#fdb42f"/><rect x="202.31" y="448.08" width="6.15" height="6.15" fill="#febd2a"/><rect x="208.46" y="448.08" width="6.15" height="6.15" fill="#fdc627"/><rect x="214.60" y="448.08" width="6.15" height="6.15" fill="#fccd25"/><rect x="220.75" y="448.08" width="6.15" height="6.15" fill="#fbd524"/><rect x="226.90" y="448.08" width="6.15" height="6.15" fill="#fbd724"/><rect x="233.05" y="448.08" width="190.60" height="6.15" fill="#f6e826"/><rect x="423.65" y="448.08" width="6.15" height="6.15" fill="#fdcb26"/><rect x="429.80" y="448.08" width="6.15" height="6.15" fill="#fec029"/><rect x="435.95" y="448.08" width="6.15" height="6.15" fill="#feb72d"/><rect x="442.10" y="448.08" width="6.15" height="6.15" fill="#fdae32"/><rect x="448.25" y="448.08" width="6.15" height="6.15" fill="#fca537"/><rect x="454.40" y="448.08" width="6.15" height="6.15" fill="#fa9b3d"/><rect x="460.54" y="448.08" width="6.15" height="6.15" fill="#f48948"/><rect x="466.69" y="448.08" width="6.15" height="6.15" fill="#eb7655"/><rect x="472.84" y="448.08" width="6.15" height="6.15" fill="#df6263"/><rect x="478.99" y="448.08" width="6.15" height="6.15" fill="#d24f71"/><rect x="485.14" y="448.08" width="6.15" height="6.15" fill="#c33d80"/><rect x="491.29" y="448.08" width="6.15" height="6.15" fill="#b32c8e"/><rect x="497.43" y="448.08" width="6.15" height="6.15" fill="#99159f"/><rect x="503.58" y="448.08" width="6.15" height="6.15" fill="#7e03a8"/><rect x="509.73" y="448.08" width="6.15" height="6.15" fill="#6900a8"/><rect x="515.88" y="448.08" width="6.15" height="6.15" fill="#4e02a2"/><rect x="522.03" y="448.08" width="6.15" height="6.15" fill="#370499"/><rect x="528.18" y="448.08" width="6.15" height="6.15" fill="#2e0595"/><rect x="67.04" y="454.23" width="6.15" height="6.15" fill="#220690"/><rect x="73.19" y="454.23" width="6.15" height="6.15" fill="#2c0594"/><rect x="79.34" y="454.23" width="6.15" height="6.15" fill="#370499"/><rect x="85.48" y="454.23" width="6.15" height="6.15" fill="#43039e"/><rect x="91.63" y="454.23" width="6.15" height="6.15" fill="#4e02a2"/><rect x="97.78" y="454.23" width="6.15" height="6.15" fill="#5e01a6"/><rect x="103.93" y="454.23" width="6.15" height="6.15" fill="#6c00a8"/><rect x="110.08" y="454.23" width="6.15" height="6.15" fill="#7b02a8"/><rect x="116.23" y="454.23" width="6.15" height="6.15" fill="#8808a6"/><rect x="122.38" y="454.23" width="6.15" height="6.15" fill="#9410a2"/><rect x="128.52" y="454.23" width="6.15" height="6.15" fill="#a01a9c"/><rect x="134.67" y="454.23" width="6.15" height="6.15" fill="#b02991"/><rect x="140.82" y="454.23" width="6.15" height="6.15" fill="#bd3786"/><rect x="146.97" y="454.23" width="6.15" height="6.15" fill="#c7427c"/><rect x="153.12" y="454.23" width="6.15" height="6.15" fill="#d14e72"/><rect x="159.27" y="454.23" width="6.15" height="6.15" fill="#da5b69"/><rect x="165.42" y="454.23" width="6.15" height="6.15" fill="#e66c5c"/><rect x="171.56" y="454.23" width="6.15" height="6.15" fill="#ef7e50"/><rect x="177.71" y="454.23" width="6.15" height="6.15" fill="#f68f44"/><rect x="183.86" y="454.23" width="6.15" height="6.15" fill="#fa9e3b"/><rect x="190.01" y="454.23" width="6.15" height="6.15" fill="#fdab33"/><rect x="196.16" y="454.23" width="6.15" height="6.15" fill="#feb72d"/><rect x="202.31" y="454.23" width="6.15" height="6.15" fill="#febe2a"/><rect x="208.46" y="454.23" width="6.15" height="6.15" fill="#fdc827"/><rect x="214.60" y="454.23" width="6.15" height="6.15" fill="#fccd25"/><rect x="220.75" y="454.23" width="12.30" height="6.15" fill="#fbd724"/><rect x="233.05" y="454.23" width="190.60" height="6.15" fill="#f6e826"/><rect x="423.65" y="454.23" width="6.15" height="6.15" fill="#fcce25"/><rect x="429.80" y="454.23" width="6.15" height="6.15" fill="#fdc328"/><rect x="435.95" y="454.23" width="6.15" height="6.15" fill="#feba2c"/><rect x="442.10" y="454.23" width="6.15" height="6.15" fill="#fdaf31"/><rect x="448.25" y="454.23" width="6.15" height="6.15" fill="#fca636"/><rect x="454.40" y="454.23" width="6.15" height="6.15" fill="#f99a3e"/><rect x="460.54" y="454.23" width="6.15" height="6.15" fill="#f3854b"/><rect x="466.69" y="454.23" width="6.15" height="6.15" fill="#e87059"/><rect x="472.84" y="454.23" width="6.15" height="6.15" fill="#dc5d67"/><rect x="478.99" y="454.23" width="6.15" height="6.15" fill="#ce4b75"/><rect x="485.14" y="454.23" width="6.15" height="6.15" fill="#bf3984"/><rect x="491.29" y="454.23" width="6.15" height="6.15" fill="#ad2793"/><rect x="497.43" y="454.23" width="6.15" height="6.15" fill="#910ea3"/><rect x="503.58" y="454.23" width="6.15" height="6.15" fill="#7501a8"/><rect x="509.73" y="454.23" width="6.15" height="6.15" fill="#6001a6"/><rect x="515.88" y="454.23" width="6.15" height="6.15" fill="#48039f"/><rect x="522.03" y="454.23" width="6.15" height="6.15" fill="#350498"/><rect x="528.18" y="454.23" width="6.15" height="6.15" fill="#2a0593"/><rect x="67.04" y="460.38" width="6.15" height="6.15" fill="#220690"/><rect x="73.19" y="460.38" width="6.15" height="6.15" fill="#2c0594"/><rect x="79.34" y="460.38" width="6.15" height="6.15" fill="#370499"/><rect x="85.48" y="460.38" width="6.15" height="6.15" fill="#41049d"/><rect x="91.63" y="460.38" width="6.15" height="6.15" fill="#4c02a1"/><rect x="97.78" y="460.38" width="6.15" height="6.15" fill="#5c01a6"/><rect x="103.93" y="460.38" width="6.15" height="6.15" fill="#6c00a8"/><rect x="110.08" y="460.38" width="6.15" height="6.15" fill="#7a02a8"/><rect x="116.23" y="460.38" width="6.15" height="6.15" fill="#8808a6"/><rect x="122.38" y="460.38" width="6.15" height="6.15" fill="#9511a1"/><rect x="128.52" y="460.38" width="6.15" height="6.15" fill="#a01a9c"/><rect x="134.67" y="460.38" width="6.15" height="6.15" fill="#b32c8e"/><rect x="140.82" y="460.38" width="6.15" height="6.15" fill="#c03a83"/><rect x="146.97" y="460.38" width="6.15" height="6.15" fill="#ca457a"/><rect x="153.12" y="460.38" width="6.15" height="6.15" fill="#d45270"/><rect x="159.27" y="460.38" width="6.15" height="6.15" fill="#de5f65"/><rect x="165.42" y="460.38" width="6.15" height="6.15" fill="#e97158"/><rect x="171.56" y="460.38" width="6.15" height="6.15" fill="#f2844b"/><rect x="177.71" y="460.38" width="6.15" height="6.15" fill="#f89540"/><rect x="183.86" y="460.38" width="6.15" height="6.15" fill="#fca537"/><rect x="190.01" y="460.38" width="6.15" height="6.15" fill="#fdaf31"/><rect x="196.16" y="460.38" width="6.15" height="6.15" fill="#feba2c"/><rect x="202.31" y="460.38" width="6.15" height="6.15" fill="#fdc229"/><rect x="208.46" y="460.38" width="6.15" height="6.15" fill="#fdc827"/><rect x="214.60" y="460.38" width="6.15" height="6.15" fill="#fcce25"/><rect x="220.75" y="460.38" width="6.15" height="6.15" fill="#fbd724"/><rect x="226.90" y="460.38" width="202.90" height="6.15" fill="#f6e826"/><rect x="429.80" y="460.38" width="6.15" height="6.15" fill="#fdc627"/><rect x="435.95" y="460.38" width="6.15" height="6.15" fill="#febd2a"/><rect x="442.10" y="460.38" width="6.15" height="6.15" fill="#fdb22f"/><rect x="448.25" y="460.38" width="6.15" height="6.15" fill="#fca636"/><rect x="454.40" y="460.38" width="6.15" height="6.15" fill="#f9973f"/><rect x="460.54" y="460.38" width="6.15" height="6.15" fill="#f1814d"/><rect x="466.69" y="460.38" width="6.15" height="6.15" fill="#e56a5d"/><rect x="472.84" y="460.38" width="6.15" height="6.15" fill="#da5a6a"/><rect x="478.99" y="460.38" width="6.15" height="6.15" fill="#ca457a"/><rect x="485.14" y="460.38" width="6.15" height="6.15" fill="#bb3488"/><rect x="491.29" y="460.38" width="6.15" height="6.15" fill="#a72197"/><rect x="497.43" y="460.38" width="6.15" height="6.15" fill="#8707a6"/><rect x="503.58" y="460.38" width="6.15" height="6.15" fill="#6c00a8"/><rect x="509.73" y="460.38" width="6.15" height="6.15" fill="#5801a4"/><rect x="515.88" y="460.38" width="6.15" height="6.15" fill="#43039e"/><rect x="522.03" y="460.38" width="6.15" height="6.15" fill="#330597"/><rect x="528.18" y="460.38" width="6.15" height="6.15" fill="#280592"/><rect x="67.04" y="466.52" width="6.15" height="6.15" fill="#20068f"/><rect x="73.19" y="466.52" width="6.15" height="6.15" fill="#2c0594"/><rect x="79.34" y="466.52" width="6.15" height="6.15" fill="#370499"/><rect x="85.48" y="466.52" width="6.15" height="6.15" fill="#41049d"/><rect x="91.63" y="466.52" width="6.15" height="6.15" fill="#4903a0"/><rect x="97.78" y="466.52" width="6.15" height="6.15" fill="#5b01a5"/><rect x="103.93" y="466.52" width="6.15" height="6.15" fill="#6a00a8"/><rect x="110.08" y="466.52" width="6.15" height="6.15" fill="#7a02a8"/><rect x="116.23" y="466.52" width="6.15" height="6.15" fill="#8808a6"/><rect x="122.38" y="466.52" width="6.15" height="6.15" fill="#9511a1"/><rect x="128.52" y="466.52" width="6.15" height="6.15" fill="#a11b9b"/><rect x="134.67" y="466.52" width="6.15" height="6.15" fill="#b52f8c"/><rect x="140.82" y="466.52" width="6.15" height="6.15" fill="#c43e7f"/><rect x="146.97" y="466.52" width="6.15" height="6.15" fill="#cd4a76"/><rect x="153.12" y="466.52" width="6.15" height="6.15" fill="#d7566c"/><rect x="159.27" y="466.52" width="6.15" height="6.15" fill="#e16462"/><rect x="165.42" y="466.52" width="6.15" height="6.15" fill="#eb7655"/><rect x="171.56" y="466.52" width="6.15" height="6.15" fill="#f58b47"/><rect x="177.71" y="466.52" width="6.15" height="6.15" fill="#fa9c3c"/><rect x="183.86" y="466.52" width="6.15" height="6.15" fill="#fdab33"/><rect x="190.01" y="466.52" width="6.15" height="6.15" fill="#fdb52e"/><rect x="196.16" y="466.52" width="6.15" height="6.15" fill="#febe2a"/><rect x="202.31" y="466.52" width="6.15" height="6.15" fill="#fdc328"/><rect x="208.46" y="466.52" width="6.15" height="6.15" fill="#fdc827"/><rect x="214.60" y="466.52" width="6.15" height="6.15" fill="#fcce25"/><rect x="220.75" y="466.52" width="6.15" height="6.15" fill="#fbd724"/><rect x="226.90" y="466.52" width="202.90" height="6.15" fill="#f6e826"/><rect x="429.80" y="466.52" width="6.15" height="6.15" fill="#fdca26"/><rect x="435.95" y="466.52" width="6.15" height="6.15" fill="#febe2a"/><rect x="442.10" y="466.52" width="6.15" height="6.15" fill="#fdb42f"/><rect x="448.25" y="466.52" width="6.15" height="6.15" fill="#fca636"/><rect x="454.40" y="466.52" width="6.15" height="6.15" fill="#f89540"/><rect x="460.54" y="466.52" width="6.15" height="6.15" fill="#ef7e50"/><rect x="466.69" y="466.52" width="6.15" height="6.15" fill="#e16462"/><rect x="472.84" y="466.52" width="6.15" height="6.15" fill="#d6556d"/><rect x="478.99" y="466.52" width="6.15" height="6.15" fill="#c6417d"/><rect x="485.14" y="466.52" width="6.15" height="6.15" fill="#b6308b"/><rect x="491.29" y="466.52" width="6.15" height="6.15" fill="#a11b9b"/><rect x="497.43" y="466.52" width="6.15" height="6.15" fill="#7e03a8"/><rect x="503.58" y="466.52" width="6.15" height="6.15" fill="#6100a7"/><rect x="509.73" y="466.52" width="6.15" height="6.15" fill="#4e02a2"/><rect x="515.88" y="466.52" width="6.15" height="6.15" fill="#3c049b"/><rect x="522.03" y="466.52" width="6.15" height="6.15" fill="#310597"/><rect x="528.18" y="466.52" width="6.15" height="6.15" fill="#260591"/><rect x="67.04" y="472.67" width="6.15" height="6.15" fill="#20068f"/><rect x="73.19" y="472.67" width="6.15" height="6.15" fill="#2a0593"/><rect x="79.34" y="472.67" width="6.15" height="6.15" fill="#350498"/><rect x="85.48" y="472.67" width="6.15" height="6.15" fill="#3f049c"/><rect x="91.63" y="472.67" width="6.15" height="6.15" fill="#4903a0"/><rect x="97.78" y="472.67" width="6.15" height="6.15" fill="#5901a5"/><rect x="103.93" y="472.67" width="6.15" height="6.15" fill="#6a00a8"/><rect x="110.08" y="472.67" width="6.15" height="6.15" fill="#7a02a8"/><rect x="116.23" y="472.67" width="6.15" height="6.15" fill="#8808a6"/><rect x="122.38" y="472.67" width="6.15" height="6.15" fill="#9613a1"/><rect x="128.52" y="472.67" width="6.15" height="6.15" fill="#a31e9a"/><rect x="134.67" y="472.67" width="6.15" height="6.15" fill="#b52f8c"/><rect x="140.82" y="472.67" width="6.15" height="6.15" fill="#c33d80"/><rect x="146.97" y="472.67" width="6.15" height="6.15" fill="#cd4a76"/><rect x="153.12" y="472.67" width="6.15" height="6.15" fill="#d9586a"/><rect x="159.27" y="472.67" width="6.15" height="6.15" fill="#e3685f"/><rect x="165.42" y="472.67" width="6.15" height="6.15" fill="#ed7a52"/><rect x="171.56" y="472.67" width="6.15" height="6.15" fill="#f68f44"/><rect x="177.71" y="472.67" width="6.15" height="6.15" fill="#fba139"/><rect x="183.86" y="472.67" width="6.15" height="6.15" fill="#fdae32"/><rect x="190.01" y="472.67" width="6.15" height="6.15" fill="#feb72d"/><rect x="196.16" y="472.67" width="6.15" height="6.15" fill="#fec029"/><rect x="202.31" y="472.67" width="6.15" height="6.15" fill="#fdc627"/><rect x="208.46" y="472.67" width="6.15" height="6.15" fill="#fdcb26"/><rect x="214.60" y="472.67" width="6.15" height="6.15" fill="#fcd025"/><rect x="220.75" y="472.67" width="6.15" height="6.15" fill="#fbd724"/><rect x="226.90" y="472.67" width="202.90" height="6.15" fill="#f6e826"/><rect x="429.80" y="472.67" width="6.15" height="6.15" fill="#fdca26"/><rect x="435.95" y="472.67" width="6.15" height="6.15" fill="#febe2a"/><rect x="442.10" y="472.67" width="6.15" height="6.15" fill="#fdb42f"/><rect x="448.25" y="472.67" width="6.15" height="6.15" fill="#fca636"/><rect x="454.40" y="472.67" width="6.15" height="6.15" fill="#f89540"/><rect x="460.54" y="472.67" width="6.15" height="6.15" fill="#ef7e50"/><rect x="466.69" y="472.67" width="6.15" height="6.15" fill="#e16462"/><rect x="472.84" y="472.67" width="6.15" height="6.15" fill="#d6556d"/><rect x="478.99" y="472.67" width="6.15" height="6.15" fill="#c6417d"/><rect x="485.14" y="472.67" width="6.15" height="6.15" fill="#b6308b"/><rect x="491.29" y="472.67" width="6.15" height="6.15" fill="#a11b9b"/><rect x="497.43" y="472.67" width="6.15" height="6.15" fill="#7e03a8"/><rect x="503.58" y="472.67" width="6.15" height="6.15" fill="#5e01a6"/><rect x="509.73" y="472.67" width="6.15" height="6.15" fill="#4903a0"/><rect x="515.88" y="472.67" width="6.15" height="6.15" fill="#3a049a"/><rect x="522.03" y="472.67" width="6.15" height="6.15" fill="#310597"/><rect x="67.04" y="478.82" width="6.15" height="6.15" fill="#20068f"/><rect x="73.19" y="478.82" width="6.15" height="6.15" fill="#2a0593"/><rect x="79.34" y="478.82" width="6.15" height="6.15" fill="#310597"/><rect x="85.48" y="478.82" width="6.15" height="6.15" fill="#3e049c"/><rect x="91.63" y="478.82" width="6.15" height="6.15" fill="#48039f"/><rect x="97.78" y="478.82" width="6.15" height="6.15" fill="#5901a5"/><rect x="103.93" y="478.82" width="6.15" height="6.15" fill="#6a00a8"/><rect x="110.08" y="478.82" width="6.15" height="6.15" fill="#7a02a8"/><rect x="116.23" y="478.82" width="6.15" height="6.15" fill="#8808a6"/><rect x="122.38" y="478.82" width="6.15" height="6.15" fill="#9814a0"/><rect x="128.52" y="478.82" width="6.15" height="6.15" fill="#a51f99"/><rect x="134.67" y="478.82" width="6.15" height="6.15" fill="#b52f8c"/><rect x="140.82" y="478.82" width="6.15" height="6.15" fill="#c23c81"/><rect x="146.97" y="478.82" width="6.15" height="6.15" fill="#ce4b75"/><rect x="153.12" y="478.82" width="6.15" height="6.15" fill="#da5a6a"/><rect x="159.27" y="478.82" width="6.15" height="6.15" fill="#e56a5d"/><rect x="165.42" y="478.82" width="6.15" height="6.15" fill="#ef7e50"/><rect x="171.56" y="478.82" width="6.15" height="6.15" fill="#f79342"/><rect x="177.71" y="478.82" width="6.15" height="6.15" fill="#fca338"/><rect x="183.86" y="478.82" width="6.15" height="6.15" fill="#fdb130"/><rect x="190.01" y="478.82" width="6.15" height="6.15" fill="#feba2c"/><rect x="196.16" y="478.82" width="6.15" height="6.15" fill="#fdc328"/><rect x="202.31" y="478.82" width="6.15" height="6.15" fill="#fdca26"/><rect x="208.46" y="478.82" width="6.15" height="6.15" fill="#fcce25"/><rect x="214.60" y="478.82" width="6.15" height="6.15" fill="#fbd324"/><rect x="220.75" y="478.82" width="6.15" height="6.15" fill="#fbd724"/><rect x="226.90" y="478.82" width="202.90" height="6.15" fill="#f6e826"/><rect x="429.80" y="478.82" width="6.15" height="6.15" fill="#fdca26"/><rect x="435.95" y="478.82" width="6.15" height="6.15" fill="#febe2a"/><rect x="442.10" y="478.82" width="6.15" height="6.15" fill="#fdb42f"/><rect x="448.25" y="478.82" width="6.15" height="6.15" fill="#fca636"/><rect x="454.40" y="478.82" width="6.15" height="6.15" fill="#f89540"/><rect x="460.54" y="478.82" width="6.15" height="6.15" fill="#ef7e50"/><rect x="466.69" y="478.82" width="6.15" height="6.15" fill="#e16462"/><rect x="472.84" y="478.82" width="6.15" height="6.15" fill="#d6556d"/><rect x="478.99" y="478.82" width="6.15" height="6.15" fill="#c6417d"/><rect x="485.14" y="478.82" width="6.15" height="6.15" fill="#b6308b"/><rect x="491.29" y="478.82" width="6.15" height="6.15" fill="#a11b9b"/><rect x="497.43" y="478.82" width="6.15" height="6.15" fill="#7e03a8"/><rect x="503.58" y="478.82" width="6.15" height="6.15" fill="#5b01a5"/><rect x="509.73" y="478.82" width="6.15" height="6.15" fill="#43039e"/><rect x="515.88" y="478.82" width="6.15" height="6.15" fill="#370499"/><rect x="522.03" y="478.82" width="6.15" height="6.15" fill="#310597"/><rect x="67.04" y="484.96" width="6.15" height="6.15" fill="#20068f"/><rect x="73.19" y="484.96" width="6.15" height="6.15" fill="#280592"/><rect x="79.34" y="484.96" width="6.15" height="6.15" fill="#2f0596"/><rect x="85.48" y="484.96" width="6.15" height="6.15" fill="#3c049b"/><rect x="91.63" y="484.96" width="6.15" height="6.15" fill="#48039f"/><rect x="97.78" y="484.96" width="6.15" height="6.15" fill="#5901a5"/><rect x="103.93" y="484.96" width="6.15" height="6.15" fill="#6a00a8"/><rect x="110.08" y="484.96" width="6.15" height="6.15" fill="#7a02a8"/><rect x="116.23" y="484.96" width="6.15" height="6.15" fill="#8808a6"/><rect x="122.38" y="484.96" width="6.15" height="6.15" fill="#9814a0"/><rect x="128.52" y="484.96" width="6.15" height="6.15" fill="#a72197"/><rect x="134.67" y="484.96" width="6.15" height="6.15" fill="#b52f8c"/><rect x="140.82" y="484.96" width="6.15" height="6.15" fill="#c13b82"/><rect x="146.97" y="484.96" width="6.15" height="6.15" fill="#ce4b75"/><rect x="153.12" y="484.96" width="6.15" height="6.15" fill="#db5c68"/><rect x="159.27" y="484.96" width="6.15" height="6.15" fill="#e66c5c"/><rect x="165.42" y="484.96" width="6.15" height="6.15" fill="#f1814d"/><rect x="171.56" y="484.96" width="6.15" height="6.15" fill="#f9973f"/><rect x="177.71" y="484.96" width="6.15" height="6.15" fill="#fca835"/><rect x="183.86" y="484.96" width="6.15" height="6.15" fill="#fdb42f"/><rect x="190.01" y="484.96" width="6.15" height="6.15" fill="#febd2a"/><rect x="196.16" y="484.96" width="6.15" height="6.15" fill="#fdc527"/><rect x="202.31" y="484.96" width="6.15" height="6.15" fill="#fccd25"/><rect x="208.46" y="484.96" width="6.15" height="6.15" fill="#fcd225"/><rect x="214.60" y="484.96" width="6.15" height="6.15" fill="#fbd724"/><rect x="220.75" y="484.96" width="209.05" height="6.15" fill="#f6e826"/><rect x="429.80" y="484.96" width="6.15" height="6.15" fill="#fdca26"/><rect x="435.95" y="484.96" width="6.15" height="6.15" fill="#febe2a"/><rect x="442.10" y="484.96" width="6.15" height="6.15" fill="#fdb42f"/><rect x="448.25" y="484.96" width="6.15" height="6.15" fill="#fca636"/><rect x="454.40" y="484.96" width="6.15" height="6.15" fill="#f89540"/><rect x="460.54" y="484.96" width="6.15" height="6.15" fill="#ef7e50"/><rect x="466.69" y="484.96" width="6.15" height="6.15" fill="#e16462"/><rect x="472.84" y="484.96" width="6.15" height="6.15" fill="#d6556d"/><rect x="478.99" y="484.96" width="6.15" height="6.15" fill="#c6417d"/><rect x="485.14" y="484.96" width="6.15" height="6.15" fill="#b6308b"/><rect x="491.29" y="484.96" width="6.15" height="6.15" fill="#a11b9b"/><rect x="497.43" y="484.96" width="6.15" height="6.15" fill="#7e03a8"/><rect x="503.58" y="484.96" width="6.15" height="6.15" fill="#5901a5"/><rect x="509.73" y="484.96" width="6.15" height="6.15" fill="#3e049c"/><rect x="515.88" y="484.96" width="6.15" height="6.15" fill="#350498"/><rect x="67.04" y="491.11" width="6.15" height="6.15" fill="#20068f"/><rect x="73.19" y="491.11" width="6.15" height="6.15" fill="#280592"/><rect x="79.34" y="491.11" width="6.15" height="6.15" fill="#2e0595"/><rect x="85.48" y="491.11" width="6.15" height="6.15" fill="#3a049a"/><rect x="91.63" y="491.11" width="6.15" height="6.15" fill="#46039f"/><rect x="97.78" y="491.11" width="6.15" height="6.15" fill="#5801a4"/><rect x="103.93" y="491.11" width="6.15" height="6.15" fill="#6a00a8"/><rect x="110.08" y="491.11" width="6.15" height="6.15" fill="#7a02a8"/><rect x="116.23" y="491.11" width="6.15" height="6.15" fill="#8808a6"/><rect x="122.38" y="491.11" width="6.15" height="6.15" fill="#99159f"/><rect x="128.52" y="491.11" width="6.15" height="6.15" fill="#a82296"/><rect x="134.67" y="491.11" width="6.15" height="6.15" fill="#b52f8c"/><rect x="140.82" y="491.11" width="6.15" height="6.15" fill="#c03a83"/><rect x="146.97" y="491.11" width="6.15" height="6.15" fill="#ce4b75"/><rect x="153.12" y="491.11" width="6.15" height="6.15" fill="#dc5d67"/><rect x="159.27" y="491.11" width="6.15" height="6.15" fill="#e87059"/><rect x="165.42" y="491.11" width="6.15" height="6.15" fill="#f2844b"/><rect x="171.56" y="491.11" width="6.15" height="6.15" fill="#fa9b3d"/><rect x="177.71" y="491.11" width="6.15" height="6.15" fill="#fdab33"/><rect x="183.86" y="491.11" width="6.15" height="6.15" fill="#feb72d"/><rect x="190.01" y="491.11" width="6.15" height="6.15" fill="#febe2a"/><rect x="196.16" y="491.11" width="6.15" height="6.15" fill="#fdc827"/><rect x="202.31" y="491.11" width="6.15" height="6.15" fill="#fcd025"/><rect x="208.46" y="491.11" width="6.15" height="6.15" fill="#fbd524"/><rect x="214.60" y="491.11" width="6.15" height="6.15" fill="#fbd724"/><rect x="220.75" y="491.11" width="209.05" height="6.15" fill="#f6e826"/><rect x="429.80" y="491.11" width="6.15" height="6.15" fill="#fdca26"/><rect x="435.95" y="491.11" width="6.15" height="6.15" fill="#febe2a"/><rect x="442.10" y="491.11" width="6.15" height="6.15" fill="#fdb42f"/><rect x="448.25" y="491.11" width="6.15" height="6.15" fill="#fca636"/><rect x="454.40" y="491.11" width="6.15" height="6.15" fill="#f89540"/><rect x="460.54" y="491.11" width="6.15" height="6.15" fill="#ef7e50"/><rect x="466.69" y="491.11" width="6.15" height="6.15" fill="#e16462"/><rect x="472.84" y="491.11" width="6.15" height="6.15" fill="#d6556d"/><rect x="478.99" y="491.11" width="6.15" height="6.15" fill="#c6417d"/><rect x="485.14" y="491.11" width="6.15" height="6.15" fill="#b6308b"/><rect x="491.29" y="491.11" width="6.15" height="6.15" fill="#a11b9b"/><rect x="497.43" y="491.11" width="6.15" height="6.15" fill="#7e03a8"/><rect x="503.58" y="491.11" width="6.15" height="6.15" fill="#5601a4"/><rect x="509.73" y="491.11" width="6.15" height="6.15" fill="#370499"/><rect x="67.04" y="497.25" width="6.15" height="6.15" fill="#20068f"/><rect x="73.19" y="497.25" width="6.15" height="6.15" fill="#260591"/><rect x="79.34" y="497.25" width="6.15" height="6.15" fill="#2c0594"/><rect x="85.48" y="497.25" width="6.15" height="6.15" fill="#38049a"/><rect x="91.63" y="497.25" width="6.15" height="6.15" fill="#44039e"/><rect x="97.78" y="497.25" width="6.15" height="6.15" fill="#5801a4"/><rect x="103.93" y="497.25" width="6.15" height="6.15" fill="#6a00a8"/><rect x="110.08" y="497.25" width="6.15" height="6.15" fill="#7a02a8"/><rect x="116.23" y="497.25" width="6.15" height="6.15" fill="#8808a6"/><rect x="122.38" y="497.25" width="6.15" height="6.15" fill="#9a169f"/><rect x="128.52" y="497.25" width="6.15" height="6.15" fill="#ab2494"/><rect x="134.67" y="497.25" width="6.15" height="6.15" fill="#b52f8c"/><rect x="140.82" y="497.25" width="6.15" height="6.15" fill="#bf3984"/><rect x="146.97" y="497.25" width="6.15" height="6.15" fill="#cf4c74"/><rect x="153.12" y="497.25" width="6.15" height="6.15" fill="#de5f65"/><rect x="159.27" y="497.25" width="6.15" height="6.15" fill="#e97257"/><rect x="165.42" y="497.25" width="6.15" height="6.15" fill="#f48849"/><rect x="171.56" y="497.25" width="6.15" height="6.15" fill="#fb9f3a"/><rect x="177.71" y="497.25" width="6.15" height="6.15" fill="#fdae32"/><rect x="183.86" y="497.25" width="6.15" height="6.15" fill="#feba2c"/><rect x="190.01" y="497.25" width="6.15" height="6.15" fill="#fdc229"/><rect x="196.16" y="497.25" width="6.15" height="6.15" fill="#fdca26"/><rect x="202.31" y="497.25" width="6.15" height="6.15" fill="#fcd225"/><rect x="208.46" y="497.25" width="12.30" height="6.15" fill="#fbd724"/><rect x="220.75" y="497.25" width="209.05" height="6.15" fill="#f6e826"/><rect x="429.80" y="497.25" width="6.15" height="6.15" fill="#fdca26"/><rect x="435.95" y="497.25" width="6.15" height="6.15" fill="#febe2a"/><rect x="442.10" y="497.25" width="6.15" height="6.15" fill="#fdb42f"/><rect x="448.25" y="497.25" width="6.15" height="6.15" fill="#fca636"/><rect x="454.40" y="497.25" width="6.15" height="6.15" fill="#f89540"/><rect x="460.54" y="497.25" width="6.15" height="6.15" fill="#ef7e50"/><rect x="466.69" y="497.25" width="6.15" height="6.15" fill="#e16462"/><rect x="472.84" y="497.25" width="6.15" height="6.15" fill="#d6556d"/><rect x="478.99" y="497.25" width="6.15" height="6.15" fill="#c6417d"/><rect x="485.14" y="497.25" width="6.15" height="6.15" fill="#b6308b"/><rect x="491.29" y="497.25" width="6.15" height="6.15" fill="#a11b9b"/><rect x="497.43" y="497.25" width="6.15" height="6.15" fill="#7e03a8"/><rect x="503.58" y="497.25" width="6.15" height="6.15" fill="#5302a3"/><rect x="509.73" y="497.25" width="6.15" height="6.15" fill="#310597"/><rect x="67.04" y="503.40" width="6.15" height="6.15" fill="#220690"/><rect x="73.19" y="503.40" width="6.15" height="6.15" fill="#260591"/><rect x="79.34" y="503.40" width="6.15" height="6.15" fill="#2c0594"/><rect x="85.48" y="503.40" width="6.15" height="6.15" fill="#370499"/><rect x="91.63" y="503.40" width="6.15" height="6.15" fill="#44039e"/><rect x="97.78" y="503.40" width="6.15" height="6.15" fill="#5601a4"/><rect x="103.93" y="503.40" width="6.15" height="6.15" fill="#6a00a8"/><rect x="110.08" y="503.40" width="6.15" height="6.15" fill="#7a02a8"/><rect x="116.23" y="503.40" width="6.15" height="6.15" fill="#8808a6"/><rect x="122.38" y="503.40" width="6.15" height="6.15" fill="#9a169f"/><rect x="128.52" y="503.40" width="6.15" height="6.15" fill="#ab2494"/><rect x="134.67" y="503.40" width="6.15" height="6.15" fill="#b52f8c"/><rect x="140.82" y="503.40" width="6.15" height="6.15" fill="#c03a83"/><rect x="146.97" y="503.40" width="6.15" height="6.15" fill="#d04d73"/><rect x="153.12" y="503.40" width="6.15" height="6.15" fill="#de6164"/><rect x="159.27" y="503.40" width="6.15" height="6.15" fill="#eb7556"/><rect x="165.42" y="503.40" width="6.15" height="6.15" fill="#f58b47"/><rect x="171.56" y="503.40" width="6.15" height="6.15" fill="#fba238"/><rect x="177.71" y="503.40" width="6.15" height="6.15" fill="#fdaf31"/><rect x="183.86" y="503.40" width="6.15" height="6.15" fill="#febb2b"/><rect x="190.01" y="503.40" width="6.15" height="6.15" fill="#fdc527"/><rect x="196.16" y="503.40" width="6.15" height="6.15" fill="#fccd25"/><rect x="202.31" y="503.40" width="6.15" height="6.15" fill="#fbd524"/><rect x="208.46" y="503.40" width="12.30" height="6.15" fill="#fbd724"/><rect x="220.75" y="503.40" width="209.05" height="6.15" fill="#f6e826"/><rect x="429.80" y="503.40" width="6.15" height="6.15" fill="#fdcb26"/><rect x="435.95" y="503.40" width="6.15" height="6.15" fill="#febe2a"/><rect x="442.10" y="503.40" width="6.15" height="6.15" fill="#fdb130"/><rect x="448.25" y="503.40" width="6.15" height="6.15" fill="#fca338"/><rect x="454.40" y="503.40" width="6.15" height="6.15" fill="#f79143"/><rect x="460.54" y="503.40" width="6.15" height="6.15" fill="#ed7a52"/><rect x="466.69" y="503.40" width="6.15" height="6.15" fill="#e06363"/><rect x="472.84" y="503.40" width="6.15" height="6.15" fill="#d5546e"/><rect x="478.99" y="503.40" width="6.15" height="6.15" fill="#c5407e"/><rect x="485.14" y="503.40" width="6.15" height="6.15" fill="#b22b8f"/><rect x="491.29" y="503.40" width="6.15" height="6.15" fill="#9a169f"/><rect x="497.43" y="503.40" width="6.15" height="6.15" fill="#7501a8"/><rect x="503.58" y="503.40" width="6.15" height="6.15" fill="#5002a2"/><rect x="509.73" y="503.40" width="6.15" height="6.15" fill="#2f0596"/><rect x="67.04" y="509.55" width="6.15" height="6.15" fill="#220690"/><rect x="73.19" y="509.55" width="6.15" height="6.15" fill="#280592"/><rect x="79.34" y="509.55" width="6.15" height="6.15" fill="#2c0594"/><rect x="85.48" y="509.55" width="6.15" height="6.15" fill="#350498"/><rect x="91.63" y="509.55" width="6.15" height="6.15" fill="#43039e"/><rect x="97.78" y="509.55" width="6.15" height="6.15" fill="#5601a4"/><rect x="103.93" y="509.55" width="6.15" height="6.15" fill="#6a00a8"/><rect x="110.08" y="509.55" width="6.15" height="6.15" fill="#7a02a8"/><rect x="116.23" y="509.55" width="6.15" height="6.15" fill="#8808a6"/><rect x="122.38" y="509.55" width="6.15" height="6.15" fill="#9a169f"/><rect x="128.52" y="509.55" width="6.15" height="6.15" fill="#ab2494"/><rect x="134.67" y="509.55" width="6.15" height="6.15" fill="#b6308b"/><rect x="140.82" y="509.55" width="6.15" height="6.15" fill="#c23c81"/><rect x="146.97" y="509.55" width="6.15" height="6.15" fill="#d24f71"/><rect x="153.12" y="509.55" width="6.15" height="6.15" fill="#e06363"/><rect x="159.27" y="509.55" width="6.15" height="6.15" fill="#ec7754"/><rect x="165.42" y="509.55" width="6.15" height="6.15" fill="#f68d45"/><rect x="171.56" y="509.55" width="6.15" height="6.15" fill="#fca537"/><rect x="177.71" y="509.55" width="6.15" height="6.15" fill="#fdb130"/><rect x="183.86" y="509.55" width="6.15" height="6.15" fill="#febd2a"/><rect x="190.01" y="509.55" width="6.15" height="6.15" fill="#fdc627"/><rect x="196.16" y="509.55" width="6.15" height="6.15" fill="#fcd025"/><rect x="202.31" y="509.55" width="18.45" height="6.15" fill="#fbd724"/><rect x="220.75" y="509.55" width="209.05" height="6.15" fill="#f6e826"/><rect x="429.80" y="509.55" width="6.15" height="6.15" fill="#fccd25"/><rect x="435.95" y="509.55" width="6.15" height="6.15" fill="#febd2a"/><rect x="442.10" y="509.55" width="6.15" height="6.15" fill="#fdae32"/><rect x="448.25" y="509.55" width="6.15" height="6.15" fill="#fb9f3a"/><rect x="454.40" y="509.55" width="6.15" height="6.15" fill="#f68d45"/><rect x="460.54" y="509.55" width="6.15" height="6.15" fill="#ec7754"/><rect x="466.69" y="509.55" width="6.15" height="6.15" fill="#de6164"/><rect x="472.84" y="509.55" width="6.15" height="6.15" fill="#d45270"/><rect x="478.99" y="509.55" width="6.15" height="6.15" fill="#c33d80"/><rect x="485.14" y="509.55" width="6.15" height="6.15" fill="#ae2892"/><rect x="491.29" y="509.55" width="6.15" height="6.15" fill="#9410a2"/><rect x="497.43" y="509.55" width="6.15" height="6.15" fill="#6e00a8"/><rect x="503.58" y="509.55" width="6.15" height="6.15" fill="#4b03a1"/><rect x="509.73" y="509.55" width="6.15" height="6.15" fill="#2e0595"/><rect x="60.89" y="515.69" width="6.15" height="6.15" fill="#20068f"/><rect x="67.04" y="515.69" width="6.15" height="6.15" fill="#220690"/><rect x="73.19" y="515.69" width="6.15" height="6.15" fill="#280592"/><rect x="79.34" y="515.69" width="6.15" height="6.15" fill="#2c0594"/><rect x="85.48" y="515.69" width="6.15" height="6.15" fill="#350498"/><rect x="91.63" y="515.69" width="6.15" height="6.15" fill="#41049d"/><rect x="97.78" y="515.69" width="6.15" height="6.15" fill="#5502a4"/><rect x="103.93" y="515.69" width="6.15" height="6.15" fill="#6a00a8"/><rect x="110.08" y="515.69" width="6.15" height="6.15" fill="#7a02a8"/><rect x="116.23" y="515.69" width="6.15" height="6.15" fill="#8808a6"/><rect x="122.38" y="515.69" width="6.15" height="6.15" fill="#9a169f"/><rect x="128.52" y="515.69" width="6.15" height="6.15" fill="#ab2494"/><rect x="134.67" y="515.69" width="6.15" height="6.15" fill="#b7318a"/><rect x="140.82" y="515.69" width="6.15" height="6.15" fill="#c43e7f"/><rect x="146.97" y="515.69" width="6.15" height="6.15" fill="#d45270"/><rect x="153.12" y="515.69" width="6.15" height="6.15" fill="#e16462"/><rect x="159.27" y="515.69" width="6.15" height="6.15" fill="#ed7953"/><rect x="165.42" y="515.69" width="6.15" height="6.15" fill="#f79044"/><rect x="171.56" y="515.69" width="6.15" height="6.15" fill="#fca835"/><rect x="177.71" y="515.69" width="6.15" height="6.15" fill="#fdb22f"/><rect x="183.86" y="515.69" width="6.15" height="6.15" fill="#febe2a"/><rect x="190.01" y="515.69" width="6.15" height="6.15" fill="#fdca26"/><rect x="196.16" y="515.69" width="6.15" height="6.15" fill="#fbd324"/><rect x="202.31" y="515.69" width="18.45" height="6.15" fill="#fbd724"/><rect x="220.75" y="515.69" width="209.05" height="6.15" fill="#f6e826"/><rect x="429.80" y="515.69" width="6.15" height="6.15" fill="#fcce25"/><rect x="435.95" y="515.69" width="6.15" height="6.15" fill="#febd2a"/><rect x="442.10" y="515.69" width="6.15" height="6.15" fill="#fdac33"/><rect x="448.25" y="515.69" width="6.15" height="6.15" fill="#fa9c3c"/><rect x="454.40" y="515.69" width="6.15" height="6.15" fill="#f58b47"/><rect x="460.54" y="515.69" width="6.15" height="6.15" fill="#ea7457"/><rect x="466.69" y="515.69" width="6.15" height="6.15" fill="#de5f65"/><rect x="472.84" y="515.69" width="6.15" height="6.15" fill="#d35171"/><rect x="478.99" y="515.69" width="6.15" height="6.15" fill="#c23c81"/><rect x="485.14" y="515.69" width="6.15" height="6.15" fill="#aa2395"/><rect x="491.29" y="515.69" width="6.15" height="6.15" fill="#8d0ba5"/><rect x="497.43" y="515.69" width="6.15" height="6.15" fill="#6600a7"/><rect x="503.58" y="515.69" width="6.15" height="6.15" fill="#46039f"/><rect x="509.73" y="515.69" width="6.15" height="6.15" fill="#2a0593"/><rect x="60.89" y="521.84" width="6.15" height="6.15" fill="#20068f"/><rect x="67.04" y="521.84" width="6.15" height="6.15" fill="#240691"/><rect x="73.19" y="521.84" width="6.15" height="6.15" fill="#280592"/><rect x="79.34" y="521.84" width="6.15" height="6.15" fill="#2e0595"/><rect x="85.48" y="521.84" width="6.15" height="6.15" fill="#330597"/><rect x="91.63" y="521.84" width="6.15" height="6.15" fill="#3f049c"/><rect x="97.78" y="521.84" width="6.15" height="6.15" fill="#5302a3"/><rect x="103.93" y="521.84" width="6.15" height="6.15" fill="#6a00a8"/><rect x="110.08" y="521.84" width="6.15" height="6.15" fill="#7a02a8"/><rect x="116.23" y="521.84" width="6.15" height="6.15" fill="#8808a6"/><rect x="122.38" y="521.84" width="6.15" height="6.15" fill="#9a169f"/><rect x="128.52" y="521.84" width="6.15" height="6.15" fill="#ab2494"/><rect x="134.67" y="521.84" width="6.15" height="6.15" fill="#b7318a"/><rect x="140.82" y="521.84" width="6.15" height="6.15" fill="#c5407e"/><rect x="146.97" y="521.84" width="6.15" height="6.15" fill="#d5536f"/><rect x="153.12" y="521.84" width="6.15" height="6.15" fill="#e26660"/><rect x="159.27" y="521.84" width="6.15" height="6.15" fill="#ee7b51"/><rect x="165.42" y="521.84" width="6.15" height="6.15" fill="#f79342"/><rect x="171.56" y="521.84" width="6.15" height="6.15" fill="#fdab33"/><rect x="177.71" y="521.84" width="6.15" height="6.15" fill="#fdb52e"/><rect x="183.86" y="521.84" width="6.15" height="6.15" fill="#fec029"/><rect x="190.01" y="521.84" width="6.15" height="6.15" fill="#fdcb26"/><rect x="196.16" y="521.84" width="24.59" height="6.15" fill="#fbd724"/><rect x="220.75" y="521.84" width="209.05" height="6.15" fill="#f6e826"/><rect x="429.80" y="521.84" width="6.15" height="6.15" fill="#fcd025"/><rect x="435.95" y="521.84" width="6.15" height="6.15" fill="#febb2b"/><rect x="442.10" y="521.84" width="6.15" height="6.15" fill="#fca934"/><rect x="448.25" y="521.84" width="6.15" height="6.15" fill="#f9983e"/><rect x="454.40" y="521.84" width="6.15" height="6.15" fill="#f3874a"/><rect x="460.54" y="521.84" width="6.15" height="6.15" fill="#e97158"/><rect x="466.69" y="521.84" width="6.15" height="6.15" fill="#dd5e66"/><rect x="472.84" y="521.84" width="6.15" height="6.15" fill="#d14e72"/><rect x="478.99" y="521.84" width="6.15" height="6.15" fill="#c03a83"/><rect x="485.14" y="521.84" width="6.15" height="6.15" fill="#a62098"/><rect x="491.29" y="521.84" width="6.15" height="6.15" fill="#8606a6"/><rect x="497.43" y="521.84" width="6.15" height="6.15" fill="#5c01a6"/><rect x="503.58" y="521.84" width="6.15" height="6.15" fill="#43039e"/><rect x="509.73" y="521.84" width="6.15" height="6.15" fill="#280592"/><rect x="60.89" y="527.99" width="6.15" height="6.15" fill="#20068f"/><rect x="67.04" y="527.99" width="6.15" height="6.15" fill="#240691"/><rect x="73.19" y="527.99" width="6.15" height="6.15" fill="#2a0593"/><rect x="79.34" y="527.99" width="6.15" height="6.15" fill="#2e0595"/><rect x="85.48" y="527.99" width="6.15" height="6.15" fill="#310597"/><rect x="91.63" y="527.99" width="6.15" height="6.15" fill="#3f049c"/><rect x="97.78" y="527.99" width="6.15" height="6.15" fill="#5102a3"/><rect x="103.93" y="527.99" width="6.15" height="6.15" fill="#6a00a8"/><rect x="110.08" y="527.99" width="6.15" height="6.15" fill="#7a02a8"/><rect x="116.23" y="527.99" width="6.15" height="6.15" fill="#8808a6"/><rect x="122.38" y="527.99" width="6.15" height="6.15" fill="#9a169f"/><rect x="128.52" y="527.99" width="6.15" height="6.15" fill="#ab2494"/><rect x="134.67" y="527.99" width="6.15" height="6.15" fill="#b83289"/><rect x="140.82" y="527.99" width="6.15" height="6.15" fill="#c7427c"/><rect x="146.97" y="527.99" width="6.15" height="6.15" fill="#d6556d"/><rect x="153.12" y="527.99" width="6.15" height="6.15" fill="#e4695e"/><rect x="159.27" y="527.99" width="6.15" height="6.15" fill="#ef7e50"/><rect x="165.42" y="527.99" width="6.15" height="6.15" fill="#f89540"/><rect x="171.56" y="527.99" width="6.15" height="6.15" fill="#fdae32"/><rect x="177.71" y="527.99" width="6.15" height="6.15" fill="#feb72d"/><rect x="183.86" y="527.99" width="6.15" height="6.15" fill="#fec029"/><rect x="190.01" y="527.99" width="6.15" height="6.15" fill="#fcce25"/><rect x="196.16" y="527.99" width="24.59" height="6.15" fill="#fbd724"/><rect x="220.75" y="527.99" width="209.05" height="6.15" fill="#f6e826"/><rect x="429.80" y="527.99" width="6.15" height="6.15" fill="#fcd225"/><rect x="435.95" y="527.99" width="6.15" height="6.15" fill="#febb2b"/><rect x="442.10" y="527.99" width="6.15" height="6.15" fill="#fca636"/><rect x="448.25" y="527.99" width="6.15" height="6.15" fill="#f89540"/><rect x="454.40" y="527.99" width="6.15" height="6.15" fill="#f2844b"/><rect x="460.54" y="527.99" width="6.15" height="6.15" fill="#e76f5a"/><rect x="466.69" y="527.99" width="6.15" height="6.15" fill="#db5c68"/><rect x="472.84" y="527.99" width="6.15" height="6.15" fill="#d04d73"/><rect x="478.99" y="527.99" width="6.15" height="6.15" fill="#bf3984"/><rect x="485.14" y="527.99" width="6.15" height="6.15" fill="#a11b9b"/><rect x="491.29" y="527.99" width="6.15" height="6.15" fill="#7e03a8"/><rect x="497.43" y="527.99" width="6.15" height="6.15" fill="#5302a3"/><rect x="503.58" y="527.99" width="6.15" height="6.15" fill="#3e049c"/><rect x="509.73" y="527.99" width="6.15" height="6.15" fill="#260591"/><rect x="60.89" y="534.13" width="6.15" height="6.15" fill="#220690"/><rect x="67.04" y="534.13" width="6.15" height="6.15" fill="#260591"/><rect x="73.19" y="534.13" width="6.15" height="6.15" fill="#2a0593"/><rect x="79.34" y="534.13" width="6.15" height="6.15" fill="#2f0596"/><rect x="85.48" y="534.13" width="6.15" height="6.15" fill="#350498"/><rect x="91.63" y="534.13" width="6.15" height="6.15" fill="#43039e"/><rect x="97.78" y="534.13" width="6.15" height="6.15" fill="#5502a4"/><rect x="103.93" y="534.13" width="6.15" height="6.15" fill="#6e00a8"/><rect x="110.08" y="534.13" width="6.15" height="6.15" fill="#7d03a8"/><rect x="116.23" y="534.13" width="6.15" height="6.15" fill="#8d0ba5"/><rect x="122.38" y="534.13" width="6.15" height="6.15" fill="#9e199d"/><rect x="128.52" y="534.13" width="6.15" height="6.15" fill="#ae2892"/><rect x="134.67" y="534.13" width="6.15" height="6.15" fill="#bd3786"/><rect x="140.82" y="534.13" width="6.15" height="6.15" fill="#cc4778"/><rect x="146.97" y="534.13" width="6.15" height="6.15" fill="#da5a6a"/><rect x="153.12" y="534.13" width="6.15" height="6.15" fill="#e66c5c"/><rect x="159.27" y="534.13" width="6.15" height="6.15" fill="#f1814d"/><rect x="165.42" y="534.13" width="6.15" height="6.15" fill="#f9983e"/><rect x="171.56" y="534.13" width="6.15" height="6.15" fill="#fdb130"/><rect x="177.71" y="534.13" width="6.15" height="6.15" fill="#feb82c"/><rect x="183.86" y="534.13" width="6.15" height="6.15" fill="#fdc229"/><rect x="190.01" y="534.13" width="6.15" height="6.15" fill="#fcce25"/><rect x="196.16" y="534.13" width="18.45" height="6.15" fill="#fbd724"/><rect x="214.60" y="534.13" width="215.20" height="6.15" fill="#f6e826"/><rect x="429.80" y="534.13" width="6.15" height="6.15" fill="#fcd225"/><rect x="435.95" y="534.13" width="6.15" height="6.15" fill="#febd2a"/><rect x="442.10" y="534.13" width="6.15" height="6.15" fill="#fca934"/><rect x="448.25" y="534.13" width="6.15" height="6.15" fill="#f89540"/><rect x="454.40" y="534.13" width="6.15" height="6.15" fill="#f2844b"/><rect x="460.54" y="534.13" width="6.15" height="6.15" fill="#e76e5b"/><rect x="466.69" y="534.13" width="6.15" height="6.15" fill="#da5b69"/><rect x="472.84" y="534.13" width="6.15" height="6.15" fill="#cd4a76"/><rect x="478.99" y="534.13" width="6.15" height="6.15" fill="#bb3488"/><rect x="485.14" y="534.13" width="6.15" height="6.15" fill="#9d189d"/><rect x="491.29" y="534.13" width="6.15" height="6.15" fill="#7a02a8"/><rect x="497.43" y="534.13" width="6.15" height="6.15" fill="#5002a2"/><rect x="503.58" y="534.13" width="6.15" height="6.15" fill="#3c049b"/><rect x="509.73" y="534.13" width="6.15" height="6.15" fill="#260591"/><rect x="60.89" y="540.28" width="6.15" height="6.15" fill="#220690"/><rect x="67.04" y="540.28" width="6.15" height="6.15" fill="#260591"/><rect x="73.19" y="540.28" width="6.15" height="6.15" fill="#2c0594"/><rect x="79.34" y="540.28" width="6.15" height="6.15" fill="#2f0596"/><rect x="85.48" y="540.28" width="6.15" height="6.15" fill="#370499"/><rect x="91.63" y="540.28" width="6.15" height="6.15" fill="#46039f"/><rect x="97.78" y="540.28" width="6.15" height="6.15" fill="#5901a5"/><rect x="103.93" y="540.28" width="6.15" height="6.15" fill="#7100a8"/><rect x="110.08" y="540.28" width="6.15" height="6.15" fill="#8104a7"/><rect x="116.23" y="540.28" width="6.15" height="6.15" fill="#910ea3"/><rect x="122.38" y="540.28" width="6.15" height="6.15" fill="#a21d9a"/><rect x="128.52" y="540.28" width="6.15" height="6.15" fill="#b22b8f"/><rect x="134.67" y="540.28" width="6.15" height="6.15" fill="#c13b82"/><rect x="140.82" y="540.28" width="6.15" height="6.15" fill="#cf4c74"/><rect x="146.97" y="540.28" width="6.15" height="6.15" fill="#dd5e66"/><rect x="153.12" y="540.28" width="6.15" height="6.15" fill="#e97158"/><rect x="159.27" y="540.28" width="6.15" height="6.15" fill="#f3854b"/><rect x="165.42" y="540.28" width="6.15" height="6.15" fill="#fa9b3d"/><rect x="171.56" y="540.28" width="6.15" height="6.15" fill="#fdb52e"/><rect x="177.71" y="540.28" width="6.15" height="6.15" fill="#febb2b"/><rect x="183.86" y="540.28" width="6.15" height="6.15" fill="#fdc527"/><rect x="190.01" y="540.28" width="6.15" height="6.15" fill="#fcd025"/><rect x="196.16" y="540.28" width="18.45" height="6.15" fill="#fbd724"/><rect x="214.60" y="540.28" width="221.35" height="6.15" fill="#f6e826"/><rect x="435.95" y="540.28" width="6.15" height="6.15" fill="#febe2a"/><rect x="442.10" y="540.28" width="6.15" height="6.15" fill="#fdab33"/><rect x="448.25" y="540.28" width="6.15" height="6.15" fill="#f89540"/><rect x="454.40" y="540.28" width="6.15" height="6.15" fill="#f3854b"/><rect x="460.54" y="540.28" width="6.15" height="6.15" fill="#e76e5b"/><rect x="466.69" y="540.28" width="6.15" height="6.15" fill="#da5a6a"/><rect x="472.84" y="540.28" width="6.15" height="6.15" fill="#cc4778"/><rect x="478.99" y="540.28" width="6.15" height="6.15" fill="#b7318a"/><rect x="485.14" y="540.28" width="6.15" height="6.15" fill="#9814a0"/><rect x="491.29" y="540.28" width="6.15" height="6.15" fill="#7501a8"/><rect x="497.43" y="540.28" width="6.15" height="6.15" fill="#4c02a1"/><rect x="503.58" y="540.28" width="6.15" height="6.15" fill="#38049a"/><rect x="60.89" y="546.43" width="6.15" height="6.15" fill="#220690"/><rect x="67.04" y="546.43" width="6.15" height="6.15" fill="#280592"/><rect x="73.19" y="546.43" width="6.15" height="6.15" fill="#2c0594"/><rect x="79.34" y="546.43" width="6.15" height="6.15" fill="#310597"/><rect x="85.48" y="546.43" width="6.15" height="6.15" fill="#3a049a"/><rect x="91.63" y="546.43" width="6.15" height="6.15" fill="#4903a0"/><rect x="97.78" y="546.43" width="6.15" height="6.15" fill="#5c01a6"/><rect x="103.93" y="546.43" width="6.15" height="6.15" fill="#7201a8"/><rect x="110.08" y="546.43" width="6.15" height="6.15" fill="#8405a7"/><rect x="116.23" y="546.43" width="6.15" height="6.15" fill="#9511a1"/><rect x="122.38" y="546.43" width="6.15" height="6.15" fill="#a62098"/><rect x="128.52" y="546.43" width="6.15" height="6.15" fill="#b52f8c"/><rect x="134.67" y="546.43" width="6.15" height="6.15" fill="#c5407e"/><rect x="140.82" y="546.43" width="6.15" height="6.15" fill="#d45270"/><rect x="146.97" y="546.43" width="6.15" height="6.15" fill="#e16462"/><rect x="153.12" y="546.43" width="6.15" height="6.15" fill="#eb7556"/><rect x="159.27" y="546.43" width="6.15" height="6.15" fill="#f48948"/><rect x="165.42" y="546.43" width="6.15" height="6.15" fill="#fb9f3a"/><rect x="171.56" y="546.43" width="6.15" height="6.15" fill="#feb82c"/><rect x="177.71" y="546.43" width="6.15" height="6.15" fill="#febe2a"/><rect x="183.86" y="546.43" width="6.15" height="6.15" fill="#fdc627"/><rect x="190.01" y="546.43" width="6.15" height="6.15" fill="#fcd025"/><rect x="196.16" y="546.43" width="18.45" height="6.15" fill="#fbd724"/><rect x="214.60" y="546.43" width="221.35" height="6.15" fill="#f6e826"/><rect x="435.95" y="546.43" width="6.15" height="6.15" fill="#febe2a"/><rect x="442.10" y="546.43" width="6.15" height="6.15" fill="#fdac33"/><rect x="448.25" y="546.43" width="6.15" height="6.15" fill="#f89540"/><rect x="454.40" y="546.43" width="6.15" height="6.15" fill="#f3854b"/><rect x="460.54" y="546.43" width="6.15" height="6.15" fill="#e76e5b"/><rect x="466.69" y="546.43" width="6.15" height="6.15" fill="#d8576b"/><rect x="472.84" y="546.43" width="6.15" height="6.15" fill="#c9447a"/><rect x="478.99" y="546.43" width="6.15" height="6.15" fill="#b42e8d"/><rect x="485.14" y="546.43" width="6.15" height="6.15" fill="#9410a2"/><rect x="491.29" y="546.43" width="6.15" height="6.15" fill="#7201a8"/><rect x="497.43" y="546.43" width="6.15" height="6.15" fill="#4903a0"/><rect x="503.58" y="546.43" width="6.15" height="6.15" fill="#350498"/><rect x="60.89" y="552.57" width="6.15" height="6.15" fill="#240691"/><rect x="67.04" y="552.57" width="6.15" height="6.15" fill="#280592"/><rect x="73.19" y="552.57" width="6.15" height="6.15" fill="#2e0595"/><rect x="79.34" y="552.57" width="6.15" height="6.15" fill="#330597"/><rect x="85.48" y="552.57" width="6.15" height="6.15" fill="#3e049c"/><rect x="91.63" y="552.57" width="6.15" height="6.15" fill="#4c02a1"/><rect x="97.78" y="552.57" width="6.15" height="6.15" fill="#6001a6"/><rect x="103.93" y="552.57" width="6.15" height="6.15" fill="#7501a8"/><rect x="110.08" y="552.57" width="6.15" height="6.15" fill="#8707a6"/><rect x="116.23" y="552.57" width="6.15" height="6.15" fill="#9814a0"/><rect x="122.38" y="552.57" width="6.15" height="6.15" fill="#aa2395"/><rect x="128.52" y="552.57" width="6.15" height="6.15" fill="#b83289"/><rect x="134.67" y="552.57" width="6.15" height="6.15" fill="#c8437b"/><rect x="140.82" y="552.57" width="6.15" height="6.15" fill="#d7566c"/><rect x="146.97" y="552.57" width="6.15" height="6.15" fill="#e4695e"/><rect x="153.12" y="552.57" width="6.15" height="6.15" fill="#ed7a52"/><rect x="159.27" y="552.57" width="6.15" height="6.15" fill="#f68d45"/><rect x="165.42" y="552.57" width="6.15" height="6.15" fill="#fba238"/><rect x="171.56" y="552.57" width="6.15" height="6.15" fill="#febb2b"/><rect x="177.71" y="552.57" width="6.15" height="6.15" fill="#fec029"/><rect x="183.86" y="552.57" width="6.15" height="6.15" fill="#fdc827"/><rect x="190.01" y="552.57" width="6.15" height="6.15" fill="#fcd025"/><rect x="196.16" y="552.57" width="18.45" height="6.15" fill="#fbd724"/><rect x="214.60" y="552.57" width="221.35" height="6.15" fill="#f6e826"/><rect x="435.95" y="552.57" width="6.15" height="6.15" fill="#fec029"/><rect x="442.10" y="552.57" width="6.15" height="6.15" fill="#fdae32"/><rect x="448.25" y="552.57" width="6.15" height="6.15" fill="#f89540"/><rect x="454.40" y="552.57" width="6.15" height="6.15" fill="#f3874a"/><rect x="460.54" y="552.57" width="6.15" height="6.15" fill="#e66c5c"/><rect x="466.69" y="552.57" width="6.15" height="6.15" fill="#d7566c"/><rect x="472.84" y="552.57" width="6.15" height="6.15" fill="#c6417d"/><rect x="478.99" y="552.57" width="6.15" height="6.15" fill="#b02991"/><rect x="485.14" y="552.57" width="6.15" height="6.15" fill="#8f0da4"/><rect x="491.29" y="552.57" width="6.15" height="6.15" fill="#6e00a8"/><rect x="497.43" y="552.57" width="6.15" height="6.15" fill="#46039f"/><rect x="503.58" y="552.57" width="6.15" height="6.15" fill="#330597"/><rect x="60.89" y="558.72" width="6.15" height="6.15" fill="#240691"/><rect x="67.04" y="558.72" width="6.15" height="6.15" fill="#2a0593"/><rect x="73.19" y="558.72" width="6.15" height="6.15" fill="#2f0596"/><rect x="79.34" y="558.72" width="6.15" height="6.15" fill="#350498"/><rect x="85.48" y="558.72" width="6.15" height="6.15" fill="#41049d"/><rect x="91.63" y="558.72" width="6.15" height="6.15" fill="#5002a2"/><rect x="97.78" y="558.72" width="6.15" height="6.15" fill="#6400a7"/><rect x="103.93" y="558.72" width="6.15" height="6.15" fill="#7801a8"/><rect x="110.08" y="558.72" width="6.15" height="6.15" fill="#8a09a5"/><rect x="116.23" y="558.72" width="6.15" height="6.15" fill="#9c179e"/><rect x="122.38" y="558.72" width="6.15" height="6.15" fill="#ad2793"/><rect x="128.52" y="558.72" width="6.15" height="6.15" fill="#bc3587"/><rect x="134.67" y="558.72" width="6.15" height="6.15" fill="#cc4778"/><rect x="140.82" y="558.72" width="6.15" height="6.15" fill="#db5c68"/><rect x="146.97" y="558.72" width="6.15" height="6.15" fill="#e76e5b"/><rect x="153.12" y="558.72" width="6.15" height="6.15" fill="#ef7e50"/><rect x="159.27" y="558.72" width="6.15" height="6.15" fill="#f79143"/><rect x="165.42" y="558.72" width="6.15" height="6.15" fill="#fca636"/><rect x="171.56" y="558.72" width="6.15" height="6.15" fill="#febe2a"/><rect x="177.71" y="558.72" width="6.15" height="6.15" fill="#fdc328"/><rect x="183.86" y="558.72" width="6.15" height="6.15" fill="#fdca26"/><rect x="190.01" y="558.72" width="6.15" height="6.15" fill="#fcd225"/><rect x="196.16" y="558.72" width="12.30" height="6.15" fill="#fbd724"/><rect x="208.46" y="558.72" width="221.35" height="6.15" fill="#f6e826"/><rect x="429.80" y="558.72" width="6.15" height="6.15" fill="#fbd324"/><rect x="435.95" y="558.72" width="6.15" height="6.15" fill="#fdc229"/><rect x="442.10" y="558.72" width="6.15" height="6.15" fill="#fdb130"/><rect x="448.25" y="558.72" width="6.15" height="6.15" fill="#f89540"/><rect x="454.40" y="558.72" width="6.15" height="6.15" fill="#f3874a"/><rect x="460.54" y="558.72" width="6.15" height="6.15" fill="#e66c5c"/><rect x="466.69" y="558.72" width="6.15" height="6.15" fill="#d5546e"/><rect x="472.84" y="558.72" width="6.15" height="6.15" fill="#c43e7f"/><rect x="478.99" y="558.72" width="6.15" height="6.15" fill="#ac2694"/><rect x="485.14" y="558.72" width="6.15" height="6.15" fill="#8a09a5"/><rect x="491.29" y="558.72" width="6.15" height="6.15" fill="#6a00a8"/><rect x="497.43" y="558.72" width="6.15" height="6.15" fill="#43039e"/><rect x="503.58" y="558.72" width="6.15" height="6.15" fill="#2f0596"/><rect x="54.74" y="564.87" width="6.15" height="6.15" fill="#20068f"/><rect x="60.89" y="564.87" width="6.15" height="6.15" fill="#240691"/><rect x="67.04" y="564.87" width="6.15" height="6.15" fill="#2a0593"/><rect x="73.19" y="564.87" width="6.15" height="6.15" fill="#2f0596"/><rect x="79.34" y="564.87" width="6.15" height="6.15" fill="#350498"/><rect x="85.48" y="564.87" width="6.15" height="6.15" fill="#43039e"/><rect x="91.63" y="564.87" width="6.15" height="6.15" fill="#5302a3"/><rect x="97.78" y="564.87" width="6.15" height="6.15" fill="#6700a8"/><rect x="103.93" y="564.87" width="6.15" height="6.15" fill="#7b02a8"/><rect x="110.08" y="564.87" width="6.15" height="6.15" fill="#8e0ca4"/><rect x="116.23" y="564.87" width="6.15" height="6.15" fill="#a01a9c"/><rect x="122.38" y="564.87" width="6.15" height="6.15" fill="#b12a90"/><rect x="128.52" y="564.87" width="6.15" height="6.15" fill="#bf3984"/><rect x="134.67" y="564.87" width="6.15" height="6.15" fill="#cf4c74"/><rect x="140.82" y="564.87" width="6.15" height="6.15" fill="#de6164"/><rect x="146.97" y="564.87" width="6.15" height="6.15" fill="#ea7457"/><rect x="153.12" y="564.87" width="6.15" height="6.15" fill="#f1834c"/><rect x="159.27" y="564.87" width="6.15" height="6.15" fill="#f89540"/><rect x="165.42" y="564.87" width="6.15" height="6.15" fill="#fca934"/><rect x="171.56" y="564.87" width="6.15" height="6.15" fill="#fdc229"/><rect x="177.71" y="564.87" width="6.15" height="6.15" fill="#fdc627"/><rect x="183.86" y="564.87" width="6.15" height="6.15" fill="#fdcb26"/><rect x="190.01" y="564.87" width="6.15" height="6.15" fill="#fcd225"/><rect x="196.16" y="564.87" width="12.30" height="6.15" fill="#fbd724"/><rect x="208.46" y="564.87" width="221.35" height="6.15" fill="#f6e826"/><rect x="429.80" y="564.87" width="6.15" height="6.15" fill="#fbd524"/><rect x="435.95" y="564.87" width="6.15" height="6.15" fill="#fdc328"/><rect x="442.10" y="564.87" width="6.15" height="6.15" fill="#fdb22f"/><rect x="448.25" y="564.87" width="6.15" height="6.15" fill="#f89540"/><rect x="454.40" y="564.87" width="6.15" height="6.15" fill="#f48849"/><rect x="460.54" y="564.87" width="6.15" height="6.15" fill="#e66c5c"/><rect x="466.69" y="564.87" width="6.15" height="6.15" fill="#d5536f"/><rect x="472.84" y="564.87" width="6.15" height="6.15" fill="#c13b82"/><rect x="478.99" y="564.87" width="6.15" height="6.15" fill="#a82296"/><rect x="485.14" y="564.87" width="6.15" height="6.15" fill="#8606a6"/><rect x="491.29" y="564.87" width="6.15" height="6.15" fill="#6600a7"/><rect x="497.43" y="564.87" width="6.15" height="6.15" fill="#3f049c"/><rect x="503.58" y="564.87" width="6.15" height="6.15" fill="#2e0595"/><rect x="54.74" y="571.01" width="6.15" height="6.15" fill="#20068f"/><rect x="60.89" y="571.01" width="6.15" height="6.15" fill="#260591"/><rect x="67.04" y="571.01" width="6.15" height="6.15" fill="#2c0594"/><rect x="73.19" y="571.01" width="6.15" height="6.15" fill="#310597"/><rect x="79.34" y="571.01" width="6.15" height="6.15" fill="#370499"/><rect x="85.48" y="571.01" width="6.15" height="6.15" fill="#46039f"/><rect x="91.63" y="571.01" width="6.15" height="6.15" fill="#5801a4"/><rect x="97.78" y="571.01" width="6.15" height="6.15" fill="#6a00a8"/><rect x="103.93" y="571.01" width="6.15" height="6.15" fill="#7e03a8"/><rect x="110.08" y="571.01" width="6.15" height="6.15" fill="#910ea3"/><rect x="116.23" y="571.01" width="6.15" height="6.15" fill="#a31e9a"/><rect x="122.38" y="571.01" width="6.15" height="6.15" fill="#b42e8d"/><rect x="128.52" y="571.01" width="6.15" height="6.15" fill="#c23c81"/><rect x="134.67" y="571.01" width="6.15" height="6.15" fill="#d35171"/><rect x="140.82" y="571.01" width="6.15" height="6.15" fill="#e26660"/><rect x="146.97" y="571.01" width="6.15" height="6.15" fill="#ed7953"/><rect x="153.12" y="571.01" width="6.15" height="6.15" fill="#f3874a"/><rect x="159.27" y="571.01" width="6.15" height="6.15" fill="#f9983e"/><rect x="165.42" y="571.01" width="6.15" height="6.15" fill="#fdae32"/><rect x="171.56" y="571.01" width="6.15" height="6.15" fill="#fdc527"/><rect x="177.71" y="571.01" width="6.15" height="6.15" fill="#fdc827"/><rect x="183.86" y="571.01" width="6.15" height="6.15" fill="#fccd25"/><rect x="190.01" y="571.01" width="6.15" height="6.15" fill="#fbd324"/><rect x="196.16" y="571.01" width="12.30" height="6.15" fill="#fbd724"/><rect x="208.46" y="571.01" width="221.35" height="6.15" fill="#f6e826"/><rect x="429.80" y="571.01" width="6.15" height="6.15" fill="#fbd524"/><rect x="435.95" y="571.01" width="6.15" height="6.15" fill="#fdc527"/><rect x="442.10" y="571.01" width="6.15" height="6.15" fill="#fdb42f"/><rect x="448.25" y="571.01" width="6.15" height="6.15" fill="#f89441"/><rect x="454.40" y="571.01" width="6.15" height="6.15" fill="#f48849"/><rect x="460.54" y="571.01" width="6.15" height="6.15" fill="#e56b5d"/><rect x="466.69" y="571.01" width="6.15" height="6.15" fill="#d45270"/><rect x="472.84" y="571.01" width="6.15" height="6.15" fill="#bf3984"/><rect x="478.99" y="571.01" width="6.15" height="6.15" fill="#a31e9a"/><rect x="485.14" y="571.01" width="6.15" height="6.15" fill="#8104a7"/><rect x="491.29" y="571.01" width="6.15" height="6.15" fill="#6100a7"/><rect x="497.43" y="571.01" width="6.15" height="6.15" fill="#3c049b"/><rect x="503.58" y="571.01" width="6.15" height="6.15" fill="#2a0593"/><rect x="54.74" y="577.16" width="6.15" height="6.15" fill="#20068f"/><rect x="60.89" y="577.16" width="6.15" height="6.15" fill="#260591"/><rect x="67.04" y="577.16" width="6.15" height="6.15" fill="#2c0594"/><rect x="73.19" y="577.16" width="6.15" height="6.15" fill="#330597"/><rect x="79.34" y="577.16" width="6.15" height="6.15" fill="#38049a"/><rect x="85.48" y="577.16" width="6.15" height="6.15" fill="#4903a0"/><rect x="91.63" y="577.16" width="6.15" height="6.15" fill="#5b01a5"/><rect x="97.78" y="577.16" width="6.15" height="6.15" fill="#6e00a8"/><rect x="103.93" y="577.16" width="6.15" height="6.15" fill="#8104a7"/><rect x="110.08" y="577.16" width="6.15" height="6.15" fill="#9410a2"/><rect x="116.23" y="577.16" width="6.15" height="6.15" fill="#a72197"/><rect x="122.38" y="577.16" width="6.15" height="6.15" fill="#b7318a"/><rect x="128.52" y="577.16" width="6.15" height="6.15" fill="#c5407e"/><rect x="134.67" y="577.16" width="6.15" height="6.15" fill="#d6556d"/><rect x="140.82" y="577.16" width="6.15" height="6.15" fill="#e56b5d"/><rect x="146.97" y="577.16" width="6.15" height="6.15" fill="#ef7e50"/><rect x="153.12" y="577.16" width="6.15" height="6.15" fill="#f58c46"/><rect x="159.27" y="577.16" width="6.15" height="6.15" fill="#fa9c3c"/><rect x="165.42" y="577.16" width="6.15" height="6.15" fill="#fdb130"/><rect x="171.56" y="577.16" width="6.15" height="6.15" fill="#fdc827"/><rect x="177.71" y="577.16" width="6.15" height="6.15" fill="#fdcb26"/><rect x="183.86" y="577.16" width="6.15" height="6.15" fill="#fcce25"/><rect x="190.01" y="577.16" width="6.15" height="6.15" fill="#fbd324"/><rect x="196.16" y="577.16" width="12.30" height="6.15" fill="#fbd724"/><rect x="208.46" y="577.16" width="221.35" height="6.15" fill="#f6e826"/><rect x="429.80" y="577.16" width="6.15" height="6.15" fill="#fbd524"/><rect x="435.95" y="577.16" width="6.15" height="6.15" fill="#fdc527"/><rect x="442.10" y="577.16" width="6.15" height="6.15" fill="#feb72d"/><rect x="448.25" y="577.16" width="6.15" height="6.15" fill="#f89540"/><rect x="454.40" y="577.16" width="6.15" height="6.15" fill="#f48948"/><rect x="460.54" y="577.16" width="6.15" height="6.15" fill="#e56b5d"/><rect x="466.69" y="577.16" width="6.15" height="6.15" fill="#d24f71"/><rect x="472.84" y="577.16" width="6.15" height="6.15" fill="#bc3587"/><rect x="478.99" y="577.16" width="6.15" height="6.15" fill="#a01a9c"/><rect x="485.14" y="577.16" width="6.15" height="6.15" fill="#7b02a8"/><rect x="491.29" y="577.16" width="6.15" height="6.15" fill="#5c01a6"/><rect x="497.43" y="577.16" width="6.15" height="6.15" fill="#38049a"/><rect x="503.58" y="577.16" width="6.15" height="6.15" fill="#260591"/><rect x="54.74" y="583.31" width="6.15" height="6.15" fill="#20068f"/><rect x="60.89" y="583.31" width="6.15" height="6.15" fill="#260591"/><rect x="67.04" y="583.31" width="6.15" height="6.15" fill="#2e0595"/><rect x="73.19" y="583.31" width="6.15" height="6.15" fill="#330597"/><rect x="79.34" y="583.31" width="6.15" height="6.15" fill="#3a049a"/><rect x="85.48" y="583.31" width="6.15" height="6.15" fill="#4c02a1"/><rect x="91.63" y="583.31" width="6.15" height="6.15" fill="#5e01a6"/><rect x="97.78" y="583.31" width="6.15" height="6.15" fill="#7100a8"/><rect x="103.93" y="583.31" width="6.15" height="6.15" fill="#8405a7"/><rect x="110.08" y="583.31" width="6.15" height="6.15" fill="#9814a0"/><rect x="116.23" y="583.31" width="6.15" height="6.15" fill="#ab2494"/><rect x="122.38" y="583.31" width="6.15" height="6.15" fill="#bb3488"/><rect x="128.52" y="583.31" width="6.15" height="6.15" fill="#c8437b"/><rect x="134.67" y="583.31" width="6.15" height="6.15" fill="#da5a6a"/><rect x="140.82" y="583.31" width="6.15" height="6.15" fill="#e97158"/><rect x="146.97" y="583.31" width="6.15" height="6.15" fill="#f2844b"/><rect x="153.12" y="583.31" width="6.15" height="6.15" fill="#f79044"/><rect x="159.27" y="583.31" width="6.15" height="6.15" fill="#fba139"/><rect x="165.42" y="583.31" width="6.15" height="6.15" fill="#fdb52e"/><rect x="171.56" y="583.31" width="6.15" height="6.15" fill="#fdcb26"/><rect x="177.71" y="583.31" width="6.15" height="6.15" fill="#fcce25"/><rect x="183.86" y="583.31" width="6.15" height="6.15" fill="#fcd025"/><rect x="190.01" y="583.31" width="6.15" height="6.15" fill="#fbd324"/><rect x="196.16" y="583.31" width="12.30" height="6.15" fill="#fbd724"/><rect x="208.46" y="583.31" width="221.35" height="6.15" fill="#f6e826"/><rect x="429.80" y="583.31" width="6.15" height="6.15" fill="#fbd724"/><rect x="435.95" y="583.31" width="6.15" height="6.15" fill="#fdc627"/><rect x="442.10" y="583.31" width="6.15" height="6.15" fill="#feb82c"/><rect x="448.25" y="583.31" width="6.15" height="6.15" fill="#f89540"/><rect x="454.40" y="583.31" width="6.15" height="6.15" fill="#f48948"/><rect x="460.54" y="583.31" width="6.15" height="6.15" fill="#e56b5d"/><rect x="466.69" y="583.31" width="6.15" height="6.15" fill="#d14e72"/><rect x="472.84" y="583.31" width="6.15" height="6.15" fill="#ba3388"/><rect x="478.99" y="583.31" width="6.15" height="6.15" fill="#9c179e"/><rect x="485.14" y="583.31" width="6.15" height="6.15" fill="#7701a8"/><rect x="491.29" y="583.31" width="6.15" height="6.15" fill="#5801a4"/><rect x="497.43" y="583.31" width="6.15" height="6.15" fill="#350498"/><rect x="503.58" y="583.31" width="6.15" height="6.15" fill="#240691"/><rect x="54.74" y="589.45" width="6.15" height="6.15" fill="#20068f"/><rect x="60.89" y="589.45" width="6.15" height="6.15" fill="#280592"/><rect x="67.04" y="589.45" width="6.15" height="6.15" fill="#2e0595"/><rect x="73.19" y="589.45" width="6.15" height="6.15" fill="#350498"/><rect x="79.34" y="589.45" width="6.15" height="6.15" fill="#3c049b"/><rect x="85.48" y="589.45" width="6.15" height="6.15" fill="#4e02a2"/><rect x="91.63" y="589.45" width="6.15" height="6.15" fill="#6100a7"/><rect x="97.78" y="589.45" width="6.15" height="6.15" fill="#7401a8"/><rect x="103.93" y="589.45" width="6.15" height="6.15" fill="#8707a6"/><rect x="110.08" y="589.45" width="6.15" height="6.15" fill="#9a169f"/><rect x="116.23" y="589.45" width="6.15" height="6.15" fill="#ad2793"/><rect x="122.38" y="589.45" width="6.15" height="6.15" fill="#be3885"/><rect x="128.52" y="589.45" width="6.15" height="6.15" fill="#cc4778"/><rect x="134.67" y="589.45" width="6.15" height="6.15" fill="#dd5e66"/><rect x="140.82" y="589.45" width="6.15" height="6.15" fill="#eb7655"/><rect x="146.97" y="589.45" width="6.15" height="6.15" fill="#f48948"/><rect x="153.12" y="589.45" width="6.15" height="6.15" fill="#f89540"/><rect x="159.27" y="589.45" width="6.15" height="6.15" fill="#fca537"/><rect x="165.42" y="589.45" width="6.15" height="6.15" fill="#feb82c"/><rect x="171.56" y="589.45" width="6.15" height="6.15" fill="#fcce25"/><rect x="177.71" y="589.45" width="6.15" height="6.15" fill="#fcd025"/><rect x="183.86" y="589.45" width="6.15" height="6.15" fill="#fcd225"/><rect x="190.01" y="589.45" width="6.15" height="6.15" fill="#fbd524"/><rect x="196.16" y="589.45" width="6.15" height="6.15" fill="#fbd724"/><rect x="202.31" y="589.45" width="227.49" height="6.15" fill="#f6e826"/><rect x="429.80" y="589.45" width="6.15" height="6.15" fill="#fbd724"/><rect x="435.95" y="589.45" width="6.15" height="6.15" fill="#fdc827"/><rect x="442.10" y="589.45" width="6.15" height="6.15" fill="#feba2c"/><rect x="448.25" y="589.45" width="6.15" height="6.15" fill="#f89540"/><rect x="454.40" y="589.45" width="6.15" height="6.15" fill="#f58b47"/><rect x="460.54" y="589.45" width="6.15" height="6.15" fill="#e56a5d"/><rect x="466.69" y="589.45" width="6.15" height="6.15" fill="#d04d73"/><rect x="472.84" y="589.45" width="6.15" height="6.15" fill="#b6308b"/><rect x="478.99" y="589.45" width="6.15" height="6.15" fill="#9613a1"/><rect x="485.14" y="589.45" width="6.15" height="6.15" fill="#7201a8"/><rect x="491.29" y="589.45" width="6.15" height="6.15" fill="#5302a3"/><rect x="497.43" y="589.45" width="6.15" height="6.15" fill="#310597"/><rect x="503.58" y="589.45" width="6.15" height="6.15" fill="#20068f"/><rect x="54.74" y="595.60" width="6.15" height="6.15" fill="#220690"/><rect x="60.89" y="595.60" width="6.15" height="6.15" fill="#2a0593"/><rect x="67.04" y="595.60" width="6.15" height="6.15" fill="#310597"/><rect x="73.19" y="595.60" width="6.15" height="6.15" fill="#38049a"/><rect x="79.34" y="595.60" width="6.15" height="6.15" fill="#3f049c"/><rect x="85.48" y="595.60" width="6.15" height="6.15" fill="#5102a3"/><rect x="91.63" y="595.60" width="6.15" height="6.15" fill="#6400a7"/><rect x="97.78" y="595.60" width="6.15" height="6.15" fill="#7701a8"/><rect x="103.93" y="595.60" width="6.15" height="6.15" fill="#8808a6"/><rect x="110.08" y="595.60" width="6.15" height="6.15" fill="#9c179e"/><rect x="116.23" y="595.60" width="6.15" height="6.15" fill="#ae2892"/><rect x="122.38" y="595.60" width="6.15" height="6.15" fill="#bf3984"/><rect x="128.52" y="595.60" width="6.15" height="6.15" fill="#cc4977"/><rect x="134.67" y="595.60" width="6.15" height="6.15" fill="#de5f65"/><rect x="140.82" y="595.60" width="6.15" height="6.15" fill="#ed7953"/><rect x="146.97" y="595.60" width="6.15" height="6.15" fill="#f58b47"/><rect x="153.12" y="595.60" width="6.15" height="6.15" fill="#f9983e"/><rect x="159.27" y="595.60" width="6.15" height="6.15" fill="#fca934"/><rect x="165.42" y="595.60" width="6.15" height="6.15" fill="#febb2b"/><rect x="171.56" y="595.60" width="6.15" height="6.15" fill="#fcce25"/><rect x="177.71" y="595.60" width="6.15" height="6.15" fill="#fcd225"/><rect x="183.86" y="595.60" width="6.15" height="6.15" fill="#fbd324"/><rect x="190.01" y="595.60" width="6.15" height="6.15" fill="#fbd524"/><rect x="196.16" y="595.60" width="6.15" height="6.15" fill="#fbd724"/><rect x="202.31" y="595.60" width="227.49" height="6.15" fill="#f6e826"/><rect x="429.80" y="595.60" width="6.15" height="6.15" fill="#fcd225"/><rect x="435.95" y="595.60" width="6.15" height="6.15" fill="#fdc328"/><rect x="442.10" y="595.60" width="6.15" height="6.15" fill="#fdb52e"/><rect x="448.25" y="595.60" width="6.15" height="6.15" fill="#f79342"/><rect x="454.40" y="595.60" width="6.15" height="6.15" fill="#f3874a"/><rect x="460.54" y="595.60" width="6.15" height="6.15" fill="#e26660"/><rect x="466.69" y="595.60" width="6.15" height="6.15" fill="#cc4778"/><rect x="472.84" y="595.60" width="6.15" height="6.15" fill="#b22b8f"/><rect x="478.99" y="595.60" width="6.15" height="6.15" fill="#9410a2"/><rect x="485.14" y="595.60" width="6.15" height="6.15" fill="#6f00a8"/><rect x="491.29" y="595.60" width="6.15" height="6.15" fill="#5102a3"/><rect x="497.43" y="595.60" width="6.15" height="6.15" fill="#2f0596"/><rect x="48.59" y="601.75" width="6.15" height="6.15" fill="#220690"/><rect x="54.74" y="601.75" width="6.15" height="6.15" fill="#240691"/><rect x="60.89" y="601.75" width="6.15" height="6.15" fill="#2c0594"/><rect x="67.04" y="601.75" width="6.15" height="6.15" fill="#330597"/><rect x="73.19" y="601.75" width="6.15" height="6.15" fill="#3a049a"/><rect x="79.34" y="601.75" width="6.15" height="6.15" fill="#43039e"/><rect x="85.48" y="601.75" width="6.15" height="6.15" fill="#5502a4"/><rect x="91.63" y="601.75" width="6.15" height="6.15" fill="#6600a7"/><rect x="97.78" y="601.75" width="6.15" height="6.15" fill="#7801a8"/><rect x="103.93" y="601.75" width="6.15" height="6.15" fill="#8a09a5"/><rect x="110.08" y="601.75" width="6.15" height="6.15" fill="#9d189d"/><rect x="116.23" y="601.75" width="6.15" height="6.15" fill="#b02991"/><rect x="122.38" y="601.75" width="6.15" height="6.15" fill="#c03a83"/><rect x="128.52" y="601.75" width="6.15" height="6.15" fill="#cd4a76"/><rect x="134.67" y="601.75" width="6.15" height="6.15" fill="#df6263"/><rect x="140.82" y="601.75" width="6.15" height="6.15" fill="#ed7a52"/><rect x="146.97" y="601.75" width="6.15" height="6.15" fill="#f68d45"/><rect x="153.12" y="601.75" width="6.15" height="6.15" fill="#fa9b3d"/><rect x="159.27" y="601.75" width="6.15" height="6.15" fill="#fdae32"/><rect x="165.42" y="601.75" width="6.15" height="6.15" fill="#febd2a"/><rect x="171.56" y="601.75" width="6.15" height="6.15" fill="#fcd025"/><rect x="177.71" y="601.75" width="6.15" height="6.15" fill="#fcd225"/><rect x="183.86" y="601.75" width="6.15" height="6.15" fill="#fbd324"/><rect x="190.01" y="601.75" width="6.15" height="6.15" fill="#fbd524"/><rect x="196.16" y="601.75" width="6.15" height="6.15" fill="#fbd724"/><rect x="202.31" y="601.75" width="227.49" height="6.15" fill="#f6e826"/><rect x="429.80" y="601.75" width="6.15" height="6.15" fill="#fccd25"/><rect x="435.95" y="601.75" width="6.15" height="6.15" fill="#febe2a"/><rect x="442.10" y="601.75" width="6.15" height="6.15" fill="#fdaf31"/><rect x="448.25" y="601.75" width="6.15" height="6.15" fill="#f79044"/><rect x="454.40" y="601.75" width="6.15" height="6.15" fill="#f2844b"/><rect x="460.54" y="601.75" width="6.15" height="6.15" fill="#df6263"/><rect x="466.69" y="601.75" width="6.15" height="6.15" fill="#c8437b"/><rect x="472.84" y="601.75" width="6.15" height="6.15" fill="#ae2892"/><rect x="478.99" y="601.75" width="6.15" height="6.15" fill="#8f0da4"/><rect x="485.14" y="601.75" width="6.15" height="6.15" fill="#6c00a8"/><rect x="491.29" y="601.75" width="6.15" height="6.15" fill="#4e02a2"/><rect x="497.43" y="601.75" width="6.15" height="6.15" fill="#2f0596"/><rect x="48.59" y="607.89" width="6.15" height="6.15" fill="#240691"/><rect x="54.74" y="607.89" width="6.15" height="6.15" fill="#260591"/><rect x="60.89" y="607.89" width="6.15" height="6.15" fill="#2e0595"/><rect x="67.04" y="607.89" width="6.15" height="6.15" fill="#350498"/><rect x="73.19" y="607.89" width="6.15" height="6.15" fill="#3e049c"/><rect x="79.34" y="607.89" width="6.15" height="6.15" fill="#46039f"/><rect x="85.48" y="607.89" width="6.15" height="6.15" fill="#5801a4"/><rect x="91.63" y="607.89" width="6.15" height="6.15" fill="#6900a8"/><rect x="97.78" y="607.89" width="6.15" height="6.15" fill="#7a02a8"/><rect x="103.93" y="607.89" width="6.15" height="6.15" fill="#8d0ba5"/><rect x="110.08" y="607.89" width="6.15" height="6.15" fill="#9e199d"/><rect x="116.23" y="607.89" width="6.15" height="6.15" fill="#b12a90"/><rect x="122.38" y="607.89" width="6.15" height="6.15" fill="#c13b82"/><rect x="128.52" y="607.89" width="6.15" height="6.15" fill="#ce4b75"/><rect x="134.67" y="607.89" width="6.15" height="6.15" fill="#e06363"/><rect x="140.82" y="607.89" width="6.15" height="6.15" fill="#ee7b51"/><rect x="146.97" y="607.89" width="6.15" height="6.15" fill="#f68f44"/><rect x="153.12" y="607.89" width="6.15" height="6.15" fill="#fa9e3b"/><rect x="159.27" y="607.89" width="6.15" height="6.15" fill="#fdb130"/><rect x="165.42" y="607.89" width="6.15" height="6.15" fill="#fec029"/><rect x="171.56" y="607.89" width="6.15" height="6.15" fill="#fcd025"/><rect x="177.71" y="607.89" width="6.15" height="6.15" fill="#fcd225"/><rect x="183.86" y="607.89" width="6.15" height="6.15" fill="#fbd324"/><rect x="190.01" y="607.89" width="6.15" height="6.15" fill="#fbd524"/><rect x="196.16" y="607.89" width="233.64" height="6.15" fill="#f6e826"/><rect x="429.80" y="607.89" width="6.15" height="6.15" fill="#fdc827"/><rect x="435.95" y="607.89" width="6.15" height="6.15" fill="#feb82c"/><rect x="442.10" y="607.89" width="6.15" height="6.15" fill="#fdab33"/><rect x="448.25" y="607.89" width="6.15" height="6.15" fill="#f68d45"/><rect x="454.40" y="607.89" width="6.15" height="6.15" fill="#f0804e"/><rect x="460.54" y="607.89" width="6.15" height="6.15" fill="#dc5d67"/><rect x="466.69" y="607.89" width="6.15" height="6.15" fill="#c43e7f"/><rect x="472.84" y="607.89" width="6.15" height="6.15" fill="#aa2395"/><rect x="478.99" y="607.89" width="6.15" height="6.15" fill="#8d0ba5"/><rect x="485.14" y="607.89" width="6.15" height="6.15" fill="#6900a8"/><rect x="491.29" y="607.89" width="6.15" height="6.15" fill="#4c02a1"/><rect x="497.43" y="607.89" width="6.15" height="6.15" fill="#2e0595"/><rect x="42.45" y="614.04" width="6.15" height="6.15" fill="#20068f"/><rect x="48.59" y="614.04" width="6.15" height="6.15" fill="#240691"/><rect x="54.74" y="614.04" width="6.15" height="6.15" fill="#280592"/><rect x="60.89" y="614.04" width="6.15" height="6.15" fill="#2f0596"/><rect x="67.04" y="614.04" width="6.15" height="6.15" fill="#38049a"/><rect x="73.19" y="614.04" width="6.15" height="6.15" fill="#41049d"/><rect x="79.34" y="614.04" width="6.15" height="6.15" fill="#4903a0"/><rect x="85.48" y="614.04" width="6.15" height="6.15" fill="#5901a5"/><rect x="91.63" y="614.04" width="6.15" height="6.15" fill="#6c00a8"/><rect x="97.78" y="614.04" width="6.15" height="6.15" fill="#7d03a8"/><rect x="103.93" y="614.04" width="6.15" height="6.15" fill="#8e0ca4"/><rect x="110.08" y="614.04" width="6.15" height="6.15" fill="#a01a9c"/><rect x="116.23" y="614.04" width="6.15" height="6.15" fill="#b12a90"/><rect x="122.38" y="614.04" width="6.15" height="6.15" fill="#c23c81"/><rect x="128.52" y="614.04" width="6.15" height="6.15" fill="#d04d73"/><rect x="134.67" y="614.04" width="6.15" height="6.15" fill="#e26561"/><rect x="140.82" y="614.04" width="6.15" height="6.15" fill="#ef7e50"/><rect x="146.97" y="614.04" width="6.15" height="6.15" fill="#f79044"/><rect x="153.12" y="614.04" width="6.15" height="6.15" fill="#fba139"/><rect x="159.27" y="614.04" width="6.15" height="6.15" fill="#fdb52e"/><rect x="165.42" y="614.04" width="6.15" height="6.15" fill="#fdc229"/><rect x="171.56" y="614.04" width="6.15" height="6.15" fill="#fcd025"/><rect x="177.71" y="614.04" width="6.15" height="6.15" fill="#fbd324"/><rect x="183.86" y="614.04" width="6.15" height="6.15" fill="#fbd524"/><rect x="190.01" y="614.04" width="239.79" height="6.15" fill="#f6e826"/><rect x="429.80" y="614.04" width="6.15" height="6.15" fill="#fdc328"/><rect x="435.95" y="614.04" width="6.15" height="6.15" fill="#fdb42f"/><rect x="442.10" y="614.04" width="6.15" height="6.15" fill="#fca636"/><rect x="448.25" y="614.04" width="6.15" height="6.15" fill="#f58b47"/><rect x="454.40" y="614.04" width="6.15" height="6.15" fill="#ef7e50"/><rect x="460.54" y="614.04" width="6.15" height="6.15" fill="#da5a6a"/><rect x="466.69" y="614.04" width="6.15" height="6.15" fill="#bf3984"/><rect x="472.84" y="614.04" width="6.15" height="6.15" fill="#a62098"/><rect x="478.99" y="614.04" width="6.15" height="6.15" fill="#8808a6"/><rect x="485.14" y="614.04" width="6.15" height="6.15" fill="#6600a7"/><rect x="491.29" y="614.04" width="6.15" height="6.15" fill="#4903a0"/><rect x="497.43" y="614.04" width="6.15" height="6.15" fill="#2e0595"/><rect x="42.45" y="620.18" width="6.15" height="6.15" fill="#20068f"/><rect x="48.59" y="620.18" width="6.15" height="6.15" fill="#260591"/><rect x="54.74" y="620.18" width="6.15" height="6.15" fill="#2a0593"/><rect x="60.89" y="620.18" width="6.15" height="6.15" fill="#330597"/><rect x="67.04" y="620.18" width="6.15" height="6.15" fill="#3a049a"/><rect x="73.19" y="620.18" width="6.15" height="6.15" fill="#44039e"/><rect x="79.34" y="620.18" width="6.15" height="6.15" fill="#4c02a1"/><rect x="85.48" y="620.18" width="6.15" height="6.15" fill="#5c01a6"/><rect x="91.63" y="620.18" width="6.15" height="6.15" fill="#6e00a8"/><rect x="97.78" y="620.18" width="6.15" height="6.15" fill="#7e03a8"/><rect x="103.93" y="620.18" width="6.15" height="6.15" fill="#8f0da4"/><rect x="110.08" y="620.18" width="6.15" height="6.15" fill="#a11b9b"/><rect x="116.23" y="620.18" width="6.15" height="6.15" fill="#b22b8f"/><rect x="122.38" y="620.18" width="6.15" height="6.15" fill="#c33d80"/><rect x="128.52" y="620.18" width="6.15" height="6.15" fill="#d14e72"/><rect x="134.67" y="620.18" width="6.15" height="6.15" fill="#e26660"/><rect x="140.82" y="620.18" width="6.15" height="6.15" fill="#f07f4f"/><rect x="146.97" y="620.18" width="6.15" height="6.15" fill="#f79342"/><rect x="153.12" y="620.18" width="6.15" height="6.15" fill="#fca338"/><rect x="159.27" y="620.18" width="6.15" height="6.15" fill="#feba2c"/><rect x="165.42" y="620.18" width="6.15" height="6.15" fill="#fdc527"/><rect x="171.56" y="620.18" width="6.15" height="6.15" fill="#fcd225"/><rect x="177.71" y="620.18" width="6.15" height="6.15" fill="#fbd324"/><rect x="183.86" y="620.18" width="6.15" height="6.15" fill="#fbd524"/><rect x="190.01" y="620.18" width="233.64" height="6.15" fill="#f6e826"/><rect x="423.65" y="620.18" width="6.15" height="6.15" fill="#fcd025"/><rect x="429.80" y="620.18" width="6.15" height="6.15" fill="#febe2a"/><rect x="435.95" y="620.18" width="6.15" height="6.15" fill="#fdaf31"/><rect x="442.10" y="620.18" width="6.15" height="6.15" fill="#fba139"/><rect x="448.25" y="620.18" width="6.15" height="6.15" fill="#f48948"/><rect x="454.40" y="620.18" width="6.15" height="6.15" fill="#ed7a52"/><rect x="460.54" y="620.18" width="6.15" height="6.15" fill="#d6556d"/><rect x="466.69" y="620.18" width="6.15" height="6.15" fill="#bb3488"/><rect x="472.84" y="620.18" width="6.15" height="6.15" fill="#a11b9b"/><rect x="478.99" y="620.18" width="6.15" height="6.15" fill="#8606a6"/><rect x="485.14" y="620.18" width="6.15" height="6.15" fill="#6300a7"/><rect x="491.29" y="620.18" width="6.15" height="6.15" fill="#48039f"/><rect x="497.43" y="620.18" width="6.15" height="6.15" fill="#2c0594"/><rect x="42.45" y="626.33" width="6.15" height="6.15" fill="#20068f"/><rect x="48.59" y="626.33" width="6.15" height="6.15" fill="#260591"/><rect x="54.74" y="626.33" width="6.15" height="6.15" fill="#2c0594"/><rect x="60.89" y="626.33" width="6.15" height="6.15" fill="#350498"/><rect x="67.04" y="626.33" width="6.15" height="6.15" fill="#3c049b"/><rect x="73.19" y="626.33" width="6.15" height="6.15" fill="#46039f"/><rect x="79.34" y="626.33" width="6.15" height="6.15" fill="#5002a2"/><rect x="85.48" y="626.33" width="6.15" height="6.15" fill="#6001a6"/><rect x="91.63" y="626.33" width="6.15" height="6.15" fill="#7100a8"/><rect x="97.78" y="626.33" width="6.15" height="6.15" fill="#8104a7"/><rect x="103.93" y="626.33" width="6.15" height="6.15" fill="#910ea3"/><rect x="110.08" y="626.33" width="6.15" height="6.15" fill="#a21d9a"/><rect x="116.23" y="626.33" width="6.15" height="6.15" fill="#b32c8e"/><rect x="122.38" y="626.33" width="6.15" height="6.15" fill="#c43e7f"/><rect x="128.52" y="626.33" width="6.15" height="6.15" fill="#d24f71"/><rect x="134.67" y="626.33" width="6.15" height="6.15" fill="#e4695e"/><rect x="140.82" y="626.33" width="6.15" height="6.15" fill="#f0804e"/><rect x="146.97" y="626.33" width="6.15" height="6.15" fill="#f89441"/><rect x="153.12" y="626.33" width="6.15" height="6.15" fill="#fca636"/><rect x="159.27" y="626.33" width="6.15" height="6.15" fill="#febd2a"/><rect x="165.42" y="626.33" width="6.15" height="6.15" fill="#fdc627"/><rect x="171.56" y="626.33" width="6.15" height="6.15" fill="#fcd225"/><rect x="177.71" y="626.33" width="6.15" height="6.15" fill="#fbd324"/><rect x="183.86" y="626.33" width="6.15" height="6.15" fill="#fbd524"/><rect x="190.01" y="626.33" width="233.64" height="6.15" fill="#f6e826"/><rect x="423.65" y="626.33" width="6.15" height="6.15" fill="#fdcb26"/><rect x="429.80" y="626.33" width="6.15" height="6.15" fill="#feba2c"/><rect x="435.95" y="626.33" width="6.15" height="6.15" fill="#fdab33"/><rect x="442.10" y="626.33" width="6.15" height="6.15" fill="#fa9c3c"/><rect x="448.25" y="626.33" width="6.15" height="6.15" fill="#f3874a"/><rect x="454.40" y="626.33" width="6.15" height="6.15" fill="#eb7655"/><rect x="460.54" y="626.33" width="6.15" height="6.15" fill="#d45270"/><rect x="466.69" y="626.33" width="6.15" height="6.15" fill="#b6308b"/><rect x="472.84" y="626.33" width="6.15" height="6.15" fill="#9d189d"/><rect x="478.99" y="626.33" width="6.15" height="6.15" fill="#8104a7"/><rect x="485.14" y="626.33" width="6.15" height="6.15" fill="#6001a6"/><rect x="491.29" y="626.33" width="6.15" height="6.15" fill="#44039e"/><rect x="497.43" y="626.33" width="6.15" height="6.15" fill="#2a0593"/><rect x="42.45" y="632.48" width="6.15" height="6.15" fill="#20068f"/><rect x="48.59" y="632.48" width="6.15" height="6.15" fill="#280592"/><rect x="54.74" y="632.48" width="6.15" height="6.15" fill="#2e0595"/><rect x="60.89" y="632.48" width="6.15" height="6.15" fill="#370499"/><rect x="67.04" y="632.48" width="6.15" height="6.15" fill="#3f049c"/><rect x="73.19" y="632.48" width="6.15" height="6.15" fill="#4903a0"/><rect x="79.34" y="632.48" width="6.15" height="6.15" fill="#5502a4"/><rect x="85.48" y="632.48" width="6.15" height="6.15" fill="#6100a7"/><rect x="91.63" y="632.48" width="6.15" height="6.15" fill="#7201a8"/><rect x="97.78" y="632.48" width="6.15" height="6.15" fill="#8305a7"/><rect x="103.93" y="632.48" width="6.15" height="6.15" fill="#9410a2"/><rect x="110.08" y="632.48" width="6.15" height="6.15" fill="#a51f99"/><rect x="116.23" y="632.48" width="6.15" height="6.15" fill="#b42e8d"/><rect x="122.38" y="632.48" width="6.15" height="6.15" fill="#c5407e"/><rect x="128.52" y="632.48" width="6.15" height="6.15" fill="#d35171"/><rect x="134.67" y="632.48" width="6.15" height="6.15" fill="#e56a5d"/><rect x="140.82" y="632.48" width="6.15" height="6.15" fill="#f1814d"/><rect x="146.97" y="632.48" width="6.15" height="6.15" fill="#f9973f"/><rect x="153.12" y="632.48" width="6.15" height="6.15" fill="#fca934"/><rect x="159.27" y="632.48" width="6.15" height="6.15" fill="#fdc229"/><rect x="165.42" y="632.48" width="6.15" height="6.15" fill="#fdca26"/><rect x="171.56" y="632.48" width="6.15" height="6.15" fill="#fcd225"/><rect x="177.71" y="632.48" width="6.15" height="6.15" fill="#fbd524"/><rect x="183.86" y="632.48" width="239.79" height="6.15" fill="#f6e826"/><rect x="423.65" y="632.48" width="6.15" height="6.15" fill="#fdc827"/><rect x="429.80" y="632.48" width="6.15" height="6.15" fill="#fdb52e"/><rect x="435.95" y="632.48" width="6.15" height="6.15" fill="#fca636"/><rect x="442.10" y="632.48" width="6.15" height="6.15" fill="#f9983e"/><rect x="448.25" y="632.48" width="6.15" height="6.15" fill="#f2844b"/><rect x="454.40" y="632.48" width="6.15" height="6.15" fill="#ea7457"/><rect x="460.54" y="632.48" width="6.15" height="6.15" fill="#d04d73"/><rect x="466.69" y="632.48" width="6.15" height="6.15" fill="#b12a90"/><rect x="472.84" y="632.48" width="6.15" height="6.15" fill="#9814a0"/><rect x="478.99" y="632.48" width="6.15" height="6.15" fill="#7e03a8"/><rect x="485.14" y="632.48" width="6.15" height="6.15" fill="#5c01a6"/><rect x="491.29" y="632.48" width="6.15" height="6.15" fill="#43039e"/><rect x="497.43" y="632.48" width="6.15" height="6.15" fill="#2a0593"/><rect x="503.58" y="632.48" width="6.15" height="6.15" fill="#20068f"/><rect x="42.45" y="638.62" width="6.15" height="6.15" fill="#20068f"/><rect x="48.59" y="638.62" width="6.15" height="6.15" fill="#280592"/><rect x="54.74" y="638.62" width="6.15" height="6.15" fill="#2f0596"/><rect x="60.89" y="638.62" width="6.15" height="6.15" fill="#38049a"/><rect x="67.04" y="638.62" width="6.15" height="6.15" fill="#41049d"/><rect x="73.19" y="638.62" width="6.15" height="6.15" fill="#4c02a1"/><rect x="79.34" y="638.62" width="6.15" height="6.15" fill="#5801a4"/><rect x="85.48" y="638.62" width="6.15" height="6.15" fill="#6400a7"/><rect x="91.63" y="638.62" width="6.15" height="6.15" fill="#7501a8"/><rect x="97.78" y="638.62" width="6.15" height="6.15" fill="#8405a7"/><rect x="103.93" y="638.62" width="6.15" height="6.15" fill="#9511a1"/><rect x="110.08" y="638.62" width="6.15" height="6.15" fill="#a62098"/><rect x="116.23" y="638.62" width="6.15" height="6.15" fill="#b42e8d"/><rect x="122.38" y="638.62" width="6.15" height="6.15" fill="#c6417d"/><rect x="128.52" y="638.62" width="6.15" height="6.15" fill="#d5536f"/><rect x="134.67" y="638.62" width="6.15" height="6.15" fill="#e66c5c"/><rect x="140.82" y="638.62" width="6.15" height="6.15" fill="#f2844b"/><rect x="146.97" y="638.62" width="6.15" height="6.15" fill="#f9983e"/><rect x="153.12" y="638.62" width="6.15" height="6.15" fill="#fdae32"/><rect x="159.27" y="638.62" width="6.15" height="6.15" fill="#fdc627"/><rect x="165.42" y="638.62" width="6.15" height="6.15" fill="#fccd25"/><rect x="171.56" y="638.62" width="6.15" height="6.15" fill="#fbd324"/><rect x="177.71" y="638.62" width="6.15" height="6.15" fill="#fbd524"/><rect x="183.86" y="638.62" width="239.79" height="6.15" fill="#f6e826"/><rect x="423.65" y="638.62" width="6.15" height="6.15" fill="#fdc328"/><rect x="429.80" y="638.62" width="6.15" height="6.15" fill="#fdb130"/><rect x="435.95" y="638.62" width="6.15" height="6.15" fill="#fba139"/><rect x="442.10" y="638.62" width="6.15" height="6.15" fill="#f79342"/><rect x="448.25" y="638.62" width="6.15" height="6.15" fill="#f1814d"/><rect x="454.40" y="638.62" width="6.15" height="6.15" fill="#e87059"/><rect x="460.54" y="638.62" width="6.15" height="6.15" fill="#cd4a76"/><rect x="466.69" y="638.62" width="6.15" height="6.15" fill="#ac2694"/><rect x="472.84" y="638.62" width="6.15" height="6.15" fill="#920fa3"/><rect x="478.99" y="638.62" width="6.15" height="6.15" fill="#7a02a8"/><rect x="485.14" y="638.62" width="6.15" height="6.15" fill="#5901a5"/><rect x="491.29" y="638.62" width="6.15" height="6.15" fill="#41049d"/><rect x="497.43" y="638.62" width="6.15" height="6.15" fill="#280592"/><rect x="503.58" y="638.62" width="6.15" height="6.15" fill="#20068f"/><rect x="42.45" y="644.77" width="6.15" height="6.15" fill="#20068f"/><rect x="48.59" y="644.77" width="6.15" height="6.15" fill="#2a0593"/><rect x="54.74" y="644.77" width="6.15" height="6.15" fill="#310597"/><rect x="60.89" y="644.77" width="6.15" height="6.15" fill="#3a049a"/><rect x="67.04" y="644.77" width="6.15" height="6.15" fill="#43039e"/><rect x="73.19" y="644.77" width="6.15" height="6.15" fill="#5002a2"/><rect x="79.34" y="644.77" width="6.15" height="6.15" fill="#5b01a5"/><rect x="85.48" y="644.77" width="6.15" height="6.15" fill="#6700a8"/><rect x="91.63" y="644.77" width="6.15" height="6.15" fill="#7701a8"/><rect x="97.78" y="644.77" width="6.15" height="6.15" fill="#8707a6"/><rect x="103.93" y="644.77" width="6.15" height="6.15" fill="#9613a1"/><rect x="110.08" y="644.77" width="6.15" height="6.15" fill="#a72197"/><rect x="116.23" y="644.77" width="6.15" height="6.15" fill="#b52f8c"/><rect x="122.38" y="644.77" width="6.15" height="6.15" fill="#c7427c"/><rect x="128.52" y="644.77" width="6.15" height="6.15" fill="#d5546e"/><rect x="134.67" y="644.77" width="6.15" height="6.15" fill="#e76e5b"/><rect x="140.82" y="644.77" width="6.15" height="6.15" fill="#f3854b"/><rect x="146.97" y="644.77" width="6.15" height="6.15" fill="#f99a3e"/><rect x="153.12" y="644.77" width="6.15" height="6.15" fill="#fdb130"/><rect x="159.27" y="644.77" width="6.15" height="6.15" fill="#fdca26"/><rect x="165.42" y="644.77" width="6.15" height="6.15" fill="#fcce25"/><rect x="171.56" y="644.77" width="6.15" height="6.15" fill="#fbd324"/><rect x="177.71" y="644.77" width="6.15" height="6.15" fill="#fbd724"/><rect x="183.86" y="644.77" width="239.79" height="6.15" fill="#f6e826"/><rect x="423.65" y="644.77" width="6.15" height="6.15" fill="#febe2a"/><rect x="429.80" y="644.77" width="6.15" height="6.15" fill="#fdae32"/><rect x="435.95" y="644.77" width="6.15" height="6.15" fill="#fa9c3c"/><rect x="442.10" y="644.77" width="6.15" height="6.15" fill="#f68f44"/><rect x="448.25" y="644.77" width="6.15" height="6.15" fill="#f07f4f"/><rect x="454.40" y="644.77" width="6.15" height="6.15" fill="#e76e5b"/><rect x="460.54" y="644.77" width="6.15" height="6.15" fill="#ca457a"/><rect x="466.69" y="644.77" width="6.15" height="6.15" fill="#a62098"/><rect x="472.84" y="644.77" width="6.15" height="6.15" fill="#8e0ca4"/><rect x="478.99" y="644.77" width="6.15" height="6.15" fill="#7501a8"/><rect x="485.14" y="644.77" width="6.15" height="6.15" fill="#5601a4"/><rect x="491.29" y="644.77" width="6.15" height="6.15" fill="#3e049c"/><rect x="497.43" y="644.77" width="6.15" height="6.15" fill="#280592"/><rect x="503.58" y="644.77" width="6.15" height="6.15" fill="#20068f"/><rect x="36.30" y="650.92" width="12.30" height="6.15" fill="#20068f"/><rect x="48.59" y="650.92" width="6.15" height="6.15" fill="#2a0593"/><rect x="54.74" y="650.92" width="6.15" height="6.15" fill="#330597"/><rect x="60.89" y="650.92" width="6.15" height="6.15" fill="#3c049b"/><rect x="67.04" y="650.92" width="6.15" height="6.15" fill="#44039e"/><rect x="73.19" y="650.92" width="6.15" height="6.15" fill="#5102a3"/><rect x="79.34" y="650.92" width="6.15" height="6.15" fill="#5e01a6"/><rect x="85.48" y="650.92" width="6.15" height="6.15" fill="#6a00a8"/><rect x="91.63" y="650.92" width="6.15" height="6.15" fill="#7a02a8"/><rect x="97.78" y="650.92" width="6.15" height="6.15" fill="#8808a6"/><rect x="103.93" y="650.92" width="6.15" height="6.15" fill="#9814a0"/><rect x="110.08" y="650.92" width="6.15" height="6.15" fill="#a82296"/><rect x="116.23" y="650.92" width="6.15" height="6.15" fill="#b6308b"/><rect x="122.38" y="650.92" width="6.15" height="6.15" fill="#c8437b"/><rect x="128.52" y="650.92" width="6.15" height="6.15" fill="#d6556d"/><rect x="134.67" y="650.92" width="6.15" height="6.15" fill="#e76f5a"/><rect x="140.82" y="650.92" width="6.15" height="6.15" fill="#f3874a"/><rect x="146.97" y="650.92" width="6.15" height="6.15" fill="#fa9c3c"/><rect x="153.12" y="650.92" width="6.15" height="6.15" fill="#fdb42f"/><rect x="159.27" y="650.92" width="6.15" height="6.15" fill="#fcce25"/><rect x="165.42" y="650.92" width="6.15" height="6.15" fill="#fcd225"/><rect x="171.56" y="650.92" width="6.15" height="6.15" fill="#fbd324"/><rect x="177.71" y="650.92" width="6.15" height="6.15" fill="#fbd724"/><rect x="183.86" y="650.92" width="239.79" height="6.15" fill="#f6e826"/><rect x="423.65" y="650.92" width="6.15" height="6.15" fill="#feba2c"/><rect x="429.80" y="650.92" width="6.15" height="6.15" fill="#fca934"/><rect x="435.95" y="650.92" width="6.15" height="6.15" fill="#f9983e"/><rect x="442.10" y="650.92" width="6.15" height="6.15" fill="#f58b47"/><rect x="448.25" y="650.92" width="6.15" height="6.15" fill="#ef7e50"/><rect x="454.40" y="650.92" width="6.15" height="6.15" fill="#e56a5d"/><rect x="460.54" y="650.92" width="6.15" height="6.15" fill="#c6417d"/><rect x="466.69" y="650.92" width="6.15" height="6.15" fill="#a11b9b"/><rect x="472.84" y="650.92" width="6.15" height="6.15" fill="#8808a6"/><rect x="478.99" y="650.92" width="6.15" height="6.15" fill="#7201a8"/><rect x="485.14" y="650.92" width="6.15" height="6.15" fill="#5302a3"/><rect x="491.29" y="650.92" width="6.15" height="6.15" fill="#3c049b"/><rect x="497.43" y="650.92" width="6.15" height="6.15" fill="#260591"/><rect x="503.58" y="650.92" width="6.15" height="6.15" fill="#20068f"/><rect x="36.30" y="657.06" width="12.30" height="6.15" fill="#20068f"/><rect x="48.59" y="657.06" width="6.15" height="6.15" fill="#2a0593"/><rect x="54.74" y="657.06" width="6.15" height="6.15" fill="#310597"/><rect x="60.89" y="657.06" width="6.15" height="6.15" fill="#38049a"/><rect x="67.04" y="657.06" width="6.15" height="6.15" fill="#43039e"/><rect x="73.19" y="657.06" width="6.15" height="6.15" fill="#5002a2"/><rect x="79.34" y="657.06" width="6.15" height="6.15" fill="#5c01a6"/><rect x="85.48" y="657.06" width="6.15" height="6.15" fill="#6900a8"/><rect x="91.63" y="657.06" width="6.15" height="6.15" fill="#7801a8"/><rect x="97.78" y="657.06" width="6.15" height="6.15" fill="#8707a6"/><rect x="103.93" y="657.06" width="6.15" height="6.15" fill="#9613a1"/><rect x="110.08" y="657.06" width="6.15" height="6.15" fill="#a72197"/><rect x="116.23" y="657.06" width="6.15" height="6.15" fill="#b52f8c"/><rect x="122.38" y="657.06" width="6.15" height="6.15" fill="#c8437b"/><rect x="128.52" y="657.06" width="6.15" height="6.15" fill="#d9586a"/><rect x="134.67" y="657.06" width="6.15" height="6.15" fill="#ea7457"/><rect x="140.82" y="657.06" width="6.15" height="6.15" fill="#f58c46"/><rect x="146.97" y="657.06" width="6.15" height="6.15" fill="#fba238"/><rect x="153.12" y="657.06" width="6.15" height="6.15" fill="#feba2c"/><rect x="159.27" y="657.06" width="6.15" height="6.15" fill="#fcd025"/><rect x="165.42" y="657.06" width="6.15" height="6.15" fill="#fcd225"/><rect x="171.56" y="657.06" width="6.15" height="6.15" fill="#fbd524"/><rect x="177.71" y="657.06" width="239.79" height="6.15" fill="#f6e826"/><rect x="417.50" y="657.06" width="6.15" height="6.15" fill="#fbd724"/><rect x="423.65" y="657.06" width="6.15" height="6.15" fill="#feba2c"/><rect x="429.80" y="657.06" width="6.15" height="6.15" fill="#fca934"/><rect x="435.95" y="657.06" width="6.15" height="6.15" fill="#f9983e"/><rect x="442.10" y="657.06" width="6.15" height="6.15" fill="#f58b47"/><rect x="448.25" y="657.06" width="6.15" height="6.15" fill="#ef7e50"/><rect x="454.40" y="657.06" width="6.15" height="6.15" fill="#e4695e"/><rect x="460.54" y="657.06" width="6.15" height="6.15" fill="#c5407e"/><rect x="466.69" y="657.06" width="6.15" height="6.15" fill="#a11b9b"/><rect x="472.84" y="657.06" width="6.15" height="6.15" fill="#8808a6"/><rect x="478.99" y="657.06" width="6.15" height="6.15" fill="#7100a8"/><rect x="485.14" y="657.06" width="6.15" height="6.15" fill="#5302a3"/><rect x="491.29" y="657.06" width="6.15" height="6.15" fill="#3c049b"/><rect x="497.43" y="657.06" width="6.15" height="6.15" fill="#260591"/><rect x="503.58" y="657.06" width="6.15" height="6.15" fill="#20068f"/><rect x="30.15" y="663.21" width="6.15" height="6.15" fill="#20068f"/><rect x="36.30" y="663.21" width="12.30" height="6.15" fill="#220690"/><rect x="48.59" y="663.21" width="6.15" height="6.15" fill="#280592"/><rect x="54.74" y="663.21" width="6.15" height="6.15" fill="#2e0595"/><rect x="60.89" y="663.21" width="6.15" height="6.15" fill="#330597"/><rect x="67.04" y="663.21" width="6.15" height="6.15" fill="#41049d"/><rect x="73.19" y="663.21" width="6.15" height="6.15" fill="#5002a2"/><rect x="79.34" y="663.21" width="6.15" height="6.15" fill="#5c01a6"/><rect x="85.48" y="663.21" width="6.15" height="6.15" fill="#6900a8"/><rect x="91.63" y="663.21" width="6.15" height="6.15" fill="#7701a8"/><rect x="97.78" y="663.21" width="6.15" height="6.15" fill="#8405a7"/><rect x="103.93" y="663.21" width="6.15" height="6.15" fill="#9511a1"/><rect x="110.08" y="663.21" width="6.15" height="6.15" fill="#a51f99"/><rect x="116.23" y="663.21" width="6.15" height="6.15" fill="#b42e8d"/><rect x="122.38" y="663.21" width="6.15" height="6.15" fill="#c9447a"/><rect x="128.52" y="663.21" width="6.15" height="6.15" fill="#da5b69"/><rect x="134.67" y="663.21" width="6.15" height="6.15" fill="#ec7754"/><rect x="140.82" y="663.21" width="6.15" height="6.15" fill="#f79143"/><rect x="146.97" y="663.21" width="6.15" height="6.15" fill="#fca835"/><rect x="153.12" y="663.21" width="6.15" height="6.15" fill="#fdc229"/><rect x="159.27" y="663.21" width="6.15" height="6.15" fill="#fcd225"/><rect x="165.42" y="663.21" width="6.15" height="6.15" fill="#fbd324"/><rect x="171.56" y="663.21" width="6.15" height="6.15" fill="#fbd524"/><rect x="177.71" y="663.21" width="239.79" height="6.15" fill="#f6e826"/><rect x="417.50" y="663.21" width="6.15" height="6.15" fill="#fbd724"/><rect x="423.65" y="663.21" width="6.15" height="6.15" fill="#feba2c"/><rect x="429.80" y="663.21" width="6.15" height="6.15" fill="#fca934"/><rect x="435.95" y="663.21" width="6.15" height="6.15" fill="#f9983e"/><rect x="442.10" y="663.21" width="6.15" height="6.15" fill="#f58b47"/><rect x="448.25" y="663.21" width="6.15" height="6.15" fill="#ef7e50"/><rect x="454.40" y="663.21" width="6.15" height="6.15" fill="#e3685f"/><rect x="460.54" y="663.21" width="6.15" height="6.15" fill="#c33d80"/><rect x="466.69" y="663.21" width="6.15" height="6.15" fill="#a11b9b"/><rect x="472.84" y="663.21" width="6.15" height="6.15" fill="#8808a6"/><rect x="478.99" y="663.21" width="6.15" height="6.15" fill="#6f00a8"/><rect x="485.14" y="663.21" width="6.15" height="6.15" fill="#5102a3"/><rect x="491.29" y="663.21" width="6.15" height="6.15" fill="#3c049b"/><rect x="497.43" y="663.21" width="6.15" height="6.15" fill="#260591"/><rect x="503.58" y="663.21" width="6.15" height="6.15" fill="#20068f"/><rect x="30.15" y="669.36" width="6.15" height="6.15" fill="#20068f"/><rect x="36.30" y="669.36" width="12.30" height="6.15" fill="#220690"/><rect x="48.59" y="669.36" width="6.15" height="6.15" fill="#260591"/><rect x="54.74" y="669.36" width="6.15" height="6.15" fill="#2c0594"/><rect x="60.89" y="669.36" width="6.15" height="6.15" fill="#2f0596"/><rect x="67.04" y="669.36" width="6.15" height="6.15" fill="#3e049c"/><rect x="73.19" y="669.36" width="6.15" height="6.15" fill="#4e02a2"/><rect x="79.34" y="669.36" width="6.15" height="6.15" fill="#5b01a5"/><rect x="85.48" y="669.36" width="6.15" height="6.15" fill="#6700a8"/><rect x="91.63" y="669.36" width="6.15" height="6.15" fill="#7501a8"/><rect x="97.78" y="669.36" width="6.15" height="6.15" fill="#8305a7"/><rect x="103.93" y="669.36" width="6.15" height="6.15" fill="#9410a2"/><rect x="110.08" y="669.36" width="6.15" height="6.15" fill="#a31e9a"/><rect x="116.23" y="669.36" width="6.15" height="6.15" fill="#b32c8e"/><rect x="122.38" y="669.36" width="6.15" height="6.15" fill="#ca457a"/><rect x="128.52" y="669.36" width="6.15" height="6.15" fill="#dd5e66"/><rect x="134.67" y="669.36" width="6.15" height="6.15" fill="#ee7b51"/><rect x="140.82" y="669.36" width="6.15" height="6.15" fill="#f9973f"/><rect x="146.97" y="669.36" width="6.15" height="6.15" fill="#fdae32"/><rect x="153.12" y="669.36" width="6.15" height="6.15" fill="#fdc827"/><rect x="159.27" y="669.36" width="6.15" height="6.15" fill="#fbd324"/><rect x="165.42" y="669.36" width="12.30" height="6.15" fill="#fbd524"/><rect x="177.71" y="669.36" width="239.79" height="6.15" fill="#f6e826"/><rect x="417.50" y="669.36" width="6.15" height="6.15" fill="#fbd724"/><rect x="423.65" y="669.36" width="6.15" height="6.15" fill="#feba2c"/><rect x="429.80" y="669.36" width="6.15" height="6.15" fill="#fca934"/><rect x="435.95" y="669.36" width="6.15" height="6.15" fill="#f9983e"/><rect x="442.10" y="669.36" width="6.15" height="6.15" fill="#f58b47"/><rect x="448.25" y="669.36" width="6.15" height="6.15" fill="#ef7e50"/><rect x="454.40" y="669.36" width="6.15" height="6.15" fill="#e26660"/><rect x="460.54" y="669.36" width="6.15" height="6.15" fill="#c23c81"/><rect x="466.69" y="669.36" width="6.15" height="6.15" fill="#a11b9b"/><rect x="472.84" y="669.36" width="6.15" height="6.15" fill="#8808a6"/><rect x="478.99" y="669.36" width="6.15" height="6.15" fill="#6e00a8"/><rect x="485.14" y="669.36" width="6.15" height="6.15" fill="#5002a2"/><rect x="491.29" y="669.36" width="6.15" height="6.15" fill="#3c049b"/><rect x="497.43" y="669.36" width="6.15" height="6.15" fill="#260591"/><rect x="503.58" y="669.36" width="6.15" height="6.15" fill="#20068f"/><rect x="30.15" y="675.50" width="18.45" height="6.15" fill="#220690"/><rect x="48.59" y="675.50" width="6.15" height="6.15" fill="#260591"/><rect x="54.74" y="675.50" width="6.15" height="6.15" fill="#280592"/><rect x="60.89" y="675.50" width="6.15" height="6.15" fill="#2c0594"/><rect x="67.04" y="675.50" width="6.15" height="6.15" fill="#3c049b"/><rect x="73.19" y="675.50" width="6.15" height="6.15" fill="#4c02a1"/><rect x="79.34" y="675.50" width="6.15" height="6.15" fill="#5b01a5"/><rect x="85.48" y="675.50" width="6.15" height="6.15" fill="#6700a8"/><rect x="91.63" y="675.50" width="6.15" height="6.15" fill="#7401a8"/><rect x="97.78" y="675.50" width="6.15" height="6.15" fill="#8004a8"/><rect x="103.93" y="675.50" width="6.15" height="6.15" fill="#920fa3"/><rect x="110.08" y="675.50" width="6.15" height="6.15" fill="#a21d9a"/><rect x="116.23" y="675.50" width="6.15" height="6.15" fill="#b22b8f"/><rect x="122.38" y="675.50" width="6.15" height="6.15" fill="#cb4679"/><rect x="128.52" y="675.50" width="6.15" height="6.15" fill="#df6263"/><rect x="134.67" y="675.50" width="6.15" height="6.15" fill="#f07f4f"/><rect x="140.82" y="675.50" width="6.15" height="6.15" fill="#fa9b3d"/><rect x="146.97" y="675.50" width="6.15" height="6.15" fill="#fdb42f"/><rect x="153.12" y="675.50" width="6.15" height="6.15" fill="#fcd025"/><rect x="159.27" y="675.50" width="12.30" height="6.15" fill="#fbd524"/><rect x="171.56" y="675.50" width="6.15" height="6.15" fill="#fbd724"/><rect x="177.71" y="675.50" width="239.79" height="6.15" fill="#f6e826"/><rect x="417.50" y="675.50" width="6.15" height="6.15" fill="#fbd324"/><rect x="423.65" y="675.50" width="6.15" height="6.15" fill="#feba2c"/><rect x="429.80" y="675.50" width="6.15" height="6.15" fill="#fca934"/><rect x="435.95" y="675.50" width="6.15" height="6.15" fill="#f9983e"/><rect x="442.10" y="675.50" width="6.15" height="6.15" fill="#f58b47"/><rect x="448.25" y="675.50" width="6.15" height="6.15" fill="#ef7e50"/><rect x="454.40" y="675.50" width="6.15" height="6.15" fill="#e26561"/><rect x="460.54" y="675.50" width="6.15" height="6.15" fill="#c03a83"/><rect x="466.69" y="675.50" width="6.15" height="6.15" fill="#a11b9b"/><rect x="472.84" y="675.50" width="6.15" height="6.15" fill="#8808a6"/><rect x="478.99" y="675.50" width="6.15" height="6.15" fill="#6c00a8"/><rect x="485.14" y="675.50" width="6.15" height="6.15" fill="#5002a2"/><rect x="491.29" y="675.50" width="6.15" height="6.15" fill="#3c049b"/><rect x="497.43" y="675.50" width="6.15" height="6.15" fill="#260591"/><rect x="503.58" y="675.50" width="6.15" height="6.15" fill="#20068f"/><rect x="24.00" y="681.65" width="6.15" height="6.15" fill="#20068f"/><rect x="30.15" y="681.65" width="12.30" height="6.15" fill="#220690"/><rect x="42.45" y="681.65" width="12.30" height="6.15" fill="#240691"/><rect x="54.74" y="681.65" width="12.30" height="6.15" fill="#260591"/><rect x="67.04" y="681.65" width="6.15" height="6.15" fill="#3a049a"/><rect x="73.19" y="681.65" width="6.15" height="6.15" fill="#4b03a1"/><rect x="79.34" y="681.65" width="6.15" height="6.15" fill="#5901a5"/><rect x="85.48" y="681.65" width="6.15" height="6.15" fill="#6700a8"/><rect x="91.63" y="681.65" width="6.15" height="6.15" fill="#7201a8"/><rect x="97.78" y="681.65" width="6.15" height="6.15" fill="#7e03a8"/><rect x="103.93" y="681.65" width="6.15" height="6.15" fill="#8f0da4"/><rect x="110.08" y="681.65" width="6.15" height="6.15" fill="#a11b9b"/><rect x="116.23" y="681.65" width="6.15" height="6.15" fill="#b12a90"/><rect x="122.38" y="681.65" width="6.15" height="6.15" fill="#cc4778"/><rect x="128.52" y="681.65" width="6.15" height="6.15" fill="#e16462"/><rect x="134.67" y="681.65" width="6.15" height="6.15" fill="#f2844b"/><rect x="140.82" y="681.65" width="6.15" height="6.15" fill="#fba139"/><rect x="146.97" y="681.65" width="6.15" height="6.15" fill="#feba2c"/><rect x="153.12" y="681.65" width="18.45" height="6.15" fill="#fbd724"/><rect x="171.56" y="681.65" width="245.94" height="6.15" fill="#f6e826"/><rect x="417.50" y="681.65" width="6.15" height="6.15" fill="#fcce25"/><rect x="423.65" y="681.65" width="6.15" height="6.15" fill="#feba2c"/><rect x="429.80" y="681.65" width="6.15" height="6.15" fill="#fca934"/><rect x="435.95" y="681.65" width="6.15" height="6.15" fill="#f9983e"/><rect x="442.10" y="681.65" width="6.15" height="6.15" fill="#f58b47"/><rect x="448.25" y="681.65" width="6.15" height="6.15" fill="#ef7e50"/><rect x="454.40" y="681.65" width="6.15" height="6.15" fill="#e16462"/><rect x="460.54" y="681.65" width="6.15" height="6.15" fill="#bf3984"/><rect x="466.69" y="681.65" width="6.15" height="6.15" fill="#a11b9b"/><rect x="472.84" y="681.65" width="6.15" height="6.15" fill="#8808a6"/><rect x="478.99" y="681.65" width="6.15" height="6.15" fill="#6a00a8"/><rect x="485.14" y="681.65" width="6.15" height="6.15" fill="#4e02a2"/><rect x="491.29" y="681.65" width="6.15" height="6.15" fill="#3c049b"/><rect x="497.43" y="681.65" width="6.15" height="6.15" fill="#260591"/><rect x="503.58" y="681.65" width="6.15" height="6.15" fill="#20068f"/><path d="M24.5 67V687.8M644.5 67V687.8M24 67.5H645M24 687.3H645" stroke="#000" stroke-width="1" fill="none"/><line x1="89.50" x2="89.50" y1="687.80" y2="692.60" stroke="#000" stroke-width="1.1"/><line x1="89.50" x2="89.50" y1="67.00" y2="62.10" stroke="#000" stroke-width="1.1"/><line x1="24.00" x2="19.10" y1="622.50" y2="622.50" stroke="#000" stroke-width="1.1"/><line x1="645.00" x2="649.90" y1="622.50" y2="622.50" stroke="#000" stroke-width="1.1"/><text transform="translate(69.55,712.55) scale(1.1981,1)" font-size="18.71">−40</text><text transform="translate(655.55,630.55) scale(1.1981,1)" font-size="18.71">−40</text><line x1="211.50" x2="211.50" y1="687.80" y2="692.60" stroke="#000" stroke-width="1.1"/><line x1="211.50" x2="211.50" y1="67.00" y2="62.10" stroke="#000" stroke-width="1.1"/><line x1="24.00" x2="19.10" y1="499.50" y2="499.50" stroke="#000" stroke-width="1.1"/><line x1="645.00" x2="649.90" y1="499.50" y2="499.50" stroke="#000" stroke-width="1.1"/><text transform="translate(192.55,712.55) scale(1.1981,1)" font-size="18.71">−20</text><text transform="translate(655.55,507.55) scale(1.1981,1)" font-size="18.71">−20</text><line x1="334.50" x2="334.50" y1="687.80" y2="692.60" stroke="#000" stroke-width="1.1"/><line x1="334.50" x2="334.50" y1="67.00" y2="62.10" stroke="#000" stroke-width="1.1"/><line x1="24.00" x2="19.10" y1="376.50" y2="376.50" stroke="#000" stroke-width="1.1"/><line x1="645.00" x2="649.90" y1="376.50" y2="376.50" stroke="#000" stroke-width="1.1"/><text transform="translate(329.88,712.55) scale(1.0130,1)" font-size="18.71">0</text><text transform="translate(654.88,384.55) scale(1.0130,1)" font-size="18.71">0</text><line x1="457.50" x2="457.50" y1="687.80" y2="692.60" stroke="#000" stroke-width="1.1"/><line x1="457.50" x2="457.50" y1="67.00" y2="62.10" stroke="#000" stroke-width="1.1"/><line x1="24.00" x2="19.10" y1="254.50" y2="254.50" stroke="#000" stroke-width="1.1"/><line x1="645.00" x2="649.90" y1="254.50" y2="254.50" stroke="#000" stroke-width="1.1"/><text transform="translate(446.46,712.55) scale(1.0530,1)" font-size="18.71">20</text><text transform="translate(654.46,261.55) scale(1.0530,1)" font-size="18.71">20</text><line x1="580.50" x2="580.50" y1="687.80" y2="692.60" stroke="#000" stroke-width="1.1"/><line x1="580.50" x2="580.50" y1="67.00" y2="62.10" stroke="#000" stroke-width="1.1"/><line x1="24.00" x2="19.10" y1="131.50" y2="131.50" stroke="#000" stroke-width="1.1"/><line x1="645.00" x2="649.90" y1="131.50" y2="131.50" stroke="#000" stroke-width="1.1"/><text transform="translate(570.07,712.55) scale(1.0229,1)" font-size="18.71">40</text><text transform="translate(656.07,138.55) scale(1.0229,1)" font-size="18.71">40</text><text transform="translate(252.99,744.8) scale(1.0774,1)" font-size="26.23">Longitude</text><path d="M392.4 726.85H387.85V748.05H392.4M409.2 726.85H414.05V748.05H409.2" fill="none" stroke="#000" stroke-width="1.9" shape-rendering="geometricPrecision"/><circle cx="400.45" cy="729.65" r="1.9" fill="none" stroke="#000" stroke-width="1.1"/><g transform="translate(0,761) rotate(-90)"><text transform="translate(312.47,720.2) scale(1.0991,1)" font-size="25.94">Latitude</text></g><path d="M701.95 331.5V335.85H723.05V331.5M701.95 314.8V310.15H723.05V314.8" fill="none" stroke="#000" stroke-width="1.9" shape-rendering="geometricPrecision"/><circle cx="704.5" cy="323.3" r="1.9" fill="none" stroke="#000" stroke-width="1.1"/><circle cx="316.60" cy="375.40" r="8.2" fill="#03136b" stroke="#000" stroke-width="1.3"/><circle cx="409.30" cy="364.40" r="8.2" fill="#a50026" stroke="#000" stroke-width="1.3"/><circle cx="312.40" cy="355.30" r="8.2" fill="#3f56a0" stroke="#000" stroke-width="1.3"/><circle cx="334.50" cy="334.40" r="8.2" fill="#e4503a" stroke="#000" stroke-width="1.3"/><rect x="33.4" y="570.3" width="92.6" height="108.2" rx="3" fill="#fff" fill-opacity="0.5" stroke="#ccc" stroke-opacity="0.5" stroke-width="1"/><circle cx="58.2" cy="584.80" r="8.2" fill="#03136b" stroke="#000" stroke-width="1.3"/><text transform="translate(84.75,591.70) scale(1.0452,1)" font-size="18.40">bep</text><circle cx="58.2" cy="610.17" r="8.2" fill="#a50026" stroke="#000" stroke-width="1.3"/><text transform="translate(85.30,617.07) scale(1.0823,1)" font-size="18.40">sol</text><circle cx="58.2" cy="635.54" r="8.2" fill="#3f56a0" stroke="#000" stroke-width="1.3"/><text transform="translate(84.73,642.44) scale(1.0616,1)" font-size="18.40">psp</text><circle cx="58.2" cy="660.91" r="8.2" fill="#e4503a" stroke="#000" stroke-width="1.3"/><text transform="translate(85.32,667.81) scale(1.0452,1)" font-size="18.40">sta</text></svg></body></html>
